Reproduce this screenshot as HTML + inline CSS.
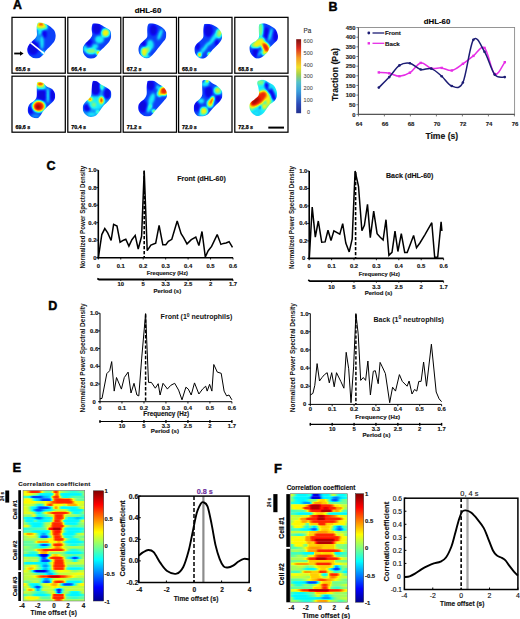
<!DOCTYPE html>
<html><head><meta charset="utf-8"><title>figure</title>
<style>
html,body{margin:0;padding:0;background:#fff;}
body{width:520px;height:619px;overflow:hidden;}
svg{display:block;}
text{font-family:'Liberation Sans',sans-serif;}
</style></head><body>
<svg width="520" height="619" viewBox="0 0 520 619">
<defs>
<filter id="cblur" x="-30%" y="-30%" width="160%" height="160%"><feGaussianBlur stdDeviation="8"/></filter><filter id="cblur2" x="-30%" y="-30%" width="160%" height="160%"><feGaussianBlur stdDeviation="7"/></filter><filter id="amap" x="-10%" y="-10%" width="120%" height="120%" color-interpolation-filters="sRGB"><feGaussianBlur stdDeviation="9"/><feComponentTransfer><feFuncR type="table" tableValues="0.05 0.05 0.05 0.1 0.5 0.98 0.98 0.92 0.55"/><feFuncG type="table" tableValues="0.02 0.05 0.45 0.95 0.98 0.95 0.55 0.1 0.02"/><feFuncB type="table" tableValues="0.56 0.98 0.98 0.98 0.5 0.05 0.02 0.02 0.02"/></feComponentTransfer></filter><clipPath id="cellclip0"><path d="M260.0,65.0 C275.0,62.5 308.3,74.2 330.0,85.0 C351.7,95.8 376.7,114.2 390.0,130.0 C403.3,145.8 408.3,163.3 410.0,180.0 C411.7,196.7 408.3,213.3 400.0,230.0 C391.7,246.7 373.3,265.0 360.0,280.0 C346.7,295.0 330.0,307.5 320.0,320.0 C310.0,332.5 308.3,345.0 300.0,355.0 C291.7,365.0 281.7,374.2 270.0,380.0 C258.3,385.8 243.3,390.8 230.0,390.0 C216.7,389.2 201.7,383.3 190.0,375.0 C178.3,366.7 165.8,352.5 160.0,340.0 C154.2,327.5 152.5,313.3 155.0,300.0 C157.5,286.7 165.0,273.3 175.0,260.0 C185.0,246.7 204.2,232.5 215.0,220.0 C225.8,207.5 235.8,198.3 240.0,185.0 C244.2,171.7 240.0,154.2 240.0,140.0 C240.0,125.8 236.7,112.5 240.0,100.0 C243.3,87.5 245.0,67.5 260.0,65.0Z"/></clipPath><clipPath id="cellclip1"><path d="M250.0,75.0 C260.8,73.3 283.3,74.2 300.0,80.0 C316.7,85.8 334.2,100.0 350.0,110.0 C365.8,120.0 385.8,126.7 395.0,140.0 C404.2,153.3 405.8,174.2 405.0,190.0 C404.2,205.8 399.2,220.0 390.0,235.0 C380.8,250.0 365.0,264.2 350.0,280.0 C335.0,295.8 312.5,315.0 300.0,330.0 C287.5,345.0 285.0,360.0 275.0,370.0 C265.0,380.0 253.3,387.5 240.0,390.0 C226.7,392.5 208.3,391.7 195.0,385.0 C181.7,378.3 167.5,364.2 160.0,350.0 C152.5,335.8 148.3,315.0 150.0,300.0 C151.7,285.0 160.0,273.3 170.0,260.0 C180.0,246.7 199.2,233.3 210.0,220.0 C220.8,206.7 231.7,195.0 235.0,180.0 C238.3,165.0 230.0,145.0 230.0,130.0 C230.0,115.0 231.7,99.2 235.0,90.0 C238.3,80.8 239.2,76.7 250.0,75.0Z"/></clipPath><clipPath id="cellclip2"><path d="M260.0,75.0 C273.3,73.3 300.0,77.5 320.0,85.0 C340.0,92.5 365.8,107.5 380.0,120.0 C394.2,132.5 401.7,145.0 405.0,160.0 C408.3,175.0 405.8,195.0 400.0,210.0 C394.2,225.0 381.7,235.0 370.0,250.0 C358.3,265.0 343.3,283.3 330.0,300.0 C316.7,316.7 303.3,335.8 290.0,350.0 C276.7,364.2 263.3,379.2 250.0,385.0 C236.7,390.8 223.3,390.0 210.0,385.0 C196.7,380.0 179.2,367.5 170.0,355.0 C160.8,342.5 155.0,325.0 155.0,310.0 C155.0,295.0 160.8,279.2 170.0,265.0 C179.2,250.8 199.2,236.7 210.0,225.0 C220.8,213.3 230.8,209.2 235.0,195.0 C239.2,180.8 234.2,156.7 235.0,140.0 C235.8,123.3 235.8,105.8 240.0,95.0 C244.2,84.2 246.7,76.7 260.0,75.0Z"/></clipPath><clipPath id="cellclip3"><path d="M260.0,80.0 C271.7,78.3 300.0,78.3 320.0,85.0 C340.0,91.7 365.0,106.7 380.0,120.0 C395.0,133.3 405.0,149.2 410.0,165.0 C415.0,180.8 415.0,199.2 410.0,215.0 C405.0,230.8 393.3,244.2 380.0,260.0 C366.7,275.8 345.0,293.3 330.0,310.0 C315.0,326.7 303.3,346.7 290.0,360.0 C276.7,373.3 263.3,385.8 250.0,390.0 C236.7,394.2 222.5,391.7 210.0,385.0 C197.5,378.3 182.5,364.2 175.0,350.0 C167.5,335.8 163.3,315.0 165.0,300.0 C166.7,285.0 175.0,272.5 185.0,260.0 C195.0,247.5 215.0,235.8 225.0,225.0 C235.0,214.2 241.7,209.2 245.0,195.0 C248.3,180.8 244.2,156.7 245.0,140.0 C245.8,123.3 247.5,105.0 250.0,95.0 C252.5,85.0 248.3,81.7 260.0,80.0Z"/></clipPath><clipPath id="cellclip4"><path d="M260.0,80.0 C268.3,75.8 283.3,71.7 300.0,75.0 C316.7,78.3 343.3,90.8 360.0,100.0 C376.7,109.2 390.0,116.7 400.0,130.0 C410.0,143.3 417.5,164.2 420.0,180.0 C422.5,195.8 421.7,211.7 415.0,225.0 C408.3,238.3 390.8,249.2 380.0,260.0 C369.2,270.8 358.3,278.3 350.0,290.0 C341.7,301.7 338.3,318.3 330.0,330.0 C321.7,341.7 313.3,350.0 300.0,360.0 C286.7,370.0 265.0,386.7 250.0,390.0 C235.0,393.3 222.5,388.3 210.0,380.0 C197.5,371.7 182.5,355.0 175.0,340.0 C167.5,325.0 163.3,304.2 165.0,290.0 C166.7,275.8 175.0,265.0 185.0,255.0 C195.0,245.0 214.2,239.2 225.0,230.0 C235.8,220.8 245.8,213.3 250.0,200.0 C254.2,186.7 250.0,166.7 250.0,150.0 C250.0,133.3 248.3,111.7 250.0,100.0 C251.7,88.3 251.7,84.2 260.0,80.0Z"/></clipPath><clipPath id="cellclip5"><path d="M250.0,80.0 C259.2,76.3 281.7,81.3 295.0,88.0 C308.3,94.7 315.8,110.5 330.0,120.0 C344.2,129.5 367.5,132.5 380.0,145.0 C392.5,157.5 402.5,178.3 405.0,195.0 C407.5,211.7 404.2,229.2 395.0,245.0 C385.8,260.8 365.8,274.2 350.0,290.0 C334.2,305.8 313.3,324.2 300.0,340.0 C286.7,355.8 279.2,374.2 270.0,385.0 C260.8,395.8 255.8,402.5 245.0,405.0 C234.2,407.5 217.5,405.8 205.0,400.0 C192.5,394.2 177.8,381.7 170.0,370.0 C162.2,358.3 157.2,345.0 158.0,330.0 C158.8,315.0 165.5,293.3 175.0,280.0 C184.5,266.7 204.5,260.8 215.0,250.0 C225.5,239.2 233.8,230.0 238.0,215.0 C242.2,200.0 239.7,177.5 240.0,160.0 C240.3,142.5 238.3,123.3 240.0,110.0 C241.7,96.7 240.8,83.7 250.0,80.0Z"/></clipPath><clipPath id="cellclip6"><path d="M245.0,70.0 C251.7,66.7 264.2,70.0 275.0,75.0 C285.8,80.0 296.7,91.7 310.0,100.0 C323.3,108.3 340.0,115.0 355.0,125.0 C370.0,135.0 391.7,145.8 400.0,160.0 C408.3,174.2 408.3,195.0 405.0,210.0 C401.7,225.0 390.8,236.7 380.0,250.0 C369.2,263.3 351.7,276.7 340.0,290.0 C328.3,303.3 319.2,317.5 310.0,330.0 C300.8,342.5 295.0,355.0 285.0,365.0 C275.0,375.0 264.2,385.8 250.0,390.0 C235.8,394.2 215.0,395.8 200.0,390.0 C185.0,384.2 168.3,369.2 160.0,355.0 C151.7,340.8 148.3,320.0 150.0,305.0 C151.7,290.0 161.7,276.7 170.0,265.0 C178.3,253.3 190.8,245.0 200.0,235.0 C209.2,225.0 220.0,219.2 225.0,205.0 C230.0,190.8 228.3,168.3 230.0,150.0 C231.7,131.7 232.5,108.3 235.0,95.0 C237.5,81.7 238.3,73.3 245.0,70.0Z"/></clipPath><clipPath id="cellclip7"><path d="M245.0,70.0 C254.2,67.5 274.2,65.0 290.0,70.0 C305.8,75.0 324.2,90.0 340.0,100.0 C355.8,110.0 373.3,118.3 385.0,130.0 C396.7,141.7 405.8,155.8 410.0,170.0 C414.2,184.2 415.0,200.8 410.0,215.0 C405.0,229.2 391.7,240.8 380.0,255.0 C368.3,269.2 352.5,285.8 340.0,300.0 C327.5,314.2 316.7,326.7 305.0,340.0 C293.3,353.3 282.5,371.7 270.0,380.0 C257.5,388.3 243.3,390.8 230.0,390.0 C216.7,389.2 201.7,383.3 190.0,375.0 C178.3,366.7 165.8,353.3 160.0,340.0 C154.2,326.7 152.5,308.3 155.0,295.0 C157.5,281.7 165.8,270.8 175.0,260.0 C184.2,249.2 200.8,241.7 210.0,230.0 C219.2,218.3 226.7,206.7 230.0,190.0 C233.3,173.3 229.2,147.5 230.0,130.0 C230.8,112.5 232.5,95.0 235.0,85.0 C237.5,75.0 235.8,72.5 245.0,70.0Z"/></clipPath><clipPath id="cellclip8"><path d="M245.0,65.0 C254.2,61.7 275.8,60.0 290.0,65.0 C304.2,70.0 315.8,85.8 330.0,95.0 C344.2,104.2 361.7,109.2 375.0,120.0 C388.3,130.8 403.3,145.0 410.0,160.0 C416.7,175.0 417.5,195.0 415.0,210.0 C412.5,225.0 405.8,235.8 395.0,250.0 C384.2,264.2 364.2,280.0 350.0,295.0 C335.8,310.0 321.7,326.7 310.0,340.0 C298.3,353.3 291.7,366.7 280.0,375.0 C268.3,383.3 254.2,388.3 240.0,390.0 C225.8,391.7 207.5,391.7 195.0,385.0 C182.5,378.3 170.8,364.2 165.0,350.0 C159.2,335.8 157.5,315.0 160.0,300.0 C162.5,285.0 170.8,271.7 180.0,260.0 C189.2,248.3 205.8,240.8 215.0,230.0 C224.2,219.2 231.7,210.0 235.0,195.0 C238.3,180.0 235.0,158.3 235.0,140.0 C235.0,121.7 233.3,97.5 235.0,85.0 C236.7,72.5 235.8,68.3 245.0,65.0Z"/></clipPath><clipPath id="cellclip9"><path d="M245.0,70.0 C254.2,64.2 274.2,57.5 290.0,60.0 C305.8,62.5 324.2,75.8 340.0,85.0 C355.8,94.2 373.3,101.7 385.0,115.0 C396.7,128.3 405.8,148.3 410.0,165.0 C414.2,181.7 413.3,200.8 410.0,215.0 C406.7,229.2 400.0,239.2 390.0,250.0 C380.0,260.8 361.7,268.3 350.0,280.0 C338.3,291.7 330.0,306.7 320.0,320.0 C310.0,333.3 302.5,349.2 290.0,360.0 C277.5,370.8 260.0,383.3 245.0,385.0 C230.0,386.7 212.5,379.2 200.0,370.0 C187.5,360.8 175.8,344.2 170.0,330.0 C164.2,315.8 162.5,297.5 165.0,285.0 C167.5,272.5 175.0,265.0 185.0,255.0 C195.0,245.0 214.2,235.8 225.0,225.0 C235.8,214.2 246.7,205.8 250.0,190.0 C253.3,174.2 247.5,145.8 245.0,130.0 C242.5,114.2 235.0,105.0 235.0,95.0 C235.0,85.0 235.8,75.8 245.0,70.0Z"/></clipPath><linearGradient id="acb" x1="0" y1="1" x2="0" y2="0"><stop offset="0.0" stop-color="#23328f"/><stop offset="0.12" stop-color="#2a48b8"/><stop offset="0.3" stop-color="#3aa0dc"/><stop offset="0.42" stop-color="#54c2c8"/><stop offset="0.52" stop-color="#a0d050"/><stop offset="0.62" stop-color="#f0e028"/><stop offset="0.75" stop-color="#f39a22"/><stop offset="0.88" stop-color="#dc2a1e"/><stop offset="1.0" stop-color="#7a1212"/></linearGradient><linearGradient id="jetv" x1="0" y1="1" x2="0" y2="0"><stop offset="0.0" stop-color="#00008f"/><stop offset="0.125" stop-color="#0000ff"/><stop offset="0.375" stop-color="#00ffff"/><stop offset="0.625" stop-color="#ffff00"/><stop offset="0.875" stop-color="#ff0000"/><stop offset="1.0" stop-color="#800000"/></linearGradient><filter id="hblur" x="-20%" y="-20%" width="140%" height="140%"><feGaussianBlur stdDeviation="1.1 0.6"/></filter><filter id="jetmap" x="-5%" y="-5%" width="110%" height="110%" color-interpolation-filters="sRGB"><feGaussianBlur stdDeviation="0.5 0.35"/><feComponentTransfer><feFuncR type="table" tableValues="0 0 0 0 0.5 1 1 1 0.5"/><feFuncG type="table" tableValues="0 0 0.5 1 1 1 0.5 0 0"/><feFuncB type="table" tableValues="0.56 1 1 1 0.5 0 0 0 0"/></feComponentTransfer></filter><clipPath id="clipE"><rect x="23.10" y="490.40" width="61.60" height="110.60"/></clipPath><linearGradient id="clipEr0" gradientUnits="userSpaceOnUse" x1="23.10" y1="0" x2="84.70" y2="0"><stop offset="0.000" stop-color="#a1a1a1"/><stop offset="0.024" stop-color="#a1a1a1"/><stop offset="0.048" stop-color="#a1a1a1"/><stop offset="0.071" stop-color="#afafaf"/><stop offset="0.095" stop-color="#b9b9b9"/><stop offset="0.119" stop-color="#cecece"/><stop offset="0.143" stop-color="#d6d6d6"/><stop offset="0.167" stop-color="#d6d6d6"/><stop offset="0.190" stop-color="#d6d6d6"/><stop offset="0.214" stop-color="#d6d6d6"/><stop offset="0.238" stop-color="#d5d5d5"/><stop offset="0.262" stop-color="#cdcdcd"/><stop offset="0.286" stop-color="#b7b7b7"/><stop offset="0.310" stop-color="#9d9d9d"/><stop offset="0.333" stop-color="#8c8c8c"/><stop offset="0.357" stop-color="#7f7f7f"/><stop offset="0.381" stop-color="#797979"/><stop offset="0.405" stop-color="#777777"/><stop offset="0.429" stop-color="#787878"/><stop offset="0.452" stop-color="#7d7d7d"/><stop offset="0.476" stop-color="#969696"/><stop offset="0.500" stop-color="#c1c1c1"/><stop offset="0.524" stop-color="#d3d3d3"/><stop offset="0.548" stop-color="#d1d1d1"/><stop offset="0.571" stop-color="#bababa"/><stop offset="0.595" stop-color="#999999"/><stop offset="0.619" stop-color="#8b8b8b"/><stop offset="0.643" stop-color="#868686"/><stop offset="0.667" stop-color="#808080"/><stop offset="0.690" stop-color="#7b7b7b"/><stop offset="0.714" stop-color="#777777"/><stop offset="0.738" stop-color="#737373"/><stop offset="0.762" stop-color="#6f6f6f"/><stop offset="0.786" stop-color="#6b6b6b"/><stop offset="0.810" stop-color="#6a6a6a"/><stop offset="0.833" stop-color="#6a6a6a"/><stop offset="0.857" stop-color="#6b6b6b"/><stop offset="0.881" stop-color="#6f6f6f"/><stop offset="0.905" stop-color="#737373"/><stop offset="0.929" stop-color="#777777"/><stop offset="0.952" stop-color="#7a7a7a"/><stop offset="0.976" stop-color="#7c7c7c"/><stop offset="1.000" stop-color="#7d7d7d"/></linearGradient><linearGradient id="clipEr1" gradientUnits="userSpaceOnUse" x1="23.10" y1="0" x2="84.70" y2="0"><stop offset="0.000" stop-color="#9a9a9a"/><stop offset="0.024" stop-color="#9d9d9d"/><stop offset="0.048" stop-color="#9f9f9f"/><stop offset="0.071" stop-color="#9f9f9f"/><stop offset="0.095" stop-color="#9e9e9e"/><stop offset="0.119" stop-color="#9a9a9a"/><stop offset="0.143" stop-color="#969696"/><stop offset="0.167" stop-color="#919191"/><stop offset="0.190" stop-color="#8d8d8d"/><stop offset="0.214" stop-color="#878787"/><stop offset="0.238" stop-color="#7c7c7c"/><stop offset="0.262" stop-color="#6d6d6d"/><stop offset="0.286" stop-color="#606060"/><stop offset="0.310" stop-color="#5e5e5e"/><stop offset="0.333" stop-color="#5e5e5e"/><stop offset="0.357" stop-color="#5e5e5e"/><stop offset="0.381" stop-color="#5e5e5e"/><stop offset="0.405" stop-color="#5e5e5e"/><stop offset="0.429" stop-color="#5e5e5e"/><stop offset="0.452" stop-color="#5e5e5e"/><stop offset="0.476" stop-color="#656565"/><stop offset="0.500" stop-color="#8b8b8b"/><stop offset="0.524" stop-color="#b3b3b3"/><stop offset="0.548" stop-color="#c5c5c5"/><stop offset="0.571" stop-color="#bababa"/><stop offset="0.595" stop-color="#858585"/><stop offset="0.619" stop-color="#636363"/><stop offset="0.643" stop-color="#5e5e5e"/><stop offset="0.667" stop-color="#5e5e5e"/><stop offset="0.690" stop-color="#5e5e5e"/><stop offset="0.714" stop-color="#5e5e5e"/><stop offset="0.738" stop-color="#5e5e5e"/><stop offset="0.762" stop-color="#5e5e5e"/><stop offset="0.786" stop-color="#5e5e5e"/><stop offset="0.810" stop-color="#5e5e5e"/><stop offset="0.833" stop-color="#5e5e5e"/><stop offset="0.857" stop-color="#5e5e5e"/><stop offset="0.881" stop-color="#5e5e5e"/><stop offset="0.905" stop-color="#5e5e5e"/><stop offset="0.929" stop-color="#606060"/><stop offset="0.952" stop-color="#6d6d6d"/><stop offset="0.976" stop-color="#7d7d7d"/><stop offset="1.000" stop-color="#898989"/></linearGradient><linearGradient id="clipEr2" gradientUnits="userSpaceOnUse" x1="23.10" y1="0" x2="84.70" y2="0"><stop offset="0.000" stop-color="#707070"/><stop offset="0.024" stop-color="#707070"/><stop offset="0.048" stop-color="#707070"/><stop offset="0.071" stop-color="#6e6e6e"/><stop offset="0.095" stop-color="#666666"/><stop offset="0.119" stop-color="#555555"/><stop offset="0.143" stop-color="#3e3e3e"/><stop offset="0.167" stop-color="#313131"/><stop offset="0.190" stop-color="#303030"/><stop offset="0.214" stop-color="#303030"/><stop offset="0.238" stop-color="#303030"/><stop offset="0.262" stop-color="#303030"/><stop offset="0.286" stop-color="#333333"/><stop offset="0.310" stop-color="#3e3e3e"/><stop offset="0.333" stop-color="#494949"/><stop offset="0.357" stop-color="#4f4f4f"/><stop offset="0.381" stop-color="#515151"/><stop offset="0.405" stop-color="#545454"/><stop offset="0.429" stop-color="#5a5a5a"/><stop offset="0.452" stop-color="#6d6d6d"/><stop offset="0.476" stop-color="#afafaf"/><stop offset="0.500" stop-color="#cbcbcb"/><stop offset="0.524" stop-color="#d3d3d3"/><stop offset="0.548" stop-color="#d4d4d4"/><stop offset="0.571" stop-color="#cecece"/><stop offset="0.595" stop-color="#a3a3a3"/><stop offset="0.619" stop-color="#808080"/><stop offset="0.643" stop-color="#6c6c6c"/><stop offset="0.667" stop-color="#646464"/><stop offset="0.690" stop-color="#626262"/><stop offset="0.714" stop-color="#646464"/><stop offset="0.738" stop-color="#686868"/><stop offset="0.762" stop-color="#6d6d6d"/><stop offset="0.786" stop-color="#717171"/><stop offset="0.810" stop-color="#747474"/><stop offset="0.833" stop-color="#757575"/><stop offset="0.857" stop-color="#767676"/><stop offset="0.881" stop-color="#767676"/><stop offset="0.905" stop-color="#767676"/><stop offset="0.929" stop-color="#757575"/><stop offset="0.952" stop-color="#747474"/><stop offset="0.976" stop-color="#737373"/><stop offset="1.000" stop-color="#727272"/></linearGradient><linearGradient id="clipEr3" gradientUnits="userSpaceOnUse" x1="23.10" y1="0" x2="84.70" y2="0"><stop offset="0.000" stop-color="#909090"/><stop offset="0.024" stop-color="#9a9a9a"/><stop offset="0.048" stop-color="#a0a0a0"/><stop offset="0.071" stop-color="#a1a1a1"/><stop offset="0.095" stop-color="#a0a0a0"/><stop offset="0.119" stop-color="#9c9c9c"/><stop offset="0.143" stop-color="#919191"/><stop offset="0.167" stop-color="#7a7a7a"/><stop offset="0.190" stop-color="#636363"/><stop offset="0.214" stop-color="#5a5a5a"/><stop offset="0.238" stop-color="#575757"/><stop offset="0.262" stop-color="#505050"/><stop offset="0.286" stop-color="#434343"/><stop offset="0.310" stop-color="#363636"/><stop offset="0.333" stop-color="#303030"/><stop offset="0.357" stop-color="#303030"/><stop offset="0.381" stop-color="#303030"/><stop offset="0.405" stop-color="#303030"/><stop offset="0.429" stop-color="#343434"/><stop offset="0.452" stop-color="#4b4b4b"/><stop offset="0.476" stop-color="#7f7f7f"/><stop offset="0.500" stop-color="#bfbfbf"/><stop offset="0.524" stop-color="#d0d0d0"/><stop offset="0.548" stop-color="#d5d5d5"/><stop offset="0.571" stop-color="#d6d6d6"/><stop offset="0.595" stop-color="#d6d6d6"/><stop offset="0.619" stop-color="#d6d6d6"/><stop offset="0.643" stop-color="#d6d6d6"/><stop offset="0.667" stop-color="#d6d6d6"/><stop offset="0.690" stop-color="#d6d6d6"/><stop offset="0.714" stop-color="#d6d6d6"/><stop offset="0.738" stop-color="#d6d6d6"/><stop offset="0.762" stop-color="#cfcfcf"/><stop offset="0.786" stop-color="#bebebe"/><stop offset="0.810" stop-color="#a7a7a7"/><stop offset="0.833" stop-color="#929292"/><stop offset="0.857" stop-color="#848484"/><stop offset="0.881" stop-color="#7d7d7d"/><stop offset="0.905" stop-color="#7a7a7a"/><stop offset="0.929" stop-color="#787878"/><stop offset="0.952" stop-color="#787878"/><stop offset="0.976" stop-color="#787878"/><stop offset="1.000" stop-color="#787878"/></linearGradient><linearGradient id="clipEr4" gradientUnits="userSpaceOnUse" x1="23.10" y1="0" x2="84.70" y2="0"><stop offset="0.000" stop-color="#9e9e9e"/><stop offset="0.024" stop-color="#a0a0a0"/><stop offset="0.048" stop-color="#a1a1a1"/><stop offset="0.071" stop-color="#a1a1a1"/><stop offset="0.095" stop-color="#a1a1a1"/><stop offset="0.119" stop-color="#a1a1a1"/><stop offset="0.143" stop-color="#a1a1a1"/><stop offset="0.167" stop-color="#a0a0a0"/><stop offset="0.190" stop-color="#9f9f9f"/><stop offset="0.214" stop-color="#9b9b9b"/><stop offset="0.238" stop-color="#979797"/><stop offset="0.262" stop-color="#959595"/><stop offset="0.286" stop-color="#949494"/><stop offset="0.310" stop-color="#969696"/><stop offset="0.333" stop-color="#999999"/><stop offset="0.357" stop-color="#9e9e9e"/><stop offset="0.381" stop-color="#a3a3a3"/><stop offset="0.405" stop-color="#a7a7a7"/><stop offset="0.429" stop-color="#ababab"/><stop offset="0.452" stop-color="#b6b6b6"/><stop offset="0.476" stop-color="#c4c4c4"/><stop offset="0.500" stop-color="#cecece"/><stop offset="0.524" stop-color="#cfcfcf"/><stop offset="0.548" stop-color="#d6d6d6"/><stop offset="0.571" stop-color="#d6d6d6"/><stop offset="0.595" stop-color="#d6d6d6"/><stop offset="0.619" stop-color="#d6d6d6"/><stop offset="0.643" stop-color="#d6d6d6"/><stop offset="0.667" stop-color="#d6d6d6"/><stop offset="0.690" stop-color="#d6d6d6"/><stop offset="0.714" stop-color="#d6d6d6"/><stop offset="0.738" stop-color="#d6d6d6"/><stop offset="0.762" stop-color="#d6d6d6"/><stop offset="0.786" stop-color="#cfcfcf"/><stop offset="0.810" stop-color="#bcbcbc"/><stop offset="0.833" stop-color="#a9a9a9"/><stop offset="0.857" stop-color="#9d9d9d"/><stop offset="0.881" stop-color="#989898"/><stop offset="0.905" stop-color="#989898"/><stop offset="0.929" stop-color="#989898"/><stop offset="0.952" stop-color="#989898"/><stop offset="0.976" stop-color="#989898"/><stop offset="1.000" stop-color="#999999"/></linearGradient><linearGradient id="clipEr5" gradientUnits="userSpaceOnUse" x1="23.10" y1="0" x2="84.70" y2="0"><stop offset="0.000" stop-color="#919191"/><stop offset="0.024" stop-color="#929292"/><stop offset="0.048" stop-color="#929292"/><stop offset="0.071" stop-color="#929292"/><stop offset="0.095" stop-color="#929292"/><stop offset="0.119" stop-color="#929292"/><stop offset="0.143" stop-color="#8f8f8f"/><stop offset="0.167" stop-color="#8a8a8a"/><stop offset="0.190" stop-color="#808080"/><stop offset="0.214" stop-color="#757575"/><stop offset="0.238" stop-color="#6b6b6b"/><stop offset="0.262" stop-color="#666666"/><stop offset="0.286" stop-color="#666666"/><stop offset="0.310" stop-color="#6c6c6c"/><stop offset="0.333" stop-color="#7d7d7d"/><stop offset="0.357" stop-color="#949494"/><stop offset="0.381" stop-color="#aeaeae"/><stop offset="0.405" stop-color="#c2c2c2"/><stop offset="0.429" stop-color="#cecece"/><stop offset="0.452" stop-color="#d1d1d1"/><stop offset="0.476" stop-color="#bdbdbd"/><stop offset="0.500" stop-color="#a1a1a1"/><stop offset="0.524" stop-color="#a1a1a1"/><stop offset="0.548" stop-color="#a1a1a1"/><stop offset="0.571" stop-color="#a1a1a1"/><stop offset="0.595" stop-color="#a0a0a0"/><stop offset="0.619" stop-color="#a0a0a0"/><stop offset="0.643" stop-color="#9a9a9a"/><stop offset="0.667" stop-color="#8e8e8e"/><stop offset="0.690" stop-color="#989898"/><stop offset="0.714" stop-color="#a7a7a7"/><stop offset="0.738" stop-color="#b1b1b1"/><stop offset="0.762" stop-color="#b2b2b2"/><stop offset="0.786" stop-color="#b3b3b3"/><stop offset="0.810" stop-color="#b4b4b4"/><stop offset="0.833" stop-color="#b5b5b5"/><stop offset="0.857" stop-color="#b2b2b2"/><stop offset="0.881" stop-color="#a8a8a8"/><stop offset="0.905" stop-color="#9c9c9c"/><stop offset="0.929" stop-color="#959595"/><stop offset="0.952" stop-color="#929292"/><stop offset="0.976" stop-color="#929292"/><stop offset="1.000" stop-color="#919191"/></linearGradient><linearGradient id="clipEr6" gradientUnits="userSpaceOnUse" x1="23.10" y1="0" x2="84.70" y2="0"><stop offset="0.000" stop-color="#999999"/><stop offset="0.024" stop-color="#989898"/><stop offset="0.048" stop-color="#979797"/><stop offset="0.071" stop-color="#919191"/><stop offset="0.095" stop-color="#868686"/><stop offset="0.119" stop-color="#747474"/><stop offset="0.143" stop-color="#646464"/><stop offset="0.167" stop-color="#5e5e5e"/><stop offset="0.190" stop-color="#5b5b5b"/><stop offset="0.214" stop-color="#535353"/><stop offset="0.238" stop-color="#454545"/><stop offset="0.262" stop-color="#363636"/><stop offset="0.286" stop-color="#303030"/><stop offset="0.310" stop-color="#303030"/><stop offset="0.333" stop-color="#303030"/><stop offset="0.357" stop-color="#303030"/><stop offset="0.381" stop-color="#303030"/><stop offset="0.405" stop-color="#373737"/><stop offset="0.429" stop-color="#474747"/><stop offset="0.452" stop-color="#575757"/><stop offset="0.476" stop-color="#767676"/><stop offset="0.500" stop-color="#a0a0a0"/><stop offset="0.524" stop-color="#b8b8b8"/><stop offset="0.548" stop-color="#b7b7b7"/><stop offset="0.571" stop-color="#a0a0a0"/><stop offset="0.595" stop-color="#7e7e7e"/><stop offset="0.619" stop-color="#636363"/><stop offset="0.643" stop-color="#5e5e5e"/><stop offset="0.667" stop-color="#5e5e5e"/><stop offset="0.690" stop-color="#5e5e5e"/><stop offset="0.714" stop-color="#5e5e5e"/><stop offset="0.738" stop-color="#5e5e5e"/><stop offset="0.762" stop-color="#5e5e5e"/><stop offset="0.786" stop-color="#5e5e5e"/><stop offset="0.810" stop-color="#5e5e5e"/><stop offset="0.833" stop-color="#5e5e5e"/><stop offset="0.857" stop-color="#5f5f5f"/><stop offset="0.881" stop-color="#6a6a6a"/><stop offset="0.905" stop-color="#7a7a7a"/><stop offset="0.929" stop-color="#8a8a8a"/><stop offset="0.952" stop-color="#949494"/><stop offset="0.976" stop-color="#989898"/><stop offset="1.000" stop-color="#9a9a9a"/></linearGradient><linearGradient id="clipEr7" gradientUnits="userSpaceOnUse" x1="23.10" y1="0" x2="84.70" y2="0"><stop offset="0.000" stop-color="#999999"/><stop offset="0.024" stop-color="#989898"/><stop offset="0.048" stop-color="#979797"/><stop offset="0.071" stop-color="#939393"/><stop offset="0.095" stop-color="#8a8a8a"/><stop offset="0.119" stop-color="#7b7b7b"/><stop offset="0.143" stop-color="#666666"/><stop offset="0.167" stop-color="#535353"/><stop offset="0.190" stop-color="#454545"/><stop offset="0.214" stop-color="#3a3a3a"/><stop offset="0.238" stop-color="#353535"/><stop offset="0.262" stop-color="#353535"/><stop offset="0.286" stop-color="#393939"/><stop offset="0.310" stop-color="#424242"/><stop offset="0.333" stop-color="#4d4d4d"/><stop offset="0.357" stop-color="#565656"/><stop offset="0.381" stop-color="#5b5b5b"/><stop offset="0.405" stop-color="#5d5d5d"/><stop offset="0.429" stop-color="#5e5e5e"/><stop offset="0.452" stop-color="#646464"/><stop offset="0.476" stop-color="#6f6f6f"/><stop offset="0.500" stop-color="#7c7c7c"/><stop offset="0.524" stop-color="#878787"/><stop offset="0.548" stop-color="#8e8e8e"/><stop offset="0.571" stop-color="#909090"/><stop offset="0.595" stop-color="#909090"/><stop offset="0.619" stop-color="#909090"/><stop offset="0.643" stop-color="#919191"/><stop offset="0.667" stop-color="#919191"/><stop offset="0.690" stop-color="#8d8d8d"/><stop offset="0.714" stop-color="#848484"/><stop offset="0.738" stop-color="#747474"/><stop offset="0.762" stop-color="#656565"/><stop offset="0.786" stop-color="#5e5e5e"/><stop offset="0.810" stop-color="#5e5e5e"/><stop offset="0.833" stop-color="#5e5e5e"/><stop offset="0.857" stop-color="#5e5e5e"/><stop offset="0.881" stop-color="#5e5e5e"/><stop offset="0.905" stop-color="#5e5e5e"/><stop offset="0.929" stop-color="#5e5e5e"/><stop offset="0.952" stop-color="#626262"/><stop offset="0.976" stop-color="#717171"/><stop offset="1.000" stop-color="#838383"/></linearGradient><linearGradient id="clipEr8" gradientUnits="userSpaceOnUse" x1="23.10" y1="0" x2="84.70" y2="0"><stop offset="0.000" stop-color="#999999"/><stop offset="0.024" stop-color="#999999"/><stop offset="0.048" stop-color="#999999"/><stop offset="0.071" stop-color="#999999"/><stop offset="0.095" stop-color="#999999"/><stop offset="0.119" stop-color="#989898"/><stop offset="0.143" stop-color="#949494"/><stop offset="0.167" stop-color="#8c8c8c"/><stop offset="0.190" stop-color="#7d7d7d"/><stop offset="0.214" stop-color="#6a6a6a"/><stop offset="0.238" stop-color="#5c5c5c"/><stop offset="0.262" stop-color="#5a5a5a"/><stop offset="0.286" stop-color="#626262"/><stop offset="0.310" stop-color="#737373"/><stop offset="0.333" stop-color="#858585"/><stop offset="0.357" stop-color="#959595"/><stop offset="0.381" stop-color="#a2a2a2"/><stop offset="0.405" stop-color="#adadad"/><stop offset="0.429" stop-color="#b5b5b5"/><stop offset="0.452" stop-color="#c0c0c0"/><stop offset="0.476" stop-color="#cfcfcf"/><stop offset="0.500" stop-color="#d6d6d6"/><stop offset="0.524" stop-color="#d6d6d6"/><stop offset="0.548" stop-color="#d6d6d6"/><stop offset="0.571" stop-color="#d6d6d6"/><stop offset="0.595" stop-color="#d6d6d6"/><stop offset="0.619" stop-color="#d6d6d6"/><stop offset="0.643" stop-color="#d6d6d6"/><stop offset="0.667" stop-color="#d5d5d5"/><stop offset="0.690" stop-color="#d3d3d3"/><stop offset="0.714" stop-color="#cbcbcb"/><stop offset="0.738" stop-color="#bababa"/><stop offset="0.762" stop-color="#a0a0a0"/><stop offset="0.786" stop-color="#828282"/><stop offset="0.810" stop-color="#6e6e6e"/><stop offset="0.833" stop-color="#646464"/><stop offset="0.857" stop-color="#626262"/><stop offset="0.881" stop-color="#626262"/><stop offset="0.905" stop-color="#666666"/><stop offset="0.929" stop-color="#6d6d6d"/><stop offset="0.952" stop-color="#767676"/><stop offset="0.976" stop-color="#7f7f7f"/><stop offset="1.000" stop-color="#848484"/></linearGradient><linearGradient id="clipEr9" gradientUnits="userSpaceOnUse" x1="23.10" y1="0" x2="84.70" y2="0"><stop offset="0.000" stop-color="#888888"/><stop offset="0.024" stop-color="#878787"/><stop offset="0.048" stop-color="#868686"/><stop offset="0.071" stop-color="#838383"/><stop offset="0.095" stop-color="#818181"/><stop offset="0.119" stop-color="#838383"/><stop offset="0.143" stop-color="#8d8d8d"/><stop offset="0.167" stop-color="#9a9a9a"/><stop offset="0.190" stop-color="#969696"/><stop offset="0.214" stop-color="#7e7e7e"/><stop offset="0.238" stop-color="#6b6b6b"/><stop offset="0.262" stop-color="#656565"/><stop offset="0.286" stop-color="#656565"/><stop offset="0.310" stop-color="#696969"/><stop offset="0.333" stop-color="#707070"/><stop offset="0.357" stop-color="#777777"/><stop offset="0.381" stop-color="#7d7d7d"/><stop offset="0.405" stop-color="#838383"/><stop offset="0.429" stop-color="#8a8a8a"/><stop offset="0.452" stop-color="#909090"/><stop offset="0.476" stop-color="#939393"/><stop offset="0.500" stop-color="#adadad"/><stop offset="0.524" stop-color="#cdcdcd"/><stop offset="0.548" stop-color="#d6d6d6"/><stop offset="0.571" stop-color="#d6d6d6"/><stop offset="0.595" stop-color="#d6d6d6"/><stop offset="0.619" stop-color="#d6d6d6"/><stop offset="0.643" stop-color="#c9c9c9"/><stop offset="0.667" stop-color="#a9a9a9"/><stop offset="0.690" stop-color="#909090"/><stop offset="0.714" stop-color="#898989"/><stop offset="0.738" stop-color="#888888"/><stop offset="0.762" stop-color="#888888"/><stop offset="0.786" stop-color="#878787"/><stop offset="0.810" stop-color="#878787"/><stop offset="0.833" stop-color="#868686"/><stop offset="0.857" stop-color="#848484"/><stop offset="0.881" stop-color="#818181"/><stop offset="0.905" stop-color="#7d7d7d"/><stop offset="0.929" stop-color="#777777"/><stop offset="0.952" stop-color="#727272"/><stop offset="0.976" stop-color="#6f6f6f"/><stop offset="1.000" stop-color="#6f6f6f"/></linearGradient><linearGradient id="clipEr10" gradientUnits="userSpaceOnUse" x1="23.10" y1="0" x2="84.70" y2="0"><stop offset="0.000" stop-color="#6e6e6e"/><stop offset="0.024" stop-color="#686868"/><stop offset="0.048" stop-color="#606060"/><stop offset="0.071" stop-color="#5e5e5e"/><stop offset="0.095" stop-color="#5e5e5e"/><stop offset="0.119" stop-color="#5e5e5e"/><stop offset="0.143" stop-color="#5c5c5c"/><stop offset="0.167" stop-color="#595959"/><stop offset="0.190" stop-color="#4f4f4f"/><stop offset="0.214" stop-color="#434343"/><stop offset="0.238" stop-color="#3c3c3c"/><stop offset="0.262" stop-color="#3c3c3c"/><stop offset="0.286" stop-color="#424242"/><stop offset="0.310" stop-color="#4c4c4c"/><stop offset="0.333" stop-color="#565656"/><stop offset="0.357" stop-color="#5c5c5c"/><stop offset="0.381" stop-color="#5e5e5e"/><stop offset="0.405" stop-color="#5e5e5e"/><stop offset="0.429" stop-color="#5e5e5e"/><stop offset="0.452" stop-color="#616161"/><stop offset="0.476" stop-color="#787878"/><stop offset="0.500" stop-color="#b2b2b2"/><stop offset="0.524" stop-color="#cccccc"/><stop offset="0.548" stop-color="#d4d4d4"/><stop offset="0.571" stop-color="#d6d6d6"/><stop offset="0.595" stop-color="#d6d6d6"/><stop offset="0.619" stop-color="#d3d3d3"/><stop offset="0.643" stop-color="#cbcbcb"/><stop offset="0.667" stop-color="#b0b0b0"/><stop offset="0.690" stop-color="#777777"/><stop offset="0.714" stop-color="#727272"/><stop offset="0.738" stop-color="#5d5d5d"/><stop offset="0.762" stop-color="#5d5d5d"/><stop offset="0.786" stop-color="#5d5d5d"/><stop offset="0.810" stop-color="#5c5c5c"/><stop offset="0.833" stop-color="#595959"/><stop offset="0.857" stop-color="#555555"/><stop offset="0.881" stop-color="#525252"/><stop offset="0.905" stop-color="#535353"/><stop offset="0.929" stop-color="#565656"/><stop offset="0.952" stop-color="#5b5b5b"/><stop offset="0.976" stop-color="#606060"/><stop offset="1.000" stop-color="#646464"/></linearGradient><linearGradient id="clipEr11" gradientUnits="userSpaceOnUse" x1="23.10" y1="0" x2="84.70" y2="0"><stop offset="0.000" stop-color="#909090"/><stop offset="0.024" stop-color="#787878"/><stop offset="0.048" stop-color="#606060"/><stop offset="0.071" stop-color="#5e5e5e"/><stop offset="0.095" stop-color="#5e5e5e"/><stop offset="0.119" stop-color="#5e5e5e"/><stop offset="0.143" stop-color="#5e5e5e"/><stop offset="0.167" stop-color="#666666"/><stop offset="0.190" stop-color="#757575"/><stop offset="0.214" stop-color="#727272"/><stop offset="0.238" stop-color="#666666"/><stop offset="0.262" stop-color="#606060"/><stop offset="0.286" stop-color="#5e5e5e"/><stop offset="0.310" stop-color="#5e5e5e"/><stop offset="0.333" stop-color="#5e5e5e"/><stop offset="0.357" stop-color="#5e5e5e"/><stop offset="0.381" stop-color="#5f5f5f"/><stop offset="0.405" stop-color="#636363"/><stop offset="0.429" stop-color="#6a6a6a"/><stop offset="0.452" stop-color="#747474"/><stop offset="0.476" stop-color="#8a8a8a"/><stop offset="0.500" stop-color="#b5b5b5"/><stop offset="0.524" stop-color="#d4d4d4"/><stop offset="0.548" stop-color="#d6d6d6"/><stop offset="0.571" stop-color="#d5d5d5"/><stop offset="0.595" stop-color="#cecece"/><stop offset="0.619" stop-color="#b6b6b6"/><stop offset="0.643" stop-color="#888888"/><stop offset="0.667" stop-color="#616161"/><stop offset="0.690" stop-color="#5e5e5e"/><stop offset="0.714" stop-color="#5e5e5e"/><stop offset="0.738" stop-color="#5e5e5e"/><stop offset="0.762" stop-color="#5e5e5e"/><stop offset="0.786" stop-color="#5e5e5e"/><stop offset="0.810" stop-color="#5e5e5e"/><stop offset="0.833" stop-color="#5e5e5e"/><stop offset="0.857" stop-color="#5e5e5e"/><stop offset="0.881" stop-color="#5e5e5e"/><stop offset="0.905" stop-color="#656565"/><stop offset="0.929" stop-color="#7c7c7c"/><stop offset="0.952" stop-color="#8f8f8f"/><stop offset="0.976" stop-color="#979797"/><stop offset="1.000" stop-color="#999999"/></linearGradient><linearGradient id="clipEr12" gradientUnits="userSpaceOnUse" x1="23.10" y1="0" x2="84.70" y2="0"><stop offset="0.000" stop-color="#878787"/><stop offset="0.024" stop-color="#858585"/><stop offset="0.048" stop-color="#808080"/><stop offset="0.071" stop-color="#777777"/><stop offset="0.095" stop-color="#6e6e6e"/><stop offset="0.119" stop-color="#666666"/><stop offset="0.143" stop-color="#606060"/><stop offset="0.167" stop-color="#5e5e5e"/><stop offset="0.190" stop-color="#5e5e5e"/><stop offset="0.214" stop-color="#5e5e5e"/><stop offset="0.238" stop-color="#5e5e5e"/><stop offset="0.262" stop-color="#5e5e5e"/><stop offset="0.286" stop-color="#5e5e5e"/><stop offset="0.310" stop-color="#646464"/><stop offset="0.333" stop-color="#737373"/><stop offset="0.357" stop-color="#828282"/><stop offset="0.381" stop-color="#8a8a8a"/><stop offset="0.405" stop-color="#8b8b8b"/><stop offset="0.429" stop-color="#8d8d8d"/><stop offset="0.452" stop-color="#a2a2a2"/><stop offset="0.476" stop-color="#cacaca"/><stop offset="0.500" stop-color="#d6d6d6"/><stop offset="0.524" stop-color="#d6d6d6"/><stop offset="0.548" stop-color="#d6d6d6"/><stop offset="0.571" stop-color="#d6d6d6"/><stop offset="0.595" stop-color="#d4d4d4"/><stop offset="0.619" stop-color="#cdcdcd"/><stop offset="0.643" stop-color="#b4b4b4"/><stop offset="0.667" stop-color="#808080"/><stop offset="0.690" stop-color="#656565"/><stop offset="0.714" stop-color="#5f5f5f"/><stop offset="0.738" stop-color="#5e5e5e"/><stop offset="0.762" stop-color="#5e5e5e"/><stop offset="0.786" stop-color="#5e5e5e"/><stop offset="0.810" stop-color="#5e5e5e"/><stop offset="0.833" stop-color="#5e5e5e"/><stop offset="0.857" stop-color="#606060"/><stop offset="0.881" stop-color="#686868"/><stop offset="0.905" stop-color="#767676"/><stop offset="0.929" stop-color="#808080"/><stop offset="0.952" stop-color="#858585"/><stop offset="0.976" stop-color="#878787"/><stop offset="1.000" stop-color="#878787"/></linearGradient><linearGradient id="clipEr13" gradientUnits="userSpaceOnUse" x1="23.10" y1="0" x2="84.70" y2="0"><stop offset="0.000" stop-color="#969696"/><stop offset="0.024" stop-color="#999999"/><stop offset="0.048" stop-color="#9a9a9a"/><stop offset="0.071" stop-color="#979797"/><stop offset="0.095" stop-color="#8b8b8b"/><stop offset="0.119" stop-color="#797979"/><stop offset="0.143" stop-color="#686868"/><stop offset="0.167" stop-color="#5f5f5f"/><stop offset="0.190" stop-color="#5e5e5e"/><stop offset="0.214" stop-color="#5e5e5e"/><stop offset="0.238" stop-color="#5e5e5e"/><stop offset="0.262" stop-color="#5e5e5e"/><stop offset="0.286" stop-color="#616161"/><stop offset="0.310" stop-color="#6a6a6a"/><stop offset="0.333" stop-color="#777777"/><stop offset="0.357" stop-color="#838383"/><stop offset="0.381" stop-color="#8c8c8c"/><stop offset="0.405" stop-color="#939393"/><stop offset="0.429" stop-color="#9e9e9e"/><stop offset="0.452" stop-color="#afafaf"/><stop offset="0.476" stop-color="#cecece"/><stop offset="0.500" stop-color="#d6d6d6"/><stop offset="0.524" stop-color="#d6d6d6"/><stop offset="0.548" stop-color="#d6d6d6"/><stop offset="0.571" stop-color="#d6d6d6"/><stop offset="0.595" stop-color="#d6d6d6"/><stop offset="0.619" stop-color="#d6d6d6"/><stop offset="0.643" stop-color="#d2d2d2"/><stop offset="0.667" stop-color="#b0b0b0"/><stop offset="0.690" stop-color="#949494"/><stop offset="0.714" stop-color="#898989"/><stop offset="0.738" stop-color="#838383"/><stop offset="0.762" stop-color="#7b7b7b"/><stop offset="0.786" stop-color="#767676"/><stop offset="0.810" stop-color="#727272"/><stop offset="0.833" stop-color="#727272"/><stop offset="0.857" stop-color="#757575"/><stop offset="0.881" stop-color="#787878"/><stop offset="0.905" stop-color="#7c7c7c"/><stop offset="0.929" stop-color="#7d7d7d"/><stop offset="0.952" stop-color="#7d7d7d"/><stop offset="0.976" stop-color="#7d7d7d"/><stop offset="1.000" stop-color="#7f7f7f"/></linearGradient><linearGradient id="clipEr14" gradientUnits="userSpaceOnUse" x1="23.10" y1="0" x2="84.70" y2="0"><stop offset="0.000" stop-color="#6a6a6a"/><stop offset="0.024" stop-color="#696969"/><stop offset="0.048" stop-color="#696969"/><stop offset="0.071" stop-color="#6a6a6a"/><stop offset="0.095" stop-color="#6b6b6b"/><stop offset="0.119" stop-color="#6d6d6d"/><stop offset="0.143" stop-color="#6f6f6f"/><stop offset="0.167" stop-color="#707070"/><stop offset="0.190" stop-color="#727272"/><stop offset="0.214" stop-color="#737373"/><stop offset="0.238" stop-color="#747474"/><stop offset="0.262" stop-color="#757575"/><stop offset="0.286" stop-color="#757575"/><stop offset="0.310" stop-color="#767676"/><stop offset="0.333" stop-color="#777777"/><stop offset="0.357" stop-color="#7a7a7a"/><stop offset="0.381" stop-color="#8a8a8a"/><stop offset="0.405" stop-color="#b1b1b1"/><stop offset="0.429" stop-color="#d7d7d7"/><stop offset="0.452" stop-color="#dbdbdb"/><stop offset="0.476" stop-color="#e1e1e1"/><stop offset="0.500" stop-color="#f2f2f2"/><stop offset="0.524" stop-color="#f2f2f2"/><stop offset="0.548" stop-color="#f2f2f2"/><stop offset="0.571" stop-color="#f2f2f2"/><stop offset="0.595" stop-color="#f1f1f1"/><stop offset="0.619" stop-color="#d2d2d2"/><stop offset="0.643" stop-color="#a3a3a3"/><stop offset="0.667" stop-color="#7a7a7a"/><stop offset="0.690" stop-color="#676767"/><stop offset="0.714" stop-color="#5f5f5f"/><stop offset="0.738" stop-color="#5e5e5e"/><stop offset="0.762" stop-color="#5e5e5e"/><stop offset="0.786" stop-color="#5e5e5e"/><stop offset="0.810" stop-color="#5e5e5e"/><stop offset="0.833" stop-color="#5e5e5e"/><stop offset="0.857" stop-color="#5e5e5e"/><stop offset="0.881" stop-color="#5e5e5e"/><stop offset="0.905" stop-color="#5e5e5e"/><stop offset="0.929" stop-color="#5f5f5f"/><stop offset="0.952" stop-color="#636363"/><stop offset="0.976" stop-color="#686868"/><stop offset="1.000" stop-color="#6c6c6c"/></linearGradient><linearGradient id="clipEr15" gradientUnits="userSpaceOnUse" x1="23.10" y1="0" x2="84.70" y2="0"><stop offset="0.000" stop-color="#707070"/><stop offset="0.024" stop-color="#707070"/><stop offset="0.048" stop-color="#707070"/><stop offset="0.071" stop-color="#717171"/><stop offset="0.095" stop-color="#707070"/><stop offset="0.119" stop-color="#6e6e6e"/><stop offset="0.143" stop-color="#696969"/><stop offset="0.167" stop-color="#636363"/><stop offset="0.190" stop-color="#5f5f5f"/><stop offset="0.214" stop-color="#5e5e5e"/><stop offset="0.238" stop-color="#5e5e5e"/><stop offset="0.262" stop-color="#5e5e5e"/><stop offset="0.286" stop-color="#5e5e5e"/><stop offset="0.310" stop-color="#5e5e5e"/><stop offset="0.333" stop-color="#5e5e5e"/><stop offset="0.357" stop-color="#5e5e5e"/><stop offset="0.381" stop-color="#5e5e5e"/><stop offset="0.405" stop-color="#5e5e5e"/><stop offset="0.429" stop-color="#6d6d6d"/><stop offset="0.452" stop-color="#969696"/><stop offset="0.476" stop-color="#bababa"/><stop offset="0.500" stop-color="#cfcfcf"/><stop offset="0.524" stop-color="#d8d8d8"/><stop offset="0.548" stop-color="#dbdbdb"/><stop offset="0.571" stop-color="#dbdbdb"/><stop offset="0.595" stop-color="#d9d9d9"/><stop offset="0.619" stop-color="#bdbdbd"/><stop offset="0.643" stop-color="#979797"/><stop offset="0.667" stop-color="#7f7f7f"/><stop offset="0.690" stop-color="#6e6e6e"/><stop offset="0.714" stop-color="#626262"/><stop offset="0.738" stop-color="#5e5e5e"/><stop offset="0.762" stop-color="#5e5e5e"/><stop offset="0.786" stop-color="#5e5e5e"/><stop offset="0.810" stop-color="#5e5e5e"/><stop offset="0.833" stop-color="#5e5e5e"/><stop offset="0.857" stop-color="#5e5e5e"/><stop offset="0.881" stop-color="#5e5e5e"/><stop offset="0.905" stop-color="#5e5e5e"/><stop offset="0.929" stop-color="#616161"/><stop offset="0.952" stop-color="#6a6a6a"/><stop offset="0.976" stop-color="#707070"/><stop offset="1.000" stop-color="#727272"/></linearGradient><linearGradient id="clipEr16" gradientUnits="userSpaceOnUse" x1="23.10" y1="0" x2="84.70" y2="0"><stop offset="0.000" stop-color="#949494"/><stop offset="0.024" stop-color="#9b9b9b"/><stop offset="0.048" stop-color="#a7a7a7"/><stop offset="0.071" stop-color="#b3b3b3"/><stop offset="0.095" stop-color="#b7b7b7"/><stop offset="0.119" stop-color="#b5b5b5"/><stop offset="0.143" stop-color="#b1b1b1"/><stop offset="0.167" stop-color="#a8a8a8"/><stop offset="0.190" stop-color="#9b9b9b"/><stop offset="0.214" stop-color="#898989"/><stop offset="0.238" stop-color="#767676"/><stop offset="0.262" stop-color="#676767"/><stop offset="0.286" stop-color="#5a5a5a"/><stop offset="0.310" stop-color="#505050"/><stop offset="0.333" stop-color="#4b4b4b"/><stop offset="0.357" stop-color="#4f4f4f"/><stop offset="0.381" stop-color="#5b5b5b"/><stop offset="0.405" stop-color="#6e6e6e"/><stop offset="0.429" stop-color="#828282"/><stop offset="0.452" stop-color="#959595"/><stop offset="0.476" stop-color="#b3b3b3"/><stop offset="0.500" stop-color="#d2d2d2"/><stop offset="0.524" stop-color="#d6d6d6"/><stop offset="0.548" stop-color="#d6d6d6"/><stop offset="0.571" stop-color="#d3d3d3"/><stop offset="0.595" stop-color="#c7c7c7"/><stop offset="0.619" stop-color="#a8a8a8"/><stop offset="0.643" stop-color="#787878"/><stop offset="0.667" stop-color="#5f5f5f"/><stop offset="0.690" stop-color="#5e5e5e"/><stop offset="0.714" stop-color="#5e5e5e"/><stop offset="0.738" stop-color="#5e5e5e"/><stop offset="0.762" stop-color="#5e5e5e"/><stop offset="0.786" stop-color="#5e5e5e"/><stop offset="0.810" stop-color="#5e5e5e"/><stop offset="0.833" stop-color="#656565"/><stop offset="0.857" stop-color="#747474"/><stop offset="0.881" stop-color="#838383"/><stop offset="0.905" stop-color="#8c8c8c"/><stop offset="0.929" stop-color="#8f8f8f"/><stop offset="0.952" stop-color="#919191"/><stop offset="0.976" stop-color="#919191"/><stop offset="1.000" stop-color="#919191"/></linearGradient><linearGradient id="clipEr17" gradientUnits="userSpaceOnUse" x1="23.10" y1="0" x2="84.70" y2="0"><stop offset="0.000" stop-color="#878787"/><stop offset="0.024" stop-color="#888888"/><stop offset="0.048" stop-color="#8a8a8a"/><stop offset="0.071" stop-color="#8d8d8d"/><stop offset="0.095" stop-color="#919191"/><stop offset="0.119" stop-color="#949494"/><stop offset="0.143" stop-color="#959595"/><stop offset="0.167" stop-color="#959595"/><stop offset="0.190" stop-color="#929292"/><stop offset="0.214" stop-color="#8c8c8c"/><stop offset="0.238" stop-color="#7f7f7f"/><stop offset="0.262" stop-color="#646464"/><stop offset="0.286" stop-color="#424242"/><stop offset="0.310" stop-color="#313131"/><stop offset="0.333" stop-color="#303030"/><stop offset="0.357" stop-color="#303030"/><stop offset="0.381" stop-color="#333333"/><stop offset="0.405" stop-color="#4a4a4a"/><stop offset="0.429" stop-color="#696969"/><stop offset="0.452" stop-color="#828282"/><stop offset="0.476" stop-color="#9a9a9a"/><stop offset="0.500" stop-color="#bcbcbc"/><stop offset="0.524" stop-color="#d3d3d3"/><stop offset="0.548" stop-color="#d6d6d6"/><stop offset="0.571" stop-color="#d5d5d5"/><stop offset="0.595" stop-color="#d2d2d2"/><stop offset="0.619" stop-color="#bfbfbf"/><stop offset="0.643" stop-color="#969696"/><stop offset="0.667" stop-color="#777777"/><stop offset="0.690" stop-color="#696969"/><stop offset="0.714" stop-color="#636363"/><stop offset="0.738" stop-color="#626262"/><stop offset="0.762" stop-color="#636363"/><stop offset="0.786" stop-color="#676767"/><stop offset="0.810" stop-color="#6f6f6f"/><stop offset="0.833" stop-color="#797979"/><stop offset="0.857" stop-color="#808080"/><stop offset="0.881" stop-color="#828282"/><stop offset="0.905" stop-color="#818181"/><stop offset="0.929" stop-color="#7f7f7f"/><stop offset="0.952" stop-color="#7d7d7d"/><stop offset="0.976" stop-color="#7c7c7c"/><stop offset="1.000" stop-color="#7c7c7c"/></linearGradient><linearGradient id="clipEr18" gradientUnits="userSpaceOnUse" x1="23.10" y1="0" x2="84.70" y2="0"><stop offset="0.000" stop-color="#878787"/><stop offset="0.024" stop-color="#878787"/><stop offset="0.048" stop-color="#878787"/><stop offset="0.071" stop-color="#878787"/><stop offset="0.095" stop-color="#878787"/><stop offset="0.119" stop-color="#878787"/><stop offset="0.143" stop-color="#878787"/><stop offset="0.167" stop-color="#878787"/><stop offset="0.190" stop-color="#878787"/><stop offset="0.214" stop-color="#878787"/><stop offset="0.238" stop-color="#878787"/><stop offset="0.262" stop-color="#878787"/><stop offset="0.286" stop-color="#878787"/><stop offset="0.310" stop-color="#868686"/><stop offset="0.333" stop-color="#848484"/><stop offset="0.357" stop-color="#888888"/><stop offset="0.381" stop-color="#909090"/><stop offset="0.405" stop-color="#9a9a9a"/><stop offset="0.429" stop-color="#9f9f9f"/><stop offset="0.452" stop-color="#a1a1a1"/><stop offset="0.476" stop-color="#a0a0a0"/><stop offset="0.500" stop-color="#b5b5b5"/><stop offset="0.524" stop-color="#d4d4d4"/><stop offset="0.548" stop-color="#d6d6d6"/><stop offset="0.571" stop-color="#d6d6d6"/><stop offset="0.595" stop-color="#d6d6d6"/><stop offset="0.619" stop-color="#d6d6d6"/><stop offset="0.643" stop-color="#d1d1d1"/><stop offset="0.667" stop-color="#b2b2b2"/><stop offset="0.690" stop-color="#919191"/><stop offset="0.714" stop-color="#7f7f7f"/><stop offset="0.738" stop-color="#737373"/><stop offset="0.762" stop-color="#6a6a6a"/><stop offset="0.786" stop-color="#636363"/><stop offset="0.810" stop-color="#616161"/><stop offset="0.833" stop-color="#616161"/><stop offset="0.857" stop-color="#636363"/><stop offset="0.881" stop-color="#6a6a6a"/><stop offset="0.905" stop-color="#737373"/><stop offset="0.929" stop-color="#7d7d7d"/><stop offset="0.952" stop-color="#848484"/><stop offset="0.976" stop-color="#868686"/><stop offset="1.000" stop-color="#878787"/></linearGradient><linearGradient id="clipEr19" gradientUnits="userSpaceOnUse" x1="23.10" y1="0" x2="84.70" y2="0"><stop offset="0.000" stop-color="#787878"/><stop offset="0.024" stop-color="#787878"/><stop offset="0.048" stop-color="#787878"/><stop offset="0.071" stop-color="#787878"/><stop offset="0.095" stop-color="#787878"/><stop offset="0.119" stop-color="#787878"/><stop offset="0.143" stop-color="#797979"/><stop offset="0.167" stop-color="#7e7e7e"/><stop offset="0.190" stop-color="#8a8a8a"/><stop offset="0.214" stop-color="#9e9e9e"/><stop offset="0.238" stop-color="#b1b1b1"/><stop offset="0.262" stop-color="#b8b8b8"/><stop offset="0.286" stop-color="#b8b8b8"/><stop offset="0.310" stop-color="#b8b8b8"/><stop offset="0.333" stop-color="#b8b8b8"/><stop offset="0.357" stop-color="#b8b8b8"/><stop offset="0.381" stop-color="#b8b8b8"/><stop offset="0.405" stop-color="#b2b2b2"/><stop offset="0.429" stop-color="#9f9f9f"/><stop offset="0.452" stop-color="#a0a0a0"/><stop offset="0.476" stop-color="#a0a0a0"/><stop offset="0.500" stop-color="#9c9c9c"/><stop offset="0.524" stop-color="#959595"/><stop offset="0.548" stop-color="#a7a7a7"/><stop offset="0.571" stop-color="#b1b1b1"/><stop offset="0.595" stop-color="#b0b0b0"/><stop offset="0.619" stop-color="#a4a4a4"/><stop offset="0.643" stop-color="#909090"/><stop offset="0.667" stop-color="#7c7c7c"/><stop offset="0.690" stop-color="#6d6d6d"/><stop offset="0.714" stop-color="#616161"/><stop offset="0.738" stop-color="#5e5e5e"/><stop offset="0.762" stop-color="#5e5e5e"/><stop offset="0.786" stop-color="#5e5e5e"/><stop offset="0.810" stop-color="#5e5e5e"/><stop offset="0.833" stop-color="#5e5e5e"/><stop offset="0.857" stop-color="#5e5e5e"/><stop offset="0.881" stop-color="#5e5e5e"/><stop offset="0.905" stop-color="#5e5e5e"/><stop offset="0.929" stop-color="#606060"/><stop offset="0.952" stop-color="#656565"/><stop offset="0.976" stop-color="#6b6b6b"/><stop offset="1.000" stop-color="#707070"/></linearGradient><linearGradient id="clipEr20" gradientUnits="userSpaceOnUse" x1="23.10" y1="0" x2="84.70" y2="0"><stop offset="0.000" stop-color="#787878"/><stop offset="0.024" stop-color="#787878"/><stop offset="0.048" stop-color="#787878"/><stop offset="0.071" stop-color="#787878"/><stop offset="0.095" stop-color="#787878"/><stop offset="0.119" stop-color="#787878"/><stop offset="0.143" stop-color="#787878"/><stop offset="0.167" stop-color="#787878"/><stop offset="0.190" stop-color="#777777"/><stop offset="0.214" stop-color="#747474"/><stop offset="0.238" stop-color="#6c6c6c"/><stop offset="0.262" stop-color="#5d5d5d"/><stop offset="0.286" stop-color="#494949"/><stop offset="0.310" stop-color="#3a3a3a"/><stop offset="0.333" stop-color="#343434"/><stop offset="0.357" stop-color="#353535"/><stop offset="0.381" stop-color="#3b3b3b"/><stop offset="0.405" stop-color="#484848"/><stop offset="0.429" stop-color="#5d5d5d"/><stop offset="0.452" stop-color="#7e7e7e"/><stop offset="0.476" stop-color="#a8a8a8"/><stop offset="0.500" stop-color="#cacaca"/><stop offset="0.524" stop-color="#d6d6d6"/><stop offset="0.548" stop-color="#d6d6d6"/><stop offset="0.571" stop-color="#d6d6d6"/><stop offset="0.595" stop-color="#d6d6d6"/><stop offset="0.619" stop-color="#cfcfcf"/><stop offset="0.643" stop-color="#b7b7b7"/><stop offset="0.667" stop-color="#989898"/><stop offset="0.690" stop-color="#828282"/><stop offset="0.714" stop-color="#777777"/><stop offset="0.738" stop-color="#707070"/><stop offset="0.762" stop-color="#6a6a6a"/><stop offset="0.786" stop-color="#666666"/><stop offset="0.810" stop-color="#646464"/><stop offset="0.833" stop-color="#646464"/><stop offset="0.857" stop-color="#666666"/><stop offset="0.881" stop-color="#6a6a6a"/><stop offset="0.905" stop-color="#6f6f6f"/><stop offset="0.929" stop-color="#747474"/><stop offset="0.952" stop-color="#777777"/><stop offset="0.976" stop-color="#787878"/><stop offset="1.000" stop-color="#787878"/></linearGradient><linearGradient id="clipEr21" gradientUnits="userSpaceOnUse" x1="23.10" y1="0" x2="84.70" y2="0"><stop offset="0.000" stop-color="#868686"/><stop offset="0.024" stop-color="#868686"/><stop offset="0.048" stop-color="#858585"/><stop offset="0.071" stop-color="#838383"/><stop offset="0.095" stop-color="#818181"/><stop offset="0.119" stop-color="#7e7e7e"/><stop offset="0.143" stop-color="#7b7b7b"/><stop offset="0.167" stop-color="#777777"/><stop offset="0.190" stop-color="#747474"/><stop offset="0.214" stop-color="#707070"/><stop offset="0.238" stop-color="#6d6d6d"/><stop offset="0.262" stop-color="#696969"/><stop offset="0.286" stop-color="#646464"/><stop offset="0.310" stop-color="#616161"/><stop offset="0.333" stop-color="#5f5f5f"/><stop offset="0.357" stop-color="#626262"/><stop offset="0.381" stop-color="#6a6a6a"/><stop offset="0.405" stop-color="#747474"/><stop offset="0.429" stop-color="#7e7e7e"/><stop offset="0.452" stop-color="#898989"/><stop offset="0.476" stop-color="#979797"/><stop offset="0.500" stop-color="#a7a7a7"/><stop offset="0.524" stop-color="#b5b5b5"/><stop offset="0.548" stop-color="#bebebe"/><stop offset="0.571" stop-color="#bebebe"/><stop offset="0.595" stop-color="#b8b8b8"/><stop offset="0.619" stop-color="#ababab"/><stop offset="0.643" stop-color="#9d9d9d"/><stop offset="0.667" stop-color="#929292"/><stop offset="0.690" stop-color="#8d8d8d"/><stop offset="0.714" stop-color="#8b8b8b"/><stop offset="0.738" stop-color="#8b8b8b"/><stop offset="0.762" stop-color="#8b8b8b"/><stop offset="0.786" stop-color="#8b8b8b"/><stop offset="0.810" stop-color="#8b8b8b"/><stop offset="0.833" stop-color="#8b8b8b"/><stop offset="0.857" stop-color="#8b8b8b"/><stop offset="0.881" stop-color="#8b8b8b"/><stop offset="0.905" stop-color="#8a8a8a"/><stop offset="0.929" stop-color="#8a8a8a"/><stop offset="0.952" stop-color="#898989"/><stop offset="0.976" stop-color="#898989"/><stop offset="1.000" stop-color="#888888"/></linearGradient><linearGradient id="clipEr22" gradientUnits="userSpaceOnUse" x1="23.10" y1="0" x2="84.70" y2="0"><stop offset="0.000" stop-color="#7d7d7d"/><stop offset="0.024" stop-color="#7d7d7d"/><stop offset="0.048" stop-color="#7d7d7d"/><stop offset="0.071" stop-color="#7d7d7d"/><stop offset="0.095" stop-color="#7d7d7d"/><stop offset="0.119" stop-color="#7d7d7d"/><stop offset="0.143" stop-color="#7f7f7f"/><stop offset="0.167" stop-color="#848484"/><stop offset="0.190" stop-color="#8f8f8f"/><stop offset="0.214" stop-color="#a0a0a0"/><stop offset="0.238" stop-color="#b0b0b0"/><stop offset="0.262" stop-color="#b7b7b7"/><stop offset="0.286" stop-color="#b8b8b8"/><stop offset="0.310" stop-color="#c2c2c2"/><stop offset="0.333" stop-color="#d0d0d0"/><stop offset="0.357" stop-color="#d6d6d6"/><stop offset="0.381" stop-color="#d6d6d6"/><stop offset="0.405" stop-color="#d6d6d6"/><stop offset="0.429" stop-color="#d6d6d6"/><stop offset="0.452" stop-color="#d6d6d6"/><stop offset="0.476" stop-color="#d6d6d6"/><stop offset="0.500" stop-color="#d6d6d6"/><stop offset="0.524" stop-color="#d6d6d6"/><stop offset="0.548" stop-color="#d6d6d6"/><stop offset="0.571" stop-color="#d6d6d6"/><stop offset="0.595" stop-color="#d6d6d6"/><stop offset="0.619" stop-color="#d4d4d4"/><stop offset="0.643" stop-color="#c8c8c8"/><stop offset="0.667" stop-color="#b3b3b3"/><stop offset="0.690" stop-color="#9d9d9d"/><stop offset="0.714" stop-color="#898989"/><stop offset="0.738" stop-color="#7b7b7b"/><stop offset="0.762" stop-color="#727272"/><stop offset="0.786" stop-color="#6c6c6c"/><stop offset="0.810" stop-color="#6a6a6a"/><stop offset="0.833" stop-color="#6a6a6a"/><stop offset="0.857" stop-color="#6c6c6c"/><stop offset="0.881" stop-color="#6f6f6f"/><stop offset="0.905" stop-color="#747474"/><stop offset="0.929" stop-color="#787878"/><stop offset="0.952" stop-color="#7b7b7b"/><stop offset="0.976" stop-color="#7c7c7c"/><stop offset="1.000" stop-color="#7d7d7d"/></linearGradient><linearGradient id="clipEr23" gradientUnits="userSpaceOnUse" x1="23.10" y1="0" x2="84.70" y2="0"><stop offset="0.000" stop-color="#818181"/><stop offset="0.024" stop-color="#828282"/><stop offset="0.048" stop-color="#808080"/><stop offset="0.071" stop-color="#7a7a7a"/><stop offset="0.095" stop-color="#737373"/><stop offset="0.119" stop-color="#6c6c6c"/><stop offset="0.143" stop-color="#686868"/><stop offset="0.167" stop-color="#676767"/><stop offset="0.190" stop-color="#696969"/><stop offset="0.214" stop-color="#707070"/><stop offset="0.238" stop-color="#808080"/><stop offset="0.262" stop-color="#9a9a9a"/><stop offset="0.286" stop-color="#acacac"/><stop offset="0.310" stop-color="#b3b3b3"/><stop offset="0.333" stop-color="#b5b5b5"/><stop offset="0.357" stop-color="#b6b6b6"/><stop offset="0.381" stop-color="#b0b0b0"/><stop offset="0.405" stop-color="#9b9b9b"/><stop offset="0.429" stop-color="#878787"/><stop offset="0.452" stop-color="#838383"/><stop offset="0.476" stop-color="#838383"/><stop offset="0.500" stop-color="#838383"/><stop offset="0.524" stop-color="#838383"/><stop offset="0.548" stop-color="#828282"/><stop offset="0.571" stop-color="#818181"/><stop offset="0.595" stop-color="#818181"/><stop offset="0.619" stop-color="#818181"/><stop offset="0.643" stop-color="#808080"/><stop offset="0.667" stop-color="#7a7a7a"/><stop offset="0.690" stop-color="#6e6e6e"/><stop offset="0.714" stop-color="#626262"/><stop offset="0.738" stop-color="#5e5e5e"/><stop offset="0.762" stop-color="#5e5e5e"/><stop offset="0.786" stop-color="#5e5e5e"/><stop offset="0.810" stop-color="#5e5e5e"/><stop offset="0.833" stop-color="#5e5e5e"/><stop offset="0.857" stop-color="#5e5e5e"/><stop offset="0.881" stop-color="#5e5e5e"/><stop offset="0.905" stop-color="#5e5e5e"/><stop offset="0.929" stop-color="#616161"/><stop offset="0.952" stop-color="#696969"/><stop offset="0.976" stop-color="#717171"/><stop offset="1.000" stop-color="#767676"/></linearGradient><linearGradient id="clipEr24" gradientUnits="userSpaceOnUse" x1="23.10" y1="0" x2="84.70" y2="0"><stop offset="0.000" stop-color="#6c6c6c"/><stop offset="0.024" stop-color="#666666"/><stop offset="0.048" stop-color="#616161"/><stop offset="0.071" stop-color="#5e5e5e"/><stop offset="0.095" stop-color="#5e5e5e"/><stop offset="0.119" stop-color="#5e5e5e"/><stop offset="0.143" stop-color="#5e5e5e"/><stop offset="0.167" stop-color="#5e5e5e"/><stop offset="0.190" stop-color="#5e5e5e"/><stop offset="0.214" stop-color="#5b5b5b"/><stop offset="0.238" stop-color="#525252"/><stop offset="0.262" stop-color="#3f3f3f"/><stop offset="0.286" stop-color="#292929"/><stop offset="0.310" stop-color="#181818"/><stop offset="0.333" stop-color="#141414"/><stop offset="0.357" stop-color="#141414"/><stop offset="0.381" stop-color="#1c1c1c"/><stop offset="0.405" stop-color="#393939"/><stop offset="0.429" stop-color="#636363"/><stop offset="0.452" stop-color="#878787"/><stop offset="0.476" stop-color="#9e9e9e"/><stop offset="0.500" stop-color="#a9a9a9"/><stop offset="0.524" stop-color="#acacac"/><stop offset="0.548" stop-color="#aaaaaa"/><stop offset="0.571" stop-color="#a3a3a3"/><stop offset="0.595" stop-color="#999999"/><stop offset="0.619" stop-color="#8f8f8f"/><stop offset="0.643" stop-color="#878787"/><stop offset="0.667" stop-color="#818181"/><stop offset="0.690" stop-color="#7e7e7e"/><stop offset="0.714" stop-color="#7d7d7d"/><stop offset="0.738" stop-color="#7b7b7b"/><stop offset="0.762" stop-color="#797979"/><stop offset="0.786" stop-color="#777777"/><stop offset="0.810" stop-color="#747474"/><stop offset="0.833" stop-color="#737373"/><stop offset="0.857" stop-color="#747474"/><stop offset="0.881" stop-color="#777777"/><stop offset="0.905" stop-color="#7a7a7a"/><stop offset="0.929" stop-color="#7c7c7c"/><stop offset="0.952" stop-color="#7d7d7d"/><stop offset="0.976" stop-color="#7d7d7d"/><stop offset="1.000" stop-color="#7d7d7d"/></linearGradient><linearGradient id="clipEr25" gradientUnits="userSpaceOnUse" x1="23.10" y1="0" x2="84.70" y2="0"><stop offset="0.000" stop-color="#8f8f8f"/><stop offset="0.024" stop-color="#8f8f8f"/><stop offset="0.048" stop-color="#8e8e8e"/><stop offset="0.071" stop-color="#8d8d8d"/><stop offset="0.095" stop-color="#8b8b8b"/><stop offset="0.119" stop-color="#8a8a8a"/><stop offset="0.143" stop-color="#898989"/><stop offset="0.167" stop-color="#888888"/><stop offset="0.190" stop-color="#898989"/><stop offset="0.214" stop-color="#888888"/><stop offset="0.238" stop-color="#838383"/><stop offset="0.262" stop-color="#737373"/><stop offset="0.286" stop-color="#595959"/><stop offset="0.310" stop-color="#404040"/><stop offset="0.333" stop-color="#343434"/><stop offset="0.357" stop-color="#383838"/><stop offset="0.381" stop-color="#525252"/><stop offset="0.405" stop-color="#848484"/><stop offset="0.429" stop-color="#b5b5b5"/><stop offset="0.452" stop-color="#cccccc"/><stop offset="0.476" stop-color="#d4d4d4"/><stop offset="0.500" stop-color="#d6d6d6"/><stop offset="0.524" stop-color="#d6d6d6"/><stop offset="0.548" stop-color="#d6d6d6"/><stop offset="0.571" stop-color="#d6d6d6"/><stop offset="0.595" stop-color="#d6d6d6"/><stop offset="0.619" stop-color="#d3d3d3"/><stop offset="0.643" stop-color="#bcbcbc"/><stop offset="0.667" stop-color="#9b9b9b"/><stop offset="0.690" stop-color="#808080"/><stop offset="0.714" stop-color="#6d6d6d"/><stop offset="0.738" stop-color="#616161"/><stop offset="0.762" stop-color="#5b5b5b"/><stop offset="0.786" stop-color="#4f4f4f"/><stop offset="0.810" stop-color="#3a3a3a"/><stop offset="0.833" stop-color="#303030"/><stop offset="0.857" stop-color="#313131"/><stop offset="0.881" stop-color="#414141"/><stop offset="0.905" stop-color="#575757"/><stop offset="0.929" stop-color="#6a6a6a"/><stop offset="0.952" stop-color="#7a7a7a"/><stop offset="0.976" stop-color="#868686"/><stop offset="1.000" stop-color="#8c8c8c"/></linearGradient><linearGradient id="clipEr26" gradientUnits="userSpaceOnUse" x1="23.10" y1="0" x2="84.70" y2="0"><stop offset="0.000" stop-color="#919191"/><stop offset="0.024" stop-color="#8f8f8f"/><stop offset="0.048" stop-color="#8c8c8c"/><stop offset="0.071" stop-color="#898989"/><stop offset="0.095" stop-color="#878787"/><stop offset="0.119" stop-color="#878787"/><stop offset="0.143" stop-color="#8a8a8a"/><stop offset="0.167" stop-color="#8d8d8d"/><stop offset="0.190" stop-color="#8e8e8e"/><stop offset="0.214" stop-color="#8d8d8d"/><stop offset="0.238" stop-color="#858585"/><stop offset="0.262" stop-color="#717171"/><stop offset="0.286" stop-color="#515151"/><stop offset="0.310" stop-color="#363636"/><stop offset="0.333" stop-color="#303030"/><stop offset="0.357" stop-color="#303030"/><stop offset="0.381" stop-color="#303030"/><stop offset="0.405" stop-color="#313131"/><stop offset="0.429" stop-color="#474747"/><stop offset="0.452" stop-color="#707070"/><stop offset="0.476" stop-color="#939393"/><stop offset="0.500" stop-color="#adadad"/><stop offset="0.524" stop-color="#d1d1d1"/><stop offset="0.548" stop-color="#d6d6d6"/><stop offset="0.571" stop-color="#d6d6d6"/><stop offset="0.595" stop-color="#d6d6d6"/><stop offset="0.619" stop-color="#d6d6d6"/><stop offset="0.643" stop-color="#cfcfcf"/><stop offset="0.667" stop-color="#acacac"/><stop offset="0.690" stop-color="#949494"/><stop offset="0.714" stop-color="#8d8d8d"/><stop offset="0.738" stop-color="#8a8a8a"/><stop offset="0.762" stop-color="#858585"/><stop offset="0.786" stop-color="#7d7d7d"/><stop offset="0.810" stop-color="#6f6f6f"/><stop offset="0.833" stop-color="#646464"/><stop offset="0.857" stop-color="#686868"/><stop offset="0.881" stop-color="#787878"/><stop offset="0.905" stop-color="#868686"/><stop offset="0.929" stop-color="#8d8d8d"/><stop offset="0.952" stop-color="#909090"/><stop offset="0.976" stop-color="#919191"/><stop offset="1.000" stop-color="#919191"/></linearGradient><linearGradient id="clipEr27" gradientUnits="userSpaceOnUse" x1="23.10" y1="0" x2="84.70" y2="0"><stop offset="0.000" stop-color="#7e7e7e"/><stop offset="0.024" stop-color="#6a6a6a"/><stop offset="0.048" stop-color="#5e5e5e"/><stop offset="0.071" stop-color="#5e5e5e"/><stop offset="0.095" stop-color="#5e5e5e"/><stop offset="0.119" stop-color="#5e5e5e"/><stop offset="0.143" stop-color="#5e5e5e"/><stop offset="0.167" stop-color="#5f5f5f"/><stop offset="0.190" stop-color="#5e5e5e"/><stop offset="0.214" stop-color="#5e5e5e"/><stop offset="0.238" stop-color="#5e5e5e"/><stop offset="0.262" stop-color="#5e5e5e"/><stop offset="0.286" stop-color="#5c5c5c"/><stop offset="0.310" stop-color="#5b5b5b"/><stop offset="0.333" stop-color="#595959"/><stop offset="0.357" stop-color="#575757"/><stop offset="0.381" stop-color="#595959"/><stop offset="0.405" stop-color="#686868"/><stop offset="0.429" stop-color="#7f7f7f"/><stop offset="0.452" stop-color="#929292"/><stop offset="0.476" stop-color="#a0a0a0"/><stop offset="0.500" stop-color="#bcbcbc"/><stop offset="0.524" stop-color="#d5d5d5"/><stop offset="0.548" stop-color="#d6d6d6"/><stop offset="0.571" stop-color="#d6d6d6"/><stop offset="0.595" stop-color="#d6d6d6"/><stop offset="0.619" stop-color="#d6d6d6"/><stop offset="0.643" stop-color="#d4d4d4"/><stop offset="0.667" stop-color="#b4b4b4"/><stop offset="0.690" stop-color="#999999"/><stop offset="0.714" stop-color="#929292"/><stop offset="0.738" stop-color="#919191"/><stop offset="0.762" stop-color="#919191"/><stop offset="0.786" stop-color="#919191"/><stop offset="0.810" stop-color="#919191"/><stop offset="0.833" stop-color="#919191"/><stop offset="0.857" stop-color="#919191"/><stop offset="0.881" stop-color="#919191"/><stop offset="0.905" stop-color="#919191"/><stop offset="0.929" stop-color="#919191"/><stop offset="0.952" stop-color="#919191"/><stop offset="0.976" stop-color="#919191"/><stop offset="1.000" stop-color="#919191"/></linearGradient><linearGradient id="clipEr28" gradientUnits="userSpaceOnUse" x1="23.10" y1="0" x2="84.70" y2="0"><stop offset="0.000" stop-color="#828282"/><stop offset="0.024" stop-color="#898989"/><stop offset="0.048" stop-color="#8f8f8f"/><stop offset="0.071" stop-color="#919191"/><stop offset="0.095" stop-color="#919191"/><stop offset="0.119" stop-color="#949494"/><stop offset="0.143" stop-color="#9b9b9b"/><stop offset="0.167" stop-color="#9f9f9f"/><stop offset="0.190" stop-color="#9b9b9b"/><stop offset="0.214" stop-color="#8f8f8f"/><stop offset="0.238" stop-color="#838383"/><stop offset="0.262" stop-color="#767676"/><stop offset="0.286" stop-color="#686868"/><stop offset="0.310" stop-color="#585858"/><stop offset="0.333" stop-color="#4b4b4b"/><stop offset="0.357" stop-color="#454545"/><stop offset="0.381" stop-color="#484848"/><stop offset="0.405" stop-color="#535353"/><stop offset="0.429" stop-color="#656565"/><stop offset="0.452" stop-color="#7e7e7e"/><stop offset="0.476" stop-color="#a5a5a5"/><stop offset="0.500" stop-color="#cbcbcb"/><stop offset="0.524" stop-color="#d6d6d6"/><stop offset="0.548" stop-color="#d6d6d6"/><stop offset="0.571" stop-color="#d6d6d6"/><stop offset="0.595" stop-color="#d6d6d6"/><stop offset="0.619" stop-color="#d6d6d6"/><stop offset="0.643" stop-color="#d6d6d6"/><stop offset="0.667" stop-color="#c9c9c9"/><stop offset="0.690" stop-color="#a5a5a5"/><stop offset="0.714" stop-color="#898989"/><stop offset="0.738" stop-color="#7e7e7e"/><stop offset="0.762" stop-color="#7c7c7c"/><stop offset="0.786" stop-color="#7c7c7c"/><stop offset="0.810" stop-color="#7b7b7b"/><stop offset="0.833" stop-color="#7b7b7b"/><stop offset="0.857" stop-color="#7b7b7b"/><stop offset="0.881" stop-color="#7c7c7c"/><stop offset="0.905" stop-color="#7c7c7c"/><stop offset="0.929" stop-color="#7d7d7d"/><stop offset="0.952" stop-color="#7d7d7d"/><stop offset="0.976" stop-color="#7d7d7d"/><stop offset="1.000" stop-color="#7d7d7d"/></linearGradient><linearGradient id="clipEr29" gradientUnits="userSpaceOnUse" x1="23.10" y1="0" x2="84.70" y2="0"><stop offset="0.000" stop-color="#7e7e7e"/><stop offset="0.024" stop-color="#878787"/><stop offset="0.048" stop-color="#959595"/><stop offset="0.071" stop-color="#a4a4a4"/><stop offset="0.095" stop-color="#adadad"/><stop offset="0.119" stop-color="#b1b1b1"/><stop offset="0.143" stop-color="#afafaf"/><stop offset="0.167" stop-color="#a8a8a8"/><stop offset="0.190" stop-color="#9d9d9d"/><stop offset="0.214" stop-color="#919191"/><stop offset="0.238" stop-color="#878787"/><stop offset="0.262" stop-color="#7e7e7e"/><stop offset="0.286" stop-color="#737373"/><stop offset="0.310" stop-color="#646464"/><stop offset="0.333" stop-color="#575757"/><stop offset="0.357" stop-color="#515151"/><stop offset="0.381" stop-color="#535353"/><stop offset="0.405" stop-color="#5c5c5c"/><stop offset="0.429" stop-color="#696969"/><stop offset="0.452" stop-color="#7d7d7d"/><stop offset="0.476" stop-color="#a0a0a0"/><stop offset="0.500" stop-color="#c7c7c7"/><stop offset="0.524" stop-color="#d6d6d6"/><stop offset="0.548" stop-color="#d6d6d6"/><stop offset="0.571" stop-color="#d6d6d6"/><stop offset="0.595" stop-color="#d6d6d6"/><stop offset="0.619" stop-color="#d6d6d6"/><stop offset="0.643" stop-color="#d5d5d5"/><stop offset="0.667" stop-color="#bcbcbc"/><stop offset="0.690" stop-color="#8d8d8d"/><stop offset="0.714" stop-color="#6e6e6e"/><stop offset="0.738" stop-color="#636363"/><stop offset="0.762" stop-color="#5f5f5f"/><stop offset="0.786" stop-color="#5e5e5e"/><stop offset="0.810" stop-color="#5e5e5e"/><stop offset="0.833" stop-color="#5e5e5e"/><stop offset="0.857" stop-color="#5e5e5e"/><stop offset="0.881" stop-color="#5e5e5e"/><stop offset="0.905" stop-color="#5e5e5e"/><stop offset="0.929" stop-color="#606060"/><stop offset="0.952" stop-color="#676767"/><stop offset="0.976" stop-color="#707070"/><stop offset="1.000" stop-color="#757575"/></linearGradient><linearGradient id="clipEr30" gradientUnits="userSpaceOnUse" x1="23.10" y1="0" x2="84.70" y2="0"><stop offset="0.000" stop-color="#999999"/><stop offset="0.024" stop-color="#999999"/><stop offset="0.048" stop-color="#989898"/><stop offset="0.071" stop-color="#949494"/><stop offset="0.095" stop-color="#8d8d8d"/><stop offset="0.119" stop-color="#7e7e7e"/><stop offset="0.143" stop-color="#686868"/><stop offset="0.167" stop-color="#4c4c4c"/><stop offset="0.190" stop-color="#323232"/><stop offset="0.214" stop-color="#1f1f1f"/><stop offset="0.238" stop-color="#161616"/><stop offset="0.262" stop-color="#141414"/><stop offset="0.286" stop-color="#141414"/><stop offset="0.310" stop-color="#151515"/><stop offset="0.333" stop-color="#181818"/><stop offset="0.357" stop-color="#222222"/><stop offset="0.381" stop-color="#333333"/><stop offset="0.405" stop-color="#444444"/><stop offset="0.429" stop-color="#545454"/><stop offset="0.452" stop-color="#626262"/><stop offset="0.476" stop-color="#6f6f6f"/><stop offset="0.500" stop-color="#7c7c7c"/><stop offset="0.524" stop-color="#8a8a8a"/><stop offset="0.548" stop-color="#969696"/><stop offset="0.571" stop-color="#9d9d9d"/><stop offset="0.595" stop-color="#a0a0a0"/><stop offset="0.619" stop-color="#a0a0a0"/><stop offset="0.643" stop-color="#9d9d9d"/><stop offset="0.667" stop-color="#9c9c9c"/><stop offset="0.690" stop-color="#9b9b9b"/><stop offset="0.714" stop-color="#9a9a9a"/><stop offset="0.738" stop-color="#979797"/><stop offset="0.762" stop-color="#939393"/><stop offset="0.786" stop-color="#8c8c8c"/><stop offset="0.810" stop-color="#878787"/><stop offset="0.833" stop-color="#848484"/><stop offset="0.857" stop-color="#858585"/><stop offset="0.881" stop-color="#888888"/><stop offset="0.905" stop-color="#8c8c8c"/><stop offset="0.929" stop-color="#8f8f8f"/><stop offset="0.952" stop-color="#8f8f8f"/><stop offset="0.976" stop-color="#8f8f8f"/><stop offset="1.000" stop-color="#919191"/></linearGradient><linearGradient id="clipEr31" gradientUnits="userSpaceOnUse" x1="23.10" y1="0" x2="84.70" y2="0"><stop offset="0.000" stop-color="#8f8f8f"/><stop offset="0.024" stop-color="#8f8f8f"/><stop offset="0.048" stop-color="#8f8f8f"/><stop offset="0.071" stop-color="#8f8f8f"/><stop offset="0.095" stop-color="#8e8e8e"/><stop offset="0.119" stop-color="#8d8d8d"/><stop offset="0.143" stop-color="#8b8b8b"/><stop offset="0.167" stop-color="#878787"/><stop offset="0.190" stop-color="#828282"/><stop offset="0.214" stop-color="#7d7d7d"/><stop offset="0.238" stop-color="#787878"/><stop offset="0.262" stop-color="#747474"/><stop offset="0.286" stop-color="#727272"/><stop offset="0.310" stop-color="#707070"/><stop offset="0.333" stop-color="#6c6c6c"/><stop offset="0.357" stop-color="#666666"/><stop offset="0.381" stop-color="#5c5c5c"/><stop offset="0.405" stop-color="#545454"/><stop offset="0.429" stop-color="#4f4f4f"/><stop offset="0.452" stop-color="#4f4f4f"/><stop offset="0.476" stop-color="#565656"/><stop offset="0.500" stop-color="#626262"/><stop offset="0.524" stop-color="#717171"/><stop offset="0.548" stop-color="#7e7e7e"/><stop offset="0.571" stop-color="#878787"/><stop offset="0.595" stop-color="#8c8c8c"/><stop offset="0.619" stop-color="#8e8e8e"/><stop offset="0.643" stop-color="#8f8f8f"/><stop offset="0.667" stop-color="#8f8f8f"/><stop offset="0.690" stop-color="#909090"/><stop offset="0.714" stop-color="#919191"/><stop offset="0.738" stop-color="#929292"/><stop offset="0.762" stop-color="#949494"/><stop offset="0.786" stop-color="#969696"/><stop offset="0.810" stop-color="#989898"/><stop offset="0.833" stop-color="#9a9a9a"/><stop offset="0.857" stop-color="#9c9c9c"/><stop offset="0.881" stop-color="#9e9e9e"/><stop offset="0.905" stop-color="#9e9e9e"/><stop offset="0.929" stop-color="#9e9e9e"/><stop offset="0.952" stop-color="#9c9c9c"/><stop offset="0.976" stop-color="#9a9a9a"/><stop offset="1.000" stop-color="#989898"/></linearGradient><linearGradient id="clipEr32" gradientUnits="userSpaceOnUse" x1="23.10" y1="0" x2="84.70" y2="0"><stop offset="0.000" stop-color="#8f8f8f"/><stop offset="0.024" stop-color="#8f8f8f"/><stop offset="0.048" stop-color="#8f8f8f"/><stop offset="0.071" stop-color="#909090"/><stop offset="0.095" stop-color="#919191"/><stop offset="0.119" stop-color="#939393"/><stop offset="0.143" stop-color="#969696"/><stop offset="0.167" stop-color="#9a9a9a"/><stop offset="0.190" stop-color="#a1a1a1"/><stop offset="0.214" stop-color="#ababab"/><stop offset="0.238" stop-color="#b6b6b6"/><stop offset="0.262" stop-color="#c2c2c2"/><stop offset="0.286" stop-color="#cdcdcd"/><stop offset="0.310" stop-color="#d3d3d3"/><stop offset="0.333" stop-color="#d6d6d6"/><stop offset="0.357" stop-color="#d6d6d6"/><stop offset="0.381" stop-color="#d6d6d6"/><stop offset="0.405" stop-color="#e2e2e2"/><stop offset="0.429" stop-color="#ececec"/><stop offset="0.452" stop-color="#f1f1f1"/><stop offset="0.476" stop-color="#f2f2f2"/><stop offset="0.500" stop-color="#f2f2f2"/><stop offset="0.524" stop-color="#f2f2f2"/><stop offset="0.548" stop-color="#f1f1f1"/><stop offset="0.571" stop-color="#ededed"/><stop offset="0.595" stop-color="#e4e4e4"/><stop offset="0.619" stop-color="#d6d6d6"/><stop offset="0.643" stop-color="#d5d5d5"/><stop offset="0.667" stop-color="#d0d0d0"/><stop offset="0.690" stop-color="#c8c8c8"/><stop offset="0.714" stop-color="#bdbdbd"/><stop offset="0.738" stop-color="#b5b5b5"/><stop offset="0.762" stop-color="#b0b0b0"/><stop offset="0.786" stop-color="#a9a9a9"/><stop offset="0.810" stop-color="#a2a2a2"/><stop offset="0.833" stop-color="#9c9c9c"/><stop offset="0.857" stop-color="#979797"/><stop offset="0.881" stop-color="#939393"/><stop offset="0.905" stop-color="#919191"/><stop offset="0.929" stop-color="#909090"/><stop offset="0.952" stop-color="#8f8f8f"/><stop offset="0.976" stop-color="#8f8f8f"/><stop offset="1.000" stop-color="#8f8f8f"/></linearGradient><linearGradient id="clipEr33" gradientUnits="userSpaceOnUse" x1="23.10" y1="0" x2="84.70" y2="0"><stop offset="0.000" stop-color="#8e8e8e"/><stop offset="0.024" stop-color="#8e8e8e"/><stop offset="0.048" stop-color="#8e8e8e"/><stop offset="0.071" stop-color="#8d8d8d"/><stop offset="0.095" stop-color="#8d8d8d"/><stop offset="0.119" stop-color="#8c8c8c"/><stop offset="0.143" stop-color="#8b8b8b"/><stop offset="0.167" stop-color="#8a8a8a"/><stop offset="0.190" stop-color="#8a8a8a"/><stop offset="0.214" stop-color="#898989"/><stop offset="0.238" stop-color="#878787"/><stop offset="0.262" stop-color="#838383"/><stop offset="0.286" stop-color="#797979"/><stop offset="0.310" stop-color="#6a6a6a"/><stop offset="0.333" stop-color="#595959"/><stop offset="0.357" stop-color="#4d4d4d"/><stop offset="0.381" stop-color="#494949"/><stop offset="0.405" stop-color="#4d4d4d"/><stop offset="0.429" stop-color="#5b5b5b"/><stop offset="0.452" stop-color="#6f6f6f"/><stop offset="0.476" stop-color="#828282"/><stop offset="0.500" stop-color="#8f8f8f"/><stop offset="0.524" stop-color="#959595"/><stop offset="0.548" stop-color="#979797"/><stop offset="0.571" stop-color="#9a9a9a"/><stop offset="0.595" stop-color="#999999"/><stop offset="0.619" stop-color="#989898"/><stop offset="0.643" stop-color="#959595"/><stop offset="0.667" stop-color="#929292"/><stop offset="0.690" stop-color="#909090"/><stop offset="0.714" stop-color="#8d8d8d"/><stop offset="0.738" stop-color="#898989"/><stop offset="0.762" stop-color="#848484"/><stop offset="0.786" stop-color="#7f7f7f"/><stop offset="0.810" stop-color="#7c7c7c"/><stop offset="0.833" stop-color="#7b7b7b"/><stop offset="0.857" stop-color="#7b7b7b"/><stop offset="0.881" stop-color="#7c7c7c"/><stop offset="0.905" stop-color="#7e7e7e"/><stop offset="0.929" stop-color="#7f7f7f"/><stop offset="0.952" stop-color="#818181"/><stop offset="0.976" stop-color="#828282"/><stop offset="1.000" stop-color="#848484"/></linearGradient><linearGradient id="clipEr34" gradientUnits="userSpaceOnUse" x1="23.10" y1="0" x2="84.70" y2="0"><stop offset="0.000" stop-color="#838383"/><stop offset="0.024" stop-color="#7d7d7d"/><stop offset="0.048" stop-color="#7a7a7a"/><stop offset="0.071" stop-color="#797979"/><stop offset="0.095" stop-color="#7c7c7c"/><stop offset="0.119" stop-color="#828282"/><stop offset="0.143" stop-color="#878787"/><stop offset="0.167" stop-color="#8c8c8c"/><stop offset="0.190" stop-color="#8e8e8e"/><stop offset="0.214" stop-color="#8f8f8f"/><stop offset="0.238" stop-color="#8d8d8d"/><stop offset="0.262" stop-color="#848484"/><stop offset="0.286" stop-color="#717171"/><stop offset="0.310" stop-color="#575757"/><stop offset="0.333" stop-color="#414141"/><stop offset="0.357" stop-color="#363636"/><stop offset="0.381" stop-color="#333333"/><stop offset="0.405" stop-color="#353535"/><stop offset="0.429" stop-color="#424242"/><stop offset="0.452" stop-color="#616161"/><stop offset="0.476" stop-color="#929292"/><stop offset="0.500" stop-color="#bdbdbd"/><stop offset="0.524" stop-color="#cecece"/><stop offset="0.548" stop-color="#d4d4d4"/><stop offset="0.571" stop-color="#d6d6d6"/><stop offset="0.595" stop-color="#d6d6d6"/><stop offset="0.619" stop-color="#d4d4d4"/><stop offset="0.643" stop-color="#cccccc"/><stop offset="0.667" stop-color="#b5b5b5"/><stop offset="0.690" stop-color="#888888"/><stop offset="0.714" stop-color="#656565"/><stop offset="0.738" stop-color="#5e5e5e"/><stop offset="0.762" stop-color="#5e5e5e"/><stop offset="0.786" stop-color="#5e5e5e"/><stop offset="0.810" stop-color="#5e5e5e"/><stop offset="0.833" stop-color="#5e5e5e"/><stop offset="0.857" stop-color="#5e5e5e"/><stop offset="0.881" stop-color="#5e5e5e"/><stop offset="0.905" stop-color="#5e5e5e"/><stop offset="0.929" stop-color="#626262"/><stop offset="0.952" stop-color="#707070"/><stop offset="0.976" stop-color="#808080"/><stop offset="1.000" stop-color="#8b8b8b"/></linearGradient><linearGradient id="clipEr35" gradientUnits="userSpaceOnUse" x1="23.10" y1="0" x2="84.70" y2="0"><stop offset="0.000" stop-color="#a6a6a6"/><stop offset="0.024" stop-color="#a3a3a3"/><stop offset="0.048" stop-color="#9a9a9a"/><stop offset="0.071" stop-color="#898989"/><stop offset="0.095" stop-color="#747474"/><stop offset="0.119" stop-color="#646464"/><stop offset="0.143" stop-color="#5e5e5e"/><stop offset="0.167" stop-color="#5e5e5e"/><stop offset="0.190" stop-color="#5e5e5e"/><stop offset="0.214" stop-color="#5d5d5d"/><stop offset="0.238" stop-color="#5f5f5f"/><stop offset="0.262" stop-color="#6b6b6b"/><stop offset="0.286" stop-color="#7c7c7c"/><stop offset="0.310" stop-color="#8c8c8c"/><stop offset="0.333" stop-color="#959595"/><stop offset="0.357" stop-color="#989898"/><stop offset="0.381" stop-color="#9a9a9a"/><stop offset="0.405" stop-color="#9c9c9c"/><stop offset="0.429" stop-color="#a1a1a1"/><stop offset="0.452" stop-color="#a8a8a8"/><stop offset="0.476" stop-color="#b0b0b0"/><stop offset="0.500" stop-color="#b4b4b4"/><stop offset="0.524" stop-color="#b3b3b3"/><stop offset="0.548" stop-color="#adadad"/><stop offset="0.571" stop-color="#9e9e9e"/><stop offset="0.595" stop-color="#858585"/><stop offset="0.619" stop-color="#686868"/><stop offset="0.643" stop-color="#494949"/><stop offset="0.667" stop-color="#353535"/><stop offset="0.690" stop-color="#303030"/><stop offset="0.714" stop-color="#303030"/><stop offset="0.738" stop-color="#303030"/><stop offset="0.762" stop-color="#313131"/><stop offset="0.786" stop-color="#393939"/><stop offset="0.810" stop-color="#4a4a4a"/><stop offset="0.833" stop-color="#5f5f5f"/><stop offset="0.857" stop-color="#747474"/><stop offset="0.881" stop-color="#868686"/><stop offset="0.905" stop-color="#939393"/><stop offset="0.929" stop-color="#9c9c9c"/><stop offset="0.952" stop-color="#a1a1a1"/><stop offset="0.976" stop-color="#a2a2a2"/><stop offset="1.000" stop-color="#a1a1a1"/></linearGradient><linearGradient id="clipEr36" gradientUnits="userSpaceOnUse" x1="23.10" y1="0" x2="84.70" y2="0"><stop offset="0.000" stop-color="#8f8f8f"/><stop offset="0.024" stop-color="#8e8e8e"/><stop offset="0.048" stop-color="#919191"/><stop offset="0.071" stop-color="#969696"/><stop offset="0.095" stop-color="#8b8b8b"/><stop offset="0.119" stop-color="#767676"/><stop offset="0.143" stop-color="#666666"/><stop offset="0.167" stop-color="#5b5b5b"/><stop offset="0.190" stop-color="#4c4c4c"/><stop offset="0.214" stop-color="#383838"/><stop offset="0.238" stop-color="#313131"/><stop offset="0.262" stop-color="#353535"/><stop offset="0.286" stop-color="#525252"/><stop offset="0.310" stop-color="#787878"/><stop offset="0.333" stop-color="#8a8a8a"/><stop offset="0.357" stop-color="#8e8e8e"/><stop offset="0.381" stop-color="#8f8f8f"/><stop offset="0.405" stop-color="#909090"/><stop offset="0.429" stop-color="#939393"/><stop offset="0.452" stop-color="#979797"/><stop offset="0.476" stop-color="#9d9d9d"/><stop offset="0.500" stop-color="#a3a3a3"/><stop offset="0.524" stop-color="#a5a5a5"/><stop offset="0.548" stop-color="#a2a2a2"/><stop offset="0.571" stop-color="#9c9c9c"/><stop offset="0.595" stop-color="#969696"/><stop offset="0.619" stop-color="#919191"/><stop offset="0.643" stop-color="#8e8e8e"/><stop offset="0.667" stop-color="#8d8d8d"/><stop offset="0.690" stop-color="#8c8c8c"/><stop offset="0.714" stop-color="#8c8c8c"/><stop offset="0.738" stop-color="#8c8c8c"/><stop offset="0.762" stop-color="#8d8d8d"/><stop offset="0.786" stop-color="#8d8d8d"/><stop offset="0.810" stop-color="#8e8e8e"/><stop offset="0.833" stop-color="#8f8f8f"/><stop offset="0.857" stop-color="#8f8f8f"/><stop offset="0.881" stop-color="#8f8f8f"/><stop offset="0.905" stop-color="#8f8f8f"/><stop offset="0.929" stop-color="#8f8f8f"/><stop offset="0.952" stop-color="#8f8f8f"/><stop offset="0.976" stop-color="#8f8f8f"/><stop offset="1.000" stop-color="#8f8f8f"/></linearGradient><linearGradient id="clipEr37" gradientUnits="userSpaceOnUse" x1="23.10" y1="0" x2="84.70" y2="0"><stop offset="0.000" stop-color="#7a7a7a"/><stop offset="0.024" stop-color="#7f7f7f"/><stop offset="0.048" stop-color="#8d8d8d"/><stop offset="0.071" stop-color="#a3a3a3"/><stop offset="0.095" stop-color="#b2b2b2"/><stop offset="0.119" stop-color="#b4b4b4"/><stop offset="0.143" stop-color="#aeaeae"/><stop offset="0.167" stop-color="#9e9e9e"/><stop offset="0.190" stop-color="#818181"/><stop offset="0.214" stop-color="#606060"/><stop offset="0.238" stop-color="#4e4e4e"/><stop offset="0.262" stop-color="#565656"/><stop offset="0.286" stop-color="#717171"/><stop offset="0.310" stop-color="#888888"/><stop offset="0.333" stop-color="#909090"/><stop offset="0.357" stop-color="#919191"/><stop offset="0.381" stop-color="#919191"/><stop offset="0.405" stop-color="#919191"/><stop offset="0.429" stop-color="#919191"/><stop offset="0.452" stop-color="#919191"/><stop offset="0.476" stop-color="#8e8e8e"/><stop offset="0.500" stop-color="#808080"/><stop offset="0.524" stop-color="#636363"/><stop offset="0.548" stop-color="#3e3e3e"/><stop offset="0.571" stop-color="#2a2a2a"/><stop offset="0.595" stop-color="#2b2b2b"/><stop offset="0.619" stop-color="#434343"/><stop offset="0.643" stop-color="#686868"/><stop offset="0.667" stop-color="#838383"/><stop offset="0.690" stop-color="#8e8e8e"/><stop offset="0.714" stop-color="#919191"/><stop offset="0.738" stop-color="#919191"/><stop offset="0.762" stop-color="#919191"/><stop offset="0.786" stop-color="#909090"/><stop offset="0.810" stop-color="#8f8f8f"/><stop offset="0.833" stop-color="#8e8e8e"/><stop offset="0.857" stop-color="#8e8e8e"/><stop offset="0.881" stop-color="#8f8f8f"/><stop offset="0.905" stop-color="#909090"/><stop offset="0.929" stop-color="#919191"/><stop offset="0.952" stop-color="#919191"/><stop offset="0.976" stop-color="#919191"/><stop offset="1.000" stop-color="#919191"/></linearGradient><linearGradient id="clipEr38" gradientUnits="userSpaceOnUse" x1="23.10" y1="0" x2="84.70" y2="0"><stop offset="0.000" stop-color="#919191"/><stop offset="0.024" stop-color="#919191"/><stop offset="0.048" stop-color="#909090"/><stop offset="0.071" stop-color="#8f8f8f"/><stop offset="0.095" stop-color="#8c8c8c"/><stop offset="0.119" stop-color="#888888"/><stop offset="0.143" stop-color="#838383"/><stop offset="0.167" stop-color="#7e7e7e"/><stop offset="0.190" stop-color="#797979"/><stop offset="0.214" stop-color="#737373"/><stop offset="0.238" stop-color="#6e6e6e"/><stop offset="0.262" stop-color="#6b6b6b"/><stop offset="0.286" stop-color="#6a6a6a"/><stop offset="0.310" stop-color="#6c6c6c"/><stop offset="0.333" stop-color="#717171"/><stop offset="0.357" stop-color="#797979"/><stop offset="0.381" stop-color="#818181"/><stop offset="0.405" stop-color="#898989"/><stop offset="0.429" stop-color="#8e8e8e"/><stop offset="0.452" stop-color="#919191"/><stop offset="0.476" stop-color="#959595"/><stop offset="0.500" stop-color="#949494"/><stop offset="0.524" stop-color="#797979"/><stop offset="0.548" stop-color="#484848"/><stop offset="0.571" stop-color="#2a2a2a"/><stop offset="0.595" stop-color="#2c2c2c"/><stop offset="0.619" stop-color="#4b4b4b"/><stop offset="0.643" stop-color="#727272"/><stop offset="0.667" stop-color="#858585"/><stop offset="0.690" stop-color="#8a8a8a"/><stop offset="0.714" stop-color="#878787"/><stop offset="0.738" stop-color="#7e7e7e"/><stop offset="0.762" stop-color="#6d6d6d"/><stop offset="0.786" stop-color="#606060"/><stop offset="0.810" stop-color="#5e5e5e"/><stop offset="0.833" stop-color="#5e5e5e"/><stop offset="0.857" stop-color="#5e5e5e"/><stop offset="0.881" stop-color="#5e5e5e"/><stop offset="0.905" stop-color="#646464"/><stop offset="0.929" stop-color="#757575"/><stop offset="0.952" stop-color="#868686"/><stop offset="0.976" stop-color="#8f8f8f"/><stop offset="1.000" stop-color="#919191"/></linearGradient><linearGradient id="clipEr39" gradientUnits="userSpaceOnUse" x1="23.10" y1="0" x2="84.70" y2="0"><stop offset="0.000" stop-color="#717171"/><stop offset="0.024" stop-color="#727272"/><stop offset="0.048" stop-color="#757575"/><stop offset="0.071" stop-color="#7a7a7a"/><stop offset="0.095" stop-color="#7f7f7f"/><stop offset="0.119" stop-color="#7f7f7f"/><stop offset="0.143" stop-color="#777777"/><stop offset="0.167" stop-color="#6b6b6b"/><stop offset="0.190" stop-color="#616161"/><stop offset="0.214" stop-color="#5e5e5e"/><stop offset="0.238" stop-color="#5e5e5e"/><stop offset="0.262" stop-color="#5e5e5e"/><stop offset="0.286" stop-color="#5e5e5e"/><stop offset="0.310" stop-color="#5e5e5e"/><stop offset="0.333" stop-color="#5e5e5e"/><stop offset="0.357" stop-color="#5e5e5e"/><stop offset="0.381" stop-color="#616161"/><stop offset="0.405" stop-color="#656565"/><stop offset="0.429" stop-color="#6b6b6b"/><stop offset="0.452" stop-color="#7c7c7c"/><stop offset="0.476" stop-color="#afafaf"/><stop offset="0.500" stop-color="#d5d5d5"/><stop offset="0.524" stop-color="#d6d6d6"/><stop offset="0.548" stop-color="#d6d6d6"/><stop offset="0.571" stop-color="#d6d6d6"/><stop offset="0.595" stop-color="#d6d6d6"/><stop offset="0.619" stop-color="#d6d6d6"/><stop offset="0.643" stop-color="#d6d6d6"/><stop offset="0.667" stop-color="#b1b1b1"/><stop offset="0.690" stop-color="#7d7d7d"/><stop offset="0.714" stop-color="#6c6c6c"/><stop offset="0.738" stop-color="#666666"/><stop offset="0.762" stop-color="#606060"/><stop offset="0.786" stop-color="#5e5e5e"/><stop offset="0.810" stop-color="#5e5e5e"/><stop offset="0.833" stop-color="#5e5e5e"/><stop offset="0.857" stop-color="#5e5e5e"/><stop offset="0.881" stop-color="#5e5e5e"/><stop offset="0.905" stop-color="#5e5e5e"/><stop offset="0.929" stop-color="#626262"/><stop offset="0.952" stop-color="#696969"/><stop offset="0.976" stop-color="#6e6e6e"/><stop offset="1.000" stop-color="#707070"/></linearGradient><linearGradient id="clipEr40" gradientUnits="userSpaceOnUse" x1="23.10" y1="0" x2="84.70" y2="0"><stop offset="0.000" stop-color="#828282"/><stop offset="0.024" stop-color="#909090"/><stop offset="0.048" stop-color="#9d9d9d"/><stop offset="0.071" stop-color="#a1a1a1"/><stop offset="0.095" stop-color="#a1a1a1"/><stop offset="0.119" stop-color="#a1a1a1"/><stop offset="0.143" stop-color="#a1a1a1"/><stop offset="0.167" stop-color="#a1a1a1"/><stop offset="0.190" stop-color="#a1a1a1"/><stop offset="0.214" stop-color="#a1a1a1"/><stop offset="0.238" stop-color="#9c9c9c"/><stop offset="0.262" stop-color="#8d8d8d"/><stop offset="0.286" stop-color="#808080"/><stop offset="0.310" stop-color="#7a7a7a"/><stop offset="0.333" stop-color="#787878"/><stop offset="0.357" stop-color="#787878"/><stop offset="0.381" stop-color="#787878"/><stop offset="0.405" stop-color="#787878"/><stop offset="0.429" stop-color="#7a7a7a"/><stop offset="0.452" stop-color="#8a8a8a"/><stop offset="0.476" stop-color="#b8b8b8"/><stop offset="0.500" stop-color="#d6d6d6"/><stop offset="0.524" stop-color="#d6d6d6"/><stop offset="0.548" stop-color="#d6d6d6"/><stop offset="0.571" stop-color="#d6d6d6"/><stop offset="0.595" stop-color="#d6d6d6"/><stop offset="0.619" stop-color="#d6d6d6"/><stop offset="0.643" stop-color="#d6d6d6"/><stop offset="0.667" stop-color="#b8b8b8"/><stop offset="0.690" stop-color="#898989"/><stop offset="0.714" stop-color="#787878"/><stop offset="0.738" stop-color="#767676"/><stop offset="0.762" stop-color="#747474"/><stop offset="0.786" stop-color="#717171"/><stop offset="0.810" stop-color="#6f6f6f"/><stop offset="0.833" stop-color="#6d6d6d"/><stop offset="0.857" stop-color="#6e6e6e"/><stop offset="0.881" stop-color="#707070"/><stop offset="0.905" stop-color="#737373"/><stop offset="0.929" stop-color="#767676"/><stop offset="0.952" stop-color="#777777"/><stop offset="0.976" stop-color="#787878"/><stop offset="1.000" stop-color="#787878"/></linearGradient><linearGradient id="clipEr41" gradientUnits="userSpaceOnUse" x1="23.10" y1="0" x2="84.70" y2="0"><stop offset="0.000" stop-color="#888888"/><stop offset="0.024" stop-color="#898989"/><stop offset="0.048" stop-color="#8d8d8d"/><stop offset="0.071" stop-color="#929292"/><stop offset="0.095" stop-color="#969696"/><stop offset="0.119" stop-color="#9a9a9a"/><stop offset="0.143" stop-color="#9b9b9b"/><stop offset="0.167" stop-color="#999999"/><stop offset="0.190" stop-color="#969696"/><stop offset="0.214" stop-color="#919191"/><stop offset="0.238" stop-color="#8d8d8d"/><stop offset="0.262" stop-color="#898989"/><stop offset="0.286" stop-color="#888888"/><stop offset="0.310" stop-color="#878787"/><stop offset="0.333" stop-color="#868686"/><stop offset="0.357" stop-color="#858585"/><stop offset="0.381" stop-color="#848484"/><stop offset="0.405" stop-color="#838383"/><stop offset="0.429" stop-color="#838383"/><stop offset="0.452" stop-color="#858585"/><stop offset="0.476" stop-color="#8f8f8f"/><stop offset="0.500" stop-color="#a7a7a7"/><stop offset="0.524" stop-color="#c2c2c2"/><stop offset="0.548" stop-color="#d0d0d0"/><stop offset="0.571" stop-color="#d4d4d4"/><stop offset="0.595" stop-color="#d0d0d0"/><stop offset="0.619" stop-color="#c2c2c2"/><stop offset="0.643" stop-color="#a9a9a9"/><stop offset="0.667" stop-color="#929292"/><stop offset="0.690" stop-color="#898989"/><stop offset="0.714" stop-color="#878787"/><stop offset="0.738" stop-color="#878787"/><stop offset="0.762" stop-color="#878787"/><stop offset="0.786" stop-color="#878787"/><stop offset="0.810" stop-color="#878787"/><stop offset="0.833" stop-color="#878787"/><stop offset="0.857" stop-color="#878787"/><stop offset="0.881" stop-color="#878787"/><stop offset="0.905" stop-color="#878787"/><stop offset="0.929" stop-color="#878787"/><stop offset="0.952" stop-color="#878787"/><stop offset="0.976" stop-color="#878787"/><stop offset="1.000" stop-color="#878787"/></linearGradient><clipPath id="clipF"><rect x="290.40" y="493.70" width="57.10" height="108.50"/></clipPath><linearGradient id="clipFr0" gradientUnits="userSpaceOnUse" x1="290.40" y1="0" x2="347.50" y2="0"><stop offset="0.000" stop-color="#989898"/><stop offset="0.024" stop-color="#949494"/><stop offset="0.048" stop-color="#8b8b8b"/><stop offset="0.071" stop-color="#7d7d7d"/><stop offset="0.095" stop-color="#6d6d6d"/><stop offset="0.119" stop-color="#616161"/><stop offset="0.143" stop-color="#5e5e5e"/><stop offset="0.167" stop-color="#5e5e5e"/><stop offset="0.190" stop-color="#5e5e5e"/><stop offset="0.214" stop-color="#5e5e5e"/><stop offset="0.238" stop-color="#5e5e5e"/><stop offset="0.262" stop-color="#5e5e5e"/><stop offset="0.286" stop-color="#606060"/><stop offset="0.310" stop-color="#686868"/><stop offset="0.333" stop-color="#6f6f6f"/><stop offset="0.357" stop-color="#656565"/><stop offset="0.381" stop-color="#434343"/><stop offset="0.405" stop-color="#222222"/><stop offset="0.429" stop-color="#161616"/><stop offset="0.452" stop-color="#151515"/><stop offset="0.476" stop-color="#1a1a1a"/><stop offset="0.500" stop-color="#2d2d2d"/><stop offset="0.524" stop-color="#434343"/><stop offset="0.548" stop-color="#535353"/><stop offset="0.571" stop-color="#5c5c5c"/><stop offset="0.595" stop-color="#5e5e5e"/><stop offset="0.619" stop-color="#5e5e5e"/><stop offset="0.643" stop-color="#5e5e5e"/><stop offset="0.667" stop-color="#606060"/><stop offset="0.690" stop-color="#6c6c6c"/><stop offset="0.714" stop-color="#7f7f7f"/><stop offset="0.738" stop-color="#8c8c8c"/><stop offset="0.762" stop-color="#8e8e8e"/><stop offset="0.786" stop-color="#858585"/><stop offset="0.810" stop-color="#767676"/><stop offset="0.833" stop-color="#686868"/><stop offset="0.857" stop-color="#616161"/><stop offset="0.881" stop-color="#5f5f5f"/><stop offset="0.905" stop-color="#5f5f5f"/><stop offset="0.929" stop-color="#606060"/><stop offset="0.952" stop-color="#646464"/><stop offset="0.976" stop-color="#6c6c6c"/><stop offset="1.000" stop-color="#777777"/></linearGradient><linearGradient id="clipFr1" gradientUnits="userSpaceOnUse" x1="290.40" y1="0" x2="347.50" y2="0"><stop offset="0.000" stop-color="#848484"/><stop offset="0.024" stop-color="#7e7e7e"/><stop offset="0.048" stop-color="#737373"/><stop offset="0.071" stop-color="#666666"/><stop offset="0.095" stop-color="#5f5f5f"/><stop offset="0.119" stop-color="#5e5e5e"/><stop offset="0.143" stop-color="#5e5e5e"/><stop offset="0.167" stop-color="#5e5e5e"/><stop offset="0.190" stop-color="#5e5e5e"/><stop offset="0.214" stop-color="#5e5e5e"/><stop offset="0.238" stop-color="#5e5e5e"/><stop offset="0.262" stop-color="#5e5e5e"/><stop offset="0.286" stop-color="#5e5e5e"/><stop offset="0.310" stop-color="#5c5c5c"/><stop offset="0.333" stop-color="#545454"/><stop offset="0.357" stop-color="#3f3f3f"/><stop offset="0.381" stop-color="#1f1f1f"/><stop offset="0.405" stop-color="#141414"/><stop offset="0.429" stop-color="#141414"/><stop offset="0.452" stop-color="#141414"/><stop offset="0.476" stop-color="#141414"/><stop offset="0.500" stop-color="#171717"/><stop offset="0.524" stop-color="#323232"/><stop offset="0.548" stop-color="#4c4c4c"/><stop offset="0.571" stop-color="#595959"/><stop offset="0.595" stop-color="#5d5d5d"/><stop offset="0.619" stop-color="#5e5e5e"/><stop offset="0.643" stop-color="#5d5d5d"/><stop offset="0.667" stop-color="#5e5e5e"/><stop offset="0.690" stop-color="#5e5e5e"/><stop offset="0.714" stop-color="#585858"/><stop offset="0.738" stop-color="#4c4c4c"/><stop offset="0.762" stop-color="#434343"/><stop offset="0.786" stop-color="#3f3f3f"/><stop offset="0.810" stop-color="#3f3f3f"/><stop offset="0.833" stop-color="#454545"/><stop offset="0.857" stop-color="#4e4e4e"/><stop offset="0.881" stop-color="#565656"/><stop offset="0.905" stop-color="#5b5b5b"/><stop offset="0.929" stop-color="#5d5d5d"/><stop offset="0.952" stop-color="#5e5e5e"/><stop offset="0.976" stop-color="#626262"/><stop offset="1.000" stop-color="#6f6f6f"/></linearGradient><linearGradient id="clipFr2" gradientUnits="userSpaceOnUse" x1="290.40" y1="0" x2="347.50" y2="0"><stop offset="0.000" stop-color="#848484"/><stop offset="0.024" stop-color="#808080"/><stop offset="0.048" stop-color="#797979"/><stop offset="0.071" stop-color="#6f6f6f"/><stop offset="0.095" stop-color="#666666"/><stop offset="0.119" stop-color="#606060"/><stop offset="0.143" stop-color="#5e5e5e"/><stop offset="0.167" stop-color="#5e5e5e"/><stop offset="0.190" stop-color="#5e5e5e"/><stop offset="0.214" stop-color="#5d5d5d"/><stop offset="0.238" stop-color="#5d5d5d"/><stop offset="0.262" stop-color="#5f5f5f"/><stop offset="0.286" stop-color="#646464"/><stop offset="0.310" stop-color="#6d6d6d"/><stop offset="0.333" stop-color="#777777"/><stop offset="0.357" stop-color="#7d7d7d"/><stop offset="0.381" stop-color="#7f7f7f"/><stop offset="0.405" stop-color="#7b7b7b"/><stop offset="0.429" stop-color="#7a7a7a"/><stop offset="0.452" stop-color="#828282"/><stop offset="0.476" stop-color="#929292"/><stop offset="0.500" stop-color="#a0a0a0"/><stop offset="0.524" stop-color="#a6a6a6"/><stop offset="0.548" stop-color="#a9a9a9"/><stop offset="0.571" stop-color="#aaaaaa"/><stop offset="0.595" stop-color="#a8a8a8"/><stop offset="0.619" stop-color="#9e9e9e"/><stop offset="0.643" stop-color="#8c8c8c"/><stop offset="0.667" stop-color="#797979"/><stop offset="0.690" stop-color="#656565"/><stop offset="0.714" stop-color="#4f4f4f"/><stop offset="0.738" stop-color="#3e3e3e"/><stop offset="0.762" stop-color="#363636"/><stop offset="0.786" stop-color="#343434"/><stop offset="0.810" stop-color="#393939"/><stop offset="0.833" stop-color="#454545"/><stop offset="0.857" stop-color="#585858"/><stop offset="0.881" stop-color="#696969"/><stop offset="0.905" stop-color="#747474"/><stop offset="0.929" stop-color="#797979"/><stop offset="0.952" stop-color="#7b7b7b"/><stop offset="0.976" stop-color="#7d7d7d"/><stop offset="1.000" stop-color="#7e7e7e"/></linearGradient><linearGradient id="clipFr3" gradientUnits="userSpaceOnUse" x1="290.40" y1="0" x2="347.50" y2="0"><stop offset="0.000" stop-color="#6d6d6d"/><stop offset="0.024" stop-color="#6a6a6a"/><stop offset="0.048" stop-color="#676767"/><stop offset="0.071" stop-color="#656565"/><stop offset="0.095" stop-color="#626262"/><stop offset="0.119" stop-color="#616161"/><stop offset="0.143" stop-color="#5f5f5f"/><stop offset="0.167" stop-color="#5e5e5e"/><stop offset="0.190" stop-color="#595959"/><stop offset="0.214" stop-color="#515151"/><stop offset="0.238" stop-color="#484848"/><stop offset="0.262" stop-color="#454545"/><stop offset="0.286" stop-color="#454545"/><stop offset="0.310" stop-color="#454545"/><stop offset="0.333" stop-color="#484848"/><stop offset="0.357" stop-color="#5f5f5f"/><stop offset="0.381" stop-color="#868686"/><stop offset="0.405" stop-color="#a8a8a8"/><stop offset="0.429" stop-color="#b6b6b6"/><stop offset="0.452" stop-color="#b7b7b7"/><stop offset="0.476" stop-color="#b8b8b8"/><stop offset="0.500" stop-color="#b8b8b8"/><stop offset="0.524" stop-color="#b8b8b8"/><stop offset="0.548" stop-color="#b1b1b1"/><stop offset="0.571" stop-color="#ababab"/><stop offset="0.595" stop-color="#ababab"/><stop offset="0.619" stop-color="#ababab"/><stop offset="0.643" stop-color="#a3a3a3"/><stop offset="0.667" stop-color="#8c8c8c"/><stop offset="0.690" stop-color="#7f7f7f"/><stop offset="0.714" stop-color="#7d7d7d"/><stop offset="0.738" stop-color="#7d7d7d"/><stop offset="0.762" stop-color="#7d7d7d"/><stop offset="0.786" stop-color="#7d7d7d"/><stop offset="0.810" stop-color="#7d7d7d"/><stop offset="0.833" stop-color="#7d7d7d"/><stop offset="0.857" stop-color="#7d7d7d"/><stop offset="0.881" stop-color="#7d7d7d"/><stop offset="0.905" stop-color="#7d7d7d"/><stop offset="0.929" stop-color="#7d7d7d"/><stop offset="0.952" stop-color="#7d7d7d"/><stop offset="0.976" stop-color="#7d7d7d"/><stop offset="1.000" stop-color="#7d7d7d"/></linearGradient><linearGradient id="clipFr4" gradientUnits="userSpaceOnUse" x1="290.40" y1="0" x2="347.50" y2="0"><stop offset="0.000" stop-color="#949494"/><stop offset="0.024" stop-color="#999999"/><stop offset="0.048" stop-color="#9e9e9e"/><stop offset="0.071" stop-color="#a1a1a1"/><stop offset="0.095" stop-color="#a1a1a1"/><stop offset="0.119" stop-color="#a1a1a1"/><stop offset="0.143" stop-color="#a1a1a1"/><stop offset="0.167" stop-color="#a1a1a1"/><stop offset="0.190" stop-color="#a0a0a0"/><stop offset="0.214" stop-color="#a0a0a0"/><stop offset="0.238" stop-color="#a1a1a1"/><stop offset="0.262" stop-color="#aaaaaa"/><stop offset="0.286" stop-color="#b7b7b7"/><stop offset="0.310" stop-color="#c5c5c5"/><stop offset="0.333" stop-color="#d8d8d8"/><stop offset="0.357" stop-color="#ebebeb"/><stop offset="0.381" stop-color="#f2f2f2"/><stop offset="0.405" stop-color="#f2f2f2"/><stop offset="0.429" stop-color="#f2f2f2"/><stop offset="0.452" stop-color="#f2f2f2"/><stop offset="0.476" stop-color="#f2f2f2"/><stop offset="0.500" stop-color="#f1f1f1"/><stop offset="0.524" stop-color="#e6e6e6"/><stop offset="0.548" stop-color="#d6d6d6"/><stop offset="0.571" stop-color="#d6d6d6"/><stop offset="0.595" stop-color="#d6d6d6"/><stop offset="0.619" stop-color="#d6d6d6"/><stop offset="0.643" stop-color="#d6d6d6"/><stop offset="0.667" stop-color="#d6d6d6"/><stop offset="0.690" stop-color="#d6d6d6"/><stop offset="0.714" stop-color="#d0d0d0"/><stop offset="0.738" stop-color="#c4c4c4"/><stop offset="0.762" stop-color="#b4b4b4"/><stop offset="0.786" stop-color="#a5a5a5"/><stop offset="0.810" stop-color="#a6a6a6"/><stop offset="0.833" stop-color="#a5a5a5"/><stop offset="0.857" stop-color="#a0a0a0"/><stop offset="0.881" stop-color="#9a9a9a"/><stop offset="0.905" stop-color="#959595"/><stop offset="0.929" stop-color="#929292"/><stop offset="0.952" stop-color="#929292"/><stop offset="0.976" stop-color="#919191"/><stop offset="1.000" stop-color="#919191"/></linearGradient><linearGradient id="clipFr5" gradientUnits="userSpaceOnUse" x1="290.40" y1="0" x2="347.50" y2="0"><stop offset="0.000" stop-color="#8e8e8e"/><stop offset="0.024" stop-color="#949494"/><stop offset="0.048" stop-color="#9c9c9c"/><stop offset="0.071" stop-color="#a0a0a0"/><stop offset="0.095" stop-color="#a1a1a1"/><stop offset="0.119" stop-color="#a1a1a1"/><stop offset="0.143" stop-color="#a1a1a1"/><stop offset="0.167" stop-color="#a1a1a1"/><stop offset="0.190" stop-color="#a1a1a1"/><stop offset="0.214" stop-color="#b1b1b1"/><stop offset="0.238" stop-color="#c8c8c8"/><stop offset="0.262" stop-color="#d5d5d5"/><stop offset="0.286" stop-color="#d6d6d6"/><stop offset="0.310" stop-color="#d6d6d6"/><stop offset="0.333" stop-color="#d6d6d6"/><stop offset="0.357" stop-color="#e9e9e9"/><stop offset="0.381" stop-color="#f2f2f2"/><stop offset="0.405" stop-color="#f2f2f2"/><stop offset="0.429" stop-color="#f2f2f2"/><stop offset="0.452" stop-color="#f2f2f2"/><stop offset="0.476" stop-color="#f2f2f2"/><stop offset="0.500" stop-color="#efefef"/><stop offset="0.524" stop-color="#e0e0e0"/><stop offset="0.548" stop-color="#d6d6d6"/><stop offset="0.571" stop-color="#dbdbdb"/><stop offset="0.595" stop-color="#e4e4e4"/><stop offset="0.619" stop-color="#e7e7e7"/><stop offset="0.643" stop-color="#e5e5e5"/><stop offset="0.667" stop-color="#dedede"/><stop offset="0.690" stop-color="#d6d6d6"/><stop offset="0.714" stop-color="#d6d6d6"/><stop offset="0.738" stop-color="#d6d6d6"/><stop offset="0.762" stop-color="#d6d6d6"/><stop offset="0.786" stop-color="#d1d1d1"/><stop offset="0.810" stop-color="#bdbdbd"/><stop offset="0.833" stop-color="#b8b8b8"/><stop offset="0.857" stop-color="#b8b8b8"/><stop offset="0.881" stop-color="#b8b8b8"/><stop offset="0.905" stop-color="#acacac"/><stop offset="0.929" stop-color="#989898"/><stop offset="0.952" stop-color="#8c8c8c"/><stop offset="0.976" stop-color="#888888"/><stop offset="1.000" stop-color="#878787"/></linearGradient><linearGradient id="clipFr6" gradientUnits="userSpaceOnUse" x1="290.40" y1="0" x2="347.50" y2="0"><stop offset="0.000" stop-color="#707070"/><stop offset="0.024" stop-color="#707070"/><stop offset="0.048" stop-color="#717171"/><stop offset="0.071" stop-color="#727272"/><stop offset="0.095" stop-color="#747474"/><stop offset="0.119" stop-color="#767676"/><stop offset="0.143" stop-color="#777777"/><stop offset="0.167" stop-color="#777777"/><stop offset="0.190" stop-color="#767676"/><stop offset="0.214" stop-color="#737373"/><stop offset="0.238" stop-color="#787878"/><stop offset="0.262" stop-color="#828282"/><stop offset="0.286" stop-color="#929292"/><stop offset="0.310" stop-color="#a7a7a7"/><stop offset="0.333" stop-color="#bebebe"/><stop offset="0.357" stop-color="#cecece"/><stop offset="0.381" stop-color="#d6d6d6"/><stop offset="0.405" stop-color="#d6d6d6"/><stop offset="0.429" stop-color="#d6d6d6"/><stop offset="0.452" stop-color="#d6d6d6"/><stop offset="0.476" stop-color="#d6d6d6"/><stop offset="0.500" stop-color="#d6d6d6"/><stop offset="0.524" stop-color="#d8d8d8"/><stop offset="0.548" stop-color="#ededed"/><stop offset="0.571" stop-color="#f2f2f2"/><stop offset="0.595" stop-color="#f2f2f2"/><stop offset="0.619" stop-color="#f2f2f2"/><stop offset="0.643" stop-color="#f2f2f2"/><stop offset="0.667" stop-color="#f2f2f2"/><stop offset="0.690" stop-color="#f0f0f0"/><stop offset="0.714" stop-color="#dedede"/><stop offset="0.738" stop-color="#bebebe"/><stop offset="0.762" stop-color="#a8a8a8"/><stop offset="0.786" stop-color="#b3b3b3"/><stop offset="0.810" stop-color="#b5b5b5"/><stop offset="0.833" stop-color="#b3b3b3"/><stop offset="0.857" stop-color="#aaaaaa"/><stop offset="0.881" stop-color="#999999"/><stop offset="0.905" stop-color="#858585"/><stop offset="0.929" stop-color="#777777"/><stop offset="0.952" stop-color="#727272"/><stop offset="0.976" stop-color="#707070"/><stop offset="1.000" stop-color="#707070"/></linearGradient><linearGradient id="clipFr7" gradientUnits="userSpaceOnUse" x1="290.40" y1="0" x2="347.50" y2="0"><stop offset="0.000" stop-color="#707070"/><stop offset="0.024" stop-color="#6f6f6f"/><stop offset="0.048" stop-color="#6e6e6e"/><stop offset="0.071" stop-color="#6c6c6c"/><stop offset="0.095" stop-color="#686868"/><stop offset="0.119" stop-color="#636363"/><stop offset="0.143" stop-color="#5f5f5f"/><stop offset="0.167" stop-color="#5e5e5e"/><stop offset="0.190" stop-color="#5e5e5e"/><stop offset="0.214" stop-color="#5e5e5e"/><stop offset="0.238" stop-color="#5e5e5e"/><stop offset="0.262" stop-color="#5e5e5e"/><stop offset="0.286" stop-color="#5e5e5e"/><stop offset="0.310" stop-color="#5e5e5e"/><stop offset="0.333" stop-color="#5e5e5e"/><stop offset="0.357" stop-color="#616161"/><stop offset="0.381" stop-color="#767676"/><stop offset="0.405" stop-color="#8b8b8b"/><stop offset="0.429" stop-color="#9b9b9b"/><stop offset="0.452" stop-color="#a4a4a4"/><stop offset="0.476" stop-color="#a9a9a9"/><stop offset="0.500" stop-color="#aaaaaa"/><stop offset="0.524" stop-color="#aaaaaa"/><stop offset="0.548" stop-color="#aaaaaa"/><stop offset="0.571" stop-color="#a7a7a7"/><stop offset="0.595" stop-color="#a0a0a0"/><stop offset="0.619" stop-color="#949494"/><stop offset="0.643" stop-color="#828282"/><stop offset="0.667" stop-color="#6e6e6e"/><stop offset="0.690" stop-color="#616161"/><stop offset="0.714" stop-color="#5e5e5e"/><stop offset="0.738" stop-color="#5e5e5e"/><stop offset="0.762" stop-color="#5e5e5e"/><stop offset="0.786" stop-color="#5e5e5e"/><stop offset="0.810" stop-color="#5e5e5e"/><stop offset="0.833" stop-color="#5e5e5e"/><stop offset="0.857" stop-color="#5e5e5e"/><stop offset="0.881" stop-color="#5f5f5f"/><stop offset="0.905" stop-color="#5e5e5e"/><stop offset="0.929" stop-color="#5d5d5d"/><stop offset="0.952" stop-color="#5d5d5d"/><stop offset="0.976" stop-color="#5d5d5d"/><stop offset="1.000" stop-color="#606060"/></linearGradient><linearGradient id="clipFr8" gradientUnits="userSpaceOnUse" x1="290.40" y1="0" x2="347.50" y2="0"><stop offset="0.000" stop-color="#919191"/><stop offset="0.024" stop-color="#919191"/><stop offset="0.048" stop-color="#919191"/><stop offset="0.071" stop-color="#909090"/><stop offset="0.095" stop-color="#8f8f8f"/><stop offset="0.119" stop-color="#8e8e8e"/><stop offset="0.143" stop-color="#8d8d8d"/><stop offset="0.167" stop-color="#8d8d8d"/><stop offset="0.190" stop-color="#909090"/><stop offset="0.214" stop-color="#959595"/><stop offset="0.238" stop-color="#979797"/><stop offset="0.262" stop-color="#969696"/><stop offset="0.286" stop-color="#929292"/><stop offset="0.310" stop-color="#9b9b9b"/><stop offset="0.333" stop-color="#acacac"/><stop offset="0.357" stop-color="#bebebe"/><stop offset="0.381" stop-color="#cdcdcd"/><stop offset="0.405" stop-color="#d4d4d4"/><stop offset="0.429" stop-color="#d6d6d6"/><stop offset="0.452" stop-color="#d6d6d6"/><stop offset="0.476" stop-color="#dedede"/><stop offset="0.500" stop-color="#ececec"/><stop offset="0.524" stop-color="#f1f1f1"/><stop offset="0.548" stop-color="#f1f1f1"/><stop offset="0.571" stop-color="#eeeeee"/><stop offset="0.595" stop-color="#e3e3e3"/><stop offset="0.619" stop-color="#d5d5d5"/><stop offset="0.643" stop-color="#d4d4d4"/><stop offset="0.667" stop-color="#d1d1d1"/><stop offset="0.690" stop-color="#cecece"/><stop offset="0.714" stop-color="#c9c9c9"/><stop offset="0.738" stop-color="#c5c5c5"/><stop offset="0.762" stop-color="#c1c1c1"/><stop offset="0.786" stop-color="#bababa"/><stop offset="0.810" stop-color="#b1b1b1"/><stop offset="0.833" stop-color="#a7a7a7"/><stop offset="0.857" stop-color="#9e9e9e"/><stop offset="0.881" stop-color="#989898"/><stop offset="0.905" stop-color="#9a9a9a"/><stop offset="0.929" stop-color="#999999"/><stop offset="0.952" stop-color="#949494"/><stop offset="0.976" stop-color="#919191"/><stop offset="1.000" stop-color="#909090"/></linearGradient><linearGradient id="clipFr9" gradientUnits="userSpaceOnUse" x1="290.40" y1="0" x2="347.50" y2="0"><stop offset="0.000" stop-color="#919191"/><stop offset="0.024" stop-color="#919191"/><stop offset="0.048" stop-color="#919191"/><stop offset="0.071" stop-color="#929292"/><stop offset="0.095" stop-color="#929292"/><stop offset="0.119" stop-color="#939393"/><stop offset="0.143" stop-color="#999999"/><stop offset="0.167" stop-color="#a9a9a9"/><stop offset="0.190" stop-color="#b7b7b7"/><stop offset="0.214" stop-color="#b8b8b8"/><stop offset="0.238" stop-color="#b8b8b8"/><stop offset="0.262" stop-color="#bdbdbd"/><stop offset="0.286" stop-color="#cecece"/><stop offset="0.310" stop-color="#d6d6d6"/><stop offset="0.333" stop-color="#d6d6d6"/><stop offset="0.357" stop-color="#d6d6d6"/><stop offset="0.381" stop-color="#d6d6d6"/><stop offset="0.405" stop-color="#d6d6d6"/><stop offset="0.429" stop-color="#d6d6d6"/><stop offset="0.452" stop-color="#d6d6d6"/><stop offset="0.476" stop-color="#e6e6e6"/><stop offset="0.500" stop-color="#f1f1f1"/><stop offset="0.524" stop-color="#f2f2f2"/><stop offset="0.548" stop-color="#f2f2f2"/><stop offset="0.571" stop-color="#f2f2f2"/><stop offset="0.595" stop-color="#eaeaea"/><stop offset="0.619" stop-color="#d6d6d6"/><stop offset="0.643" stop-color="#d6d6d6"/><stop offset="0.667" stop-color="#d6d6d6"/><stop offset="0.690" stop-color="#d6d6d6"/><stop offset="0.714" stop-color="#d6d6d6"/><stop offset="0.738" stop-color="#d6d6d6"/><stop offset="0.762" stop-color="#d6d6d6"/><stop offset="0.786" stop-color="#d6d6d6"/><stop offset="0.810" stop-color="#d6d6d6"/><stop offset="0.833" stop-color="#d6d6d6"/><stop offset="0.857" stop-color="#d6d6d6"/><stop offset="0.881" stop-color="#cccccc"/><stop offset="0.905" stop-color="#bbbbbb"/><stop offset="0.929" stop-color="#a9a9a9"/><stop offset="0.952" stop-color="#a0a0a0"/><stop offset="0.976" stop-color="#9a9a9a"/><stop offset="1.000" stop-color="#949494"/></linearGradient><linearGradient id="clipFr10" gradientUnits="userSpaceOnUse" x1="290.40" y1="0" x2="347.50" y2="0"><stop offset="0.000" stop-color="#888888"/><stop offset="0.024" stop-color="#8b8b8b"/><stop offset="0.048" stop-color="#939393"/><stop offset="0.071" stop-color="#9c9c9c"/><stop offset="0.095" stop-color="#a0a0a0"/><stop offset="0.119" stop-color="#a1a1a1"/><stop offset="0.143" stop-color="#a1a1a1"/><stop offset="0.167" stop-color="#a1a1a1"/><stop offset="0.190" stop-color="#a9a9a9"/><stop offset="0.214" stop-color="#b5b5b5"/><stop offset="0.238" stop-color="#b7b7b7"/><stop offset="0.262" stop-color="#b7b7b7"/><stop offset="0.286" stop-color="#b3b3b3"/><stop offset="0.310" stop-color="#a7a7a7"/><stop offset="0.333" stop-color="#b2b2b2"/><stop offset="0.357" stop-color="#c1c1c1"/><stop offset="0.381" stop-color="#cdcdcd"/><stop offset="0.405" stop-color="#d4d4d4"/><stop offset="0.429" stop-color="#d6d6d6"/><stop offset="0.452" stop-color="#d6d6d6"/><stop offset="0.476" stop-color="#d6d6d6"/><stop offset="0.500" stop-color="#d6d6d6"/><stop offset="0.524" stop-color="#d6d6d6"/><stop offset="0.548" stop-color="#d6d6d6"/><stop offset="0.571" stop-color="#d6d6d6"/><stop offset="0.595" stop-color="#d6d6d6"/><stop offset="0.619" stop-color="#d6d6d6"/><stop offset="0.643" stop-color="#d6d6d6"/><stop offset="0.667" stop-color="#d6d6d6"/><stop offset="0.690" stop-color="#d6d6d6"/><stop offset="0.714" stop-color="#d6d6d6"/><stop offset="0.738" stop-color="#d6d6d6"/><stop offset="0.762" stop-color="#d3d3d3"/><stop offset="0.786" stop-color="#cbcbcb"/><stop offset="0.810" stop-color="#bebebe"/><stop offset="0.833" stop-color="#b0b0b0"/><stop offset="0.857" stop-color="#a3a3a3"/><stop offset="0.881" stop-color="#a1a1a1"/><stop offset="0.905" stop-color="#a1a1a1"/><stop offset="0.929" stop-color="#a0a0a0"/><stop offset="0.952" stop-color="#9c9c9c"/><stop offset="0.976" stop-color="#969696"/><stop offset="1.000" stop-color="#929292"/></linearGradient><linearGradient id="clipFr11" gradientUnits="userSpaceOnUse" x1="290.40" y1="0" x2="347.50" y2="0"><stop offset="0.000" stop-color="#8b8b8b"/><stop offset="0.024" stop-color="#949494"/><stop offset="0.048" stop-color="#9f9f9f"/><stop offset="0.071" stop-color="#a1a1a1"/><stop offset="0.095" stop-color="#a1a1a1"/><stop offset="0.119" stop-color="#a1a1a1"/><stop offset="0.143" stop-color="#a1a1a1"/><stop offset="0.167" stop-color="#a1a1a1"/><stop offset="0.190" stop-color="#a1a1a1"/><stop offset="0.214" stop-color="#a1a1a1"/><stop offset="0.238" stop-color="#9e9e9e"/><stop offset="0.262" stop-color="#8c8c8c"/><stop offset="0.286" stop-color="#7b7b7b"/><stop offset="0.310" stop-color="#737373"/><stop offset="0.333" stop-color="#949494"/><stop offset="0.357" stop-color="#ababab"/><stop offset="0.381" stop-color="#ababab"/><stop offset="0.405" stop-color="#ababab"/><stop offset="0.429" stop-color="#ababab"/><stop offset="0.452" stop-color="#ababab"/><stop offset="0.476" stop-color="#afafaf"/><stop offset="0.500" stop-color="#d1d1d1"/><stop offset="0.524" stop-color="#d6d6d6"/><stop offset="0.548" stop-color="#d6d6d6"/><stop offset="0.571" stop-color="#d6d6d6"/><stop offset="0.595" stop-color="#d4d4d4"/><stop offset="0.619" stop-color="#bbbbbb"/><stop offset="0.643" stop-color="#ababab"/><stop offset="0.667" stop-color="#ababab"/><stop offset="0.690" stop-color="#ababab"/><stop offset="0.714" stop-color="#ababab"/><stop offset="0.738" stop-color="#ababab"/><stop offset="0.762" stop-color="#a0a0a0"/><stop offset="0.786" stop-color="#a1a1a1"/><stop offset="0.810" stop-color="#a1a1a1"/><stop offset="0.833" stop-color="#a1a1a1"/><stop offset="0.857" stop-color="#a0a0a0"/><stop offset="0.881" stop-color="#a1a1a1"/><stop offset="0.905" stop-color="#a1a1a1"/><stop offset="0.929" stop-color="#a1a1a1"/><stop offset="0.952" stop-color="#9b9b9b"/><stop offset="0.976" stop-color="#8d8d8d"/><stop offset="1.000" stop-color="#808080"/></linearGradient><linearGradient id="clipFr12" gradientUnits="userSpaceOnUse" x1="290.40" y1="0" x2="347.50" y2="0"><stop offset="0.000" stop-color="#727272"/><stop offset="0.024" stop-color="#787878"/><stop offset="0.048" stop-color="#878787"/><stop offset="0.071" stop-color="#989898"/><stop offset="0.095" stop-color="#a0a0a0"/><stop offset="0.119" stop-color="#a0a0a0"/><stop offset="0.143" stop-color="#a0a0a0"/><stop offset="0.167" stop-color="#9e9e9e"/><stop offset="0.190" stop-color="#9a9a9a"/><stop offset="0.214" stop-color="#8e8e8e"/><stop offset="0.238" stop-color="#7c7c7c"/><stop offset="0.262" stop-color="#6f6f6f"/><stop offset="0.286" stop-color="#686868"/><stop offset="0.310" stop-color="#676767"/><stop offset="0.333" stop-color="#797979"/><stop offset="0.357" stop-color="#747474"/><stop offset="0.381" stop-color="#656565"/><stop offset="0.405" stop-color="#585858"/><stop offset="0.429" stop-color="#555555"/><stop offset="0.452" stop-color="#616161"/><stop offset="0.476" stop-color="#797979"/><stop offset="0.500" stop-color="#929292"/><stop offset="0.524" stop-color="#a2a2a2"/><stop offset="0.548" stop-color="#a9a9a9"/><stop offset="0.571" stop-color="#aaaaaa"/><stop offset="0.595" stop-color="#ababab"/><stop offset="0.619" stop-color="#ababab"/><stop offset="0.643" stop-color="#aaaaaa"/><stop offset="0.667" stop-color="#a9a9a9"/><stop offset="0.690" stop-color="#a4a4a4"/><stop offset="0.714" stop-color="#9a9a9a"/><stop offset="0.738" stop-color="#8a8a8a"/><stop offset="0.762" stop-color="#707070"/><stop offset="0.786" stop-color="#626262"/><stop offset="0.810" stop-color="#555555"/><stop offset="0.833" stop-color="#494949"/><stop offset="0.857" stop-color="#424242"/><stop offset="0.881" stop-color="#484848"/><stop offset="0.905" stop-color="#5a5a5a"/><stop offset="0.929" stop-color="#6f6f6f"/><stop offset="0.952" stop-color="#787878"/><stop offset="0.976" stop-color="#767676"/><stop offset="1.000" stop-color="#727272"/></linearGradient><linearGradient id="clipFr13" gradientUnits="userSpaceOnUse" x1="290.40" y1="0" x2="347.50" y2="0"><stop offset="0.000" stop-color="#707070"/><stop offset="0.024" stop-color="#707070"/><stop offset="0.048" stop-color="#707070"/><stop offset="0.071" stop-color="#717171"/><stop offset="0.095" stop-color="#727272"/><stop offset="0.119" stop-color="#727272"/><stop offset="0.143" stop-color="#707070"/><stop offset="0.167" stop-color="#6b6b6b"/><stop offset="0.190" stop-color="#646464"/><stop offset="0.214" stop-color="#606060"/><stop offset="0.238" stop-color="#5e5e5e"/><stop offset="0.262" stop-color="#5e5e5e"/><stop offset="0.286" stop-color="#5e5e5e"/><stop offset="0.310" stop-color="#5c5c5c"/><stop offset="0.333" stop-color="#565656"/><stop offset="0.357" stop-color="#4b4b4b"/><stop offset="0.381" stop-color="#3e3e3e"/><stop offset="0.405" stop-color="#373737"/><stop offset="0.429" stop-color="#363636"/><stop offset="0.452" stop-color="#414141"/><stop offset="0.476" stop-color="#5d5d5d"/><stop offset="0.500" stop-color="#818181"/><stop offset="0.524" stop-color="#9c9c9c"/><stop offset="0.548" stop-color="#a7a7a7"/><stop offset="0.571" stop-color="#aaaaaa"/><stop offset="0.595" stop-color="#ababab"/><stop offset="0.619" stop-color="#ababab"/><stop offset="0.643" stop-color="#aaaaaa"/><stop offset="0.667" stop-color="#a7a7a7"/><stop offset="0.690" stop-color="#a0a0a0"/><stop offset="0.714" stop-color="#919191"/><stop offset="0.738" stop-color="#7b7b7b"/><stop offset="0.762" stop-color="#666666"/><stop offset="0.786" stop-color="#585858"/><stop offset="0.810" stop-color="#4c4c4c"/><stop offset="0.833" stop-color="#3e3e3e"/><stop offset="0.857" stop-color="#363636"/><stop offset="0.881" stop-color="#393939"/><stop offset="0.905" stop-color="#464646"/><stop offset="0.929" stop-color="#595959"/><stop offset="0.952" stop-color="#676767"/><stop offset="0.976" stop-color="#6e6e6e"/><stop offset="1.000" stop-color="#707070"/></linearGradient><linearGradient id="clipFr14" gradientUnits="userSpaceOnUse" x1="290.40" y1="0" x2="347.50" y2="0"><stop offset="0.000" stop-color="#919191"/><stop offset="0.024" stop-color="#919191"/><stop offset="0.048" stop-color="#919191"/><stop offset="0.071" stop-color="#919191"/><stop offset="0.095" stop-color="#919191"/><stop offset="0.119" stop-color="#919191"/><stop offset="0.143" stop-color="#919191"/><stop offset="0.167" stop-color="#919191"/><stop offset="0.190" stop-color="#919191"/><stop offset="0.214" stop-color="#919191"/><stop offset="0.238" stop-color="#919191"/><stop offset="0.262" stop-color="#919191"/><stop offset="0.286" stop-color="#929292"/><stop offset="0.310" stop-color="#989898"/><stop offset="0.333" stop-color="#a9a9a9"/><stop offset="0.357" stop-color="#a9a9a9"/><stop offset="0.381" stop-color="#aaaaaa"/><stop offset="0.405" stop-color="#aaaaaa"/><stop offset="0.429" stop-color="#aaaaaa"/><stop offset="0.452" stop-color="#aeaeae"/><stop offset="0.476" stop-color="#b5b5b5"/><stop offset="0.500" stop-color="#b8b8b8"/><stop offset="0.524" stop-color="#b8b8b8"/><stop offset="0.548" stop-color="#b8b8b8"/><stop offset="0.571" stop-color="#b8b8b8"/><stop offset="0.595" stop-color="#b8b8b8"/><stop offset="0.619" stop-color="#b8b8b8"/><stop offset="0.643" stop-color="#b5b5b5"/><stop offset="0.667" stop-color="#adadad"/><stop offset="0.690" stop-color="#ababab"/><stop offset="0.714" stop-color="#ababab"/><stop offset="0.738" stop-color="#ababab"/><stop offset="0.762" stop-color="#aaaaaa"/><stop offset="0.786" stop-color="#939393"/><stop offset="0.810" stop-color="#8f8f8f"/><stop offset="0.833" stop-color="#8d8d8d"/><stop offset="0.857" stop-color="#8c8c8c"/><stop offset="0.881" stop-color="#8c8c8c"/><stop offset="0.905" stop-color="#8b8b8b"/><stop offset="0.929" stop-color="#898989"/><stop offset="0.952" stop-color="#878787"/><stop offset="0.976" stop-color="#868686"/><stop offset="1.000" stop-color="#868686"/></linearGradient><linearGradient id="clipFr15" gradientUnits="userSpaceOnUse" x1="290.40" y1="0" x2="347.50" y2="0"><stop offset="0.000" stop-color="#7c7c7c"/><stop offset="0.024" stop-color="#7b7b7b"/><stop offset="0.048" stop-color="#787878"/><stop offset="0.071" stop-color="#757575"/><stop offset="0.095" stop-color="#707070"/><stop offset="0.119" stop-color="#6d6d6d"/><stop offset="0.143" stop-color="#6a6a6a"/><stop offset="0.167" stop-color="#6b6b6b"/><stop offset="0.190" stop-color="#6d6d6d"/><stop offset="0.214" stop-color="#717171"/><stop offset="0.238" stop-color="#777777"/><stop offset="0.262" stop-color="#808080"/><stop offset="0.286" stop-color="#909090"/><stop offset="0.310" stop-color="#9e9e9e"/><stop offset="0.333" stop-color="#ababab"/><stop offset="0.357" stop-color="#ababab"/><stop offset="0.381" stop-color="#ababab"/><stop offset="0.405" stop-color="#aeaeae"/><stop offset="0.429" stop-color="#c3c3c3"/><stop offset="0.452" stop-color="#d2d2d2"/><stop offset="0.476" stop-color="#d6d6d6"/><stop offset="0.500" stop-color="#d6d6d6"/><stop offset="0.524" stop-color="#d6d6d6"/><stop offset="0.548" stop-color="#d6d6d6"/><stop offset="0.571" stop-color="#d6d6d6"/><stop offset="0.595" stop-color="#d6d6d6"/><stop offset="0.619" stop-color="#d6d6d6"/><stop offset="0.643" stop-color="#d6d6d6"/><stop offset="0.667" stop-color="#d6d6d6"/><stop offset="0.690" stop-color="#d6d6d6"/><stop offset="0.714" stop-color="#d6d6d6"/><stop offset="0.738" stop-color="#d6d6d6"/><stop offset="0.762" stop-color="#cdcdcd"/><stop offset="0.786" stop-color="#bababa"/><stop offset="0.810" stop-color="#a3a3a3"/><stop offset="0.833" stop-color="#909090"/><stop offset="0.857" stop-color="#939393"/><stop offset="0.881" stop-color="#9c9c9c"/><stop offset="0.905" stop-color="#9c9c9c"/><stop offset="0.929" stop-color="#959595"/><stop offset="0.952" stop-color="#878787"/><stop offset="0.976" stop-color="#7f7f7f"/><stop offset="1.000" stop-color="#7d7d7d"/></linearGradient><linearGradient id="clipFr16" gradientUnits="userSpaceOnUse" x1="290.40" y1="0" x2="347.50" y2="0"><stop offset="0.000" stop-color="#999999"/><stop offset="0.024" stop-color="#999999"/><stop offset="0.048" stop-color="#9a9a9a"/><stop offset="0.071" stop-color="#9b9b9b"/><stop offset="0.095" stop-color="#9c9c9c"/><stop offset="0.119" stop-color="#9e9e9e"/><stop offset="0.143" stop-color="#9e9e9e"/><stop offset="0.167" stop-color="#9d9d9d"/><stop offset="0.190" stop-color="#9c9c9c"/><stop offset="0.214" stop-color="#999999"/><stop offset="0.238" stop-color="#9c9c9c"/><stop offset="0.262" stop-color="#acacac"/><stop offset="0.286" stop-color="#b8b8b8"/><stop offset="0.310" stop-color="#b8b8b8"/><stop offset="0.333" stop-color="#b8b8b8"/><stop offset="0.357" stop-color="#cdcdcd"/><stop offset="0.381" stop-color="#d6d6d6"/><stop offset="0.405" stop-color="#d6d6d6"/><stop offset="0.429" stop-color="#d6d6d6"/><stop offset="0.452" stop-color="#d6d6d6"/><stop offset="0.476" stop-color="#d6d6d6"/><stop offset="0.500" stop-color="#d6d6d6"/><stop offset="0.524" stop-color="#d6d6d6"/><stop offset="0.548" stop-color="#d6d6d6"/><stop offset="0.571" stop-color="#d6d6d6"/><stop offset="0.595" stop-color="#d6d6d6"/><stop offset="0.619" stop-color="#d6d6d6"/><stop offset="0.643" stop-color="#d6d6d6"/><stop offset="0.667" stop-color="#d6d6d6"/><stop offset="0.690" stop-color="#d6d6d6"/><stop offset="0.714" stop-color="#d6d6d6"/><stop offset="0.738" stop-color="#d6d6d6"/><stop offset="0.762" stop-color="#d6d6d6"/><stop offset="0.786" stop-color="#d6d6d6"/><stop offset="0.810" stop-color="#d6d6d6"/><stop offset="0.833" stop-color="#d4d4d4"/><stop offset="0.857" stop-color="#c5c5c5"/><stop offset="0.881" stop-color="#b0b0b0"/><stop offset="0.905" stop-color="#a1a1a1"/><stop offset="0.929" stop-color="#a1a1a1"/><stop offset="0.952" stop-color="#a0a0a0"/><stop offset="0.976" stop-color="#9b9b9b"/><stop offset="1.000" stop-color="#999999"/></linearGradient><linearGradient id="clipFr17" gradientUnits="userSpaceOnUse" x1="290.40" y1="0" x2="347.50" y2="0"><stop offset="0.000" stop-color="#9a9a9a"/><stop offset="0.024" stop-color="#9c9c9c"/><stop offset="0.048" stop-color="#9f9f9f"/><stop offset="0.071" stop-color="#a1a1a1"/><stop offset="0.095" stop-color="#a1a1a1"/><stop offset="0.119" stop-color="#a1a1a1"/><stop offset="0.143" stop-color="#a1a1a1"/><stop offset="0.167" stop-color="#a1a1a1"/><stop offset="0.190" stop-color="#a1a1a1"/><stop offset="0.214" stop-color="#a1a1a1"/><stop offset="0.238" stop-color="#9d9d9d"/><stop offset="0.262" stop-color="#afafaf"/><stop offset="0.286" stop-color="#b8b8b8"/><stop offset="0.310" stop-color="#b8b8b8"/><stop offset="0.333" stop-color="#b8b8b8"/><stop offset="0.357" stop-color="#c6c6c6"/><stop offset="0.381" stop-color="#d5d5d5"/><stop offset="0.405" stop-color="#d6d6d6"/><stop offset="0.429" stop-color="#e1e1e1"/><stop offset="0.452" stop-color="#f0f0f0"/><stop offset="0.476" stop-color="#f2f2f2"/><stop offset="0.500" stop-color="#f2f2f2"/><stop offset="0.524" stop-color="#f2f2f2"/><stop offset="0.548" stop-color="#f2f2f2"/><stop offset="0.571" stop-color="#f2f2f2"/><stop offset="0.595" stop-color="#f2f2f2"/><stop offset="0.619" stop-color="#f2f2f2"/><stop offset="0.643" stop-color="#f2f2f2"/><stop offset="0.667" stop-color="#f2f2f2"/><stop offset="0.690" stop-color="#f2f2f2"/><stop offset="0.714" stop-color="#f2f2f2"/><stop offset="0.738" stop-color="#f2f2f2"/><stop offset="0.762" stop-color="#eaeaea"/><stop offset="0.786" stop-color="#d6d6d6"/><stop offset="0.810" stop-color="#d6d6d6"/><stop offset="0.833" stop-color="#d0d0d0"/><stop offset="0.857" stop-color="#bbbbbb"/><stop offset="0.881" stop-color="#a6a6a6"/><stop offset="0.905" stop-color="#a1a1a1"/><stop offset="0.929" stop-color="#a1a1a1"/><stop offset="0.952" stop-color="#a0a0a0"/><stop offset="0.976" stop-color="#979797"/><stop offset="1.000" stop-color="#929292"/></linearGradient><linearGradient id="clipFr18" gradientUnits="userSpaceOnUse" x1="290.40" y1="0" x2="347.50" y2="0"><stop offset="0.000" stop-color="#939393"/><stop offset="0.024" stop-color="#989898"/><stop offset="0.048" stop-color="#9f9f9f"/><stop offset="0.071" stop-color="#a1a1a1"/><stop offset="0.095" stop-color="#a1a1a1"/><stop offset="0.119" stop-color="#a1a1a1"/><stop offset="0.143" stop-color="#a1a1a1"/><stop offset="0.167" stop-color="#a1a1a1"/><stop offset="0.190" stop-color="#a1a1a1"/><stop offset="0.214" stop-color="#a1a1a1"/><stop offset="0.238" stop-color="#9f9f9f"/><stop offset="0.262" stop-color="#989898"/><stop offset="0.286" stop-color="#a6a6a6"/><stop offset="0.310" stop-color="#b0b0b0"/><stop offset="0.333" stop-color="#b3b3b3"/><stop offset="0.357" stop-color="#aeaeae"/><stop offset="0.381" stop-color="#ababab"/><stop offset="0.405" stop-color="#ababab"/><stop offset="0.429" stop-color="#bfbfbf"/><stop offset="0.452" stop-color="#d6d6d6"/><stop offset="0.476" stop-color="#e8e8e8"/><stop offset="0.500" stop-color="#f1f1f1"/><stop offset="0.524" stop-color="#f2f2f2"/><stop offset="0.548" stop-color="#f2f2f2"/><stop offset="0.571" stop-color="#f2f2f2"/><stop offset="0.595" stop-color="#f2f2f2"/><stop offset="0.619" stop-color="#f2f2f2"/><stop offset="0.643" stop-color="#f2f2f2"/><stop offset="0.667" stop-color="#f2f2f2"/><stop offset="0.690" stop-color="#f2f2f2"/><stop offset="0.714" stop-color="#eeeeee"/><stop offset="0.738" stop-color="#e1e1e1"/><stop offset="0.762" stop-color="#cdcdcd"/><stop offset="0.786" stop-color="#b7b7b7"/><stop offset="0.810" stop-color="#a5a5a5"/><stop offset="0.833" stop-color="#9a9a9a"/><stop offset="0.857" stop-color="#9e9e9e"/><stop offset="0.881" stop-color="#a1a1a1"/><stop offset="0.905" stop-color="#a1a1a1"/><stop offset="0.929" stop-color="#9f9f9f"/><stop offset="0.952" stop-color="#989898"/><stop offset="0.976" stop-color="#939393"/><stop offset="1.000" stop-color="#919191"/></linearGradient><linearGradient id="clipFr19" gradientUnits="userSpaceOnUse" x1="290.40" y1="0" x2="347.50" y2="0"><stop offset="0.000" stop-color="#717171"/><stop offset="0.024" stop-color="#717171"/><stop offset="0.048" stop-color="#7c7c7c"/><stop offset="0.071" stop-color="#919191"/><stop offset="0.095" stop-color="#9f9f9f"/><stop offset="0.119" stop-color="#a1a1a1"/><stop offset="0.143" stop-color="#a1a1a1"/><stop offset="0.167" stop-color="#a1a1a1"/><stop offset="0.190" stop-color="#9f9f9f"/><stop offset="0.214" stop-color="#969696"/><stop offset="0.238" stop-color="#868686"/><stop offset="0.262" stop-color="#7f7f7f"/><stop offset="0.286" stop-color="#7f7f7f"/><stop offset="0.310" stop-color="#9e9e9e"/><stop offset="0.333" stop-color="#ababab"/><stop offset="0.357" stop-color="#ababab"/><stop offset="0.381" stop-color="#ababab"/><stop offset="0.405" stop-color="#ababab"/><stop offset="0.429" stop-color="#ababab"/><stop offset="0.452" stop-color="#acacac"/><stop offset="0.476" stop-color="#aeaeae"/><stop offset="0.500" stop-color="#afafaf"/><stop offset="0.524" stop-color="#b0b0b0"/><stop offset="0.548" stop-color="#afafaf"/><stop offset="0.571" stop-color="#aeaeae"/><stop offset="0.595" stop-color="#acacac"/><stop offset="0.619" stop-color="#ababab"/><stop offset="0.643" stop-color="#ababab"/><stop offset="0.667" stop-color="#ababab"/><stop offset="0.690" stop-color="#ababab"/><stop offset="0.714" stop-color="#ababab"/><stop offset="0.738" stop-color="#ababab"/><stop offset="0.762" stop-color="#ababab"/><stop offset="0.786" stop-color="#959595"/><stop offset="0.810" stop-color="#838383"/><stop offset="0.833" stop-color="#808080"/><stop offset="0.857" stop-color="#808080"/><stop offset="0.881" stop-color="#838383"/><stop offset="0.905" stop-color="#838383"/><stop offset="0.929" stop-color="#818181"/><stop offset="0.952" stop-color="#7e7e7e"/><stop offset="0.976" stop-color="#7d7d7d"/><stop offset="1.000" stop-color="#7d7d7d"/></linearGradient><linearGradient id="clipFr20" gradientUnits="userSpaceOnUse" x1="290.40" y1="0" x2="347.50" y2="0"><stop offset="0.000" stop-color="#777777"/><stop offset="0.024" stop-color="#747474"/><stop offset="0.048" stop-color="#737373"/><stop offset="0.071" stop-color="#737373"/><stop offset="0.095" stop-color="#757575"/><stop offset="0.119" stop-color="#797979"/><stop offset="0.143" stop-color="#7c7c7c"/><stop offset="0.167" stop-color="#7d7d7d"/><stop offset="0.190" stop-color="#828282"/><stop offset="0.214" stop-color="#898989"/><stop offset="0.238" stop-color="#919191"/><stop offset="0.262" stop-color="#9b9b9b"/><stop offset="0.286" stop-color="#a5a5a5"/><stop offset="0.310" stop-color="#adadad"/><stop offset="0.333" stop-color="#b3b3b3"/><stop offset="0.357" stop-color="#b6b6b6"/><stop offset="0.381" stop-color="#b8b8b8"/><stop offset="0.405" stop-color="#b8b8b8"/><stop offset="0.429" stop-color="#b8b8b8"/><stop offset="0.452" stop-color="#b8b8b8"/><stop offset="0.476" stop-color="#b8b8b8"/><stop offset="0.500" stop-color="#b7b7b7"/><stop offset="0.524" stop-color="#b5b5b5"/><stop offset="0.548" stop-color="#b1b1b1"/><stop offset="0.571" stop-color="#ababab"/><stop offset="0.595" stop-color="#ababab"/><stop offset="0.619" stop-color="#ababab"/><stop offset="0.643" stop-color="#ababab"/><stop offset="0.667" stop-color="#acacac"/><stop offset="0.690" stop-color="#ababab"/><stop offset="0.714" stop-color="#ababab"/><stop offset="0.738" stop-color="#ababab"/><stop offset="0.762" stop-color="#ababab"/><stop offset="0.786" stop-color="#969696"/><stop offset="0.810" stop-color="#8e8e8e"/><stop offset="0.833" stop-color="#888888"/><stop offset="0.857" stop-color="#838383"/><stop offset="0.881" stop-color="#808080"/><stop offset="0.905" stop-color="#7f7f7f"/><stop offset="0.929" stop-color="#7e7e7e"/><stop offset="0.952" stop-color="#7d7d7d"/><stop offset="0.976" stop-color="#7d7d7d"/><stop offset="1.000" stop-color="#7d7d7d"/></linearGradient><linearGradient id="clipFr21" gradientUnits="userSpaceOnUse" x1="290.40" y1="0" x2="347.50" y2="0"><stop offset="0.000" stop-color="#838383"/><stop offset="0.024" stop-color="#858585"/><stop offset="0.048" stop-color="#888888"/><stop offset="0.071" stop-color="#898989"/><stop offset="0.095" stop-color="#8a8a8a"/><stop offset="0.119" stop-color="#898989"/><stop offset="0.143" stop-color="#878787"/><stop offset="0.167" stop-color="#848484"/><stop offset="0.190" stop-color="#818181"/><stop offset="0.214" stop-color="#7f7f7f"/><stop offset="0.238" stop-color="#838383"/><stop offset="0.262" stop-color="#8f8f8f"/><stop offset="0.286" stop-color="#a1a1a1"/><stop offset="0.310" stop-color="#b2b2b2"/><stop offset="0.333" stop-color="#b7b7b7"/><stop offset="0.357" stop-color="#b7b7b7"/><stop offset="0.381" stop-color="#b7b7b7"/><stop offset="0.405" stop-color="#b7b7b7"/><stop offset="0.429" stop-color="#b7b7b7"/><stop offset="0.452" stop-color="#bababa"/><stop offset="0.476" stop-color="#cdcdcd"/><stop offset="0.500" stop-color="#d6d6d6"/><stop offset="0.524" stop-color="#d6d6d6"/><stop offset="0.548" stop-color="#d6d6d6"/><stop offset="0.571" stop-color="#d6d6d6"/><stop offset="0.595" stop-color="#d6d6d6"/><stop offset="0.619" stop-color="#d6d6d6"/><stop offset="0.643" stop-color="#d6d6d6"/><stop offset="0.667" stop-color="#d6d6d6"/><stop offset="0.690" stop-color="#d6d6d6"/><stop offset="0.714" stop-color="#d6d6d6"/><stop offset="0.738" stop-color="#d6d6d6"/><stop offset="0.762" stop-color="#d5d5d5"/><stop offset="0.786" stop-color="#d3d3d3"/><stop offset="0.810" stop-color="#d0d0d0"/><stop offset="0.833" stop-color="#cecece"/><stop offset="0.857" stop-color="#c5c5c5"/><stop offset="0.881" stop-color="#b3b3b3"/><stop offset="0.905" stop-color="#9f9f9f"/><stop offset="0.929" stop-color="#8d8d8d"/><stop offset="0.952" stop-color="#828282"/><stop offset="0.976" stop-color="#7c7c7c"/><stop offset="1.000" stop-color="#797979"/></linearGradient><linearGradient id="clipFr22" gradientUnits="userSpaceOnUse" x1="290.40" y1="0" x2="347.50" y2="0"><stop offset="0.000" stop-color="#707070"/><stop offset="0.024" stop-color="#707070"/><stop offset="0.048" stop-color="#707070"/><stop offset="0.071" stop-color="#707070"/><stop offset="0.095" stop-color="#707070"/><stop offset="0.119" stop-color="#707070"/><stop offset="0.143" stop-color="#707070"/><stop offset="0.167" stop-color="#6e6e6e"/><stop offset="0.190" stop-color="#6c6c6c"/><stop offset="0.214" stop-color="#676767"/><stop offset="0.238" stop-color="#626262"/><stop offset="0.262" stop-color="#5f5f5f"/><stop offset="0.286" stop-color="#5e5e5e"/><stop offset="0.310" stop-color="#5e5e5e"/><stop offset="0.333" stop-color="#5e5e5e"/><stop offset="0.357" stop-color="#5e5e5e"/><stop offset="0.381" stop-color="#5e5e5e"/><stop offset="0.405" stop-color="#5e5e5e"/><stop offset="0.429" stop-color="#ababab"/><stop offset="0.452" stop-color="#ababab"/><stop offset="0.476" stop-color="#ababab"/><stop offset="0.500" stop-color="#ababab"/><stop offset="0.524" stop-color="#ababab"/><stop offset="0.548" stop-color="#a6a6a6"/><stop offset="0.571" stop-color="#a9a9a9"/><stop offset="0.595" stop-color="#aaaaaa"/><stop offset="0.619" stop-color="#ababab"/><stop offset="0.643" stop-color="#ababab"/><stop offset="0.667" stop-color="#ababab"/><stop offset="0.690" stop-color="#ababab"/><stop offset="0.714" stop-color="#a9a9a9"/><stop offset="0.738" stop-color="#a2a2a2"/><stop offset="0.762" stop-color="#8c8c8c"/><stop offset="0.786" stop-color="#666666"/><stop offset="0.810" stop-color="#5e5e5e"/><stop offset="0.833" stop-color="#5e5e5e"/><stop offset="0.857" stop-color="#5e5e5e"/><stop offset="0.881" stop-color="#626262"/><stop offset="0.905" stop-color="#696969"/><stop offset="0.929" stop-color="#6d6d6d"/><stop offset="0.952" stop-color="#6f6f6f"/><stop offset="0.976" stop-color="#707070"/><stop offset="1.000" stop-color="#707070"/></linearGradient><linearGradient id="clipFr23" gradientUnits="userSpaceOnUse" x1="290.40" y1="0" x2="347.50" y2="0"><stop offset="0.000" stop-color="#787878"/><stop offset="0.024" stop-color="#787878"/><stop offset="0.048" stop-color="#797979"/><stop offset="0.071" stop-color="#7c7c7c"/><stop offset="0.095" stop-color="#808080"/><stop offset="0.119" stop-color="#858585"/><stop offset="0.143" stop-color="#898989"/><stop offset="0.167" stop-color="#898989"/><stop offset="0.190" stop-color="#878787"/><stop offset="0.214" stop-color="#828282"/><stop offset="0.238" stop-color="#7d7d7d"/><stop offset="0.262" stop-color="#7a7a7a"/><stop offset="0.286" stop-color="#797979"/><stop offset="0.310" stop-color="#8e8e8e"/><stop offset="0.333" stop-color="#979797"/><stop offset="0.357" stop-color="#979797"/><stop offset="0.381" stop-color="#989898"/><stop offset="0.405" stop-color="#a5a5a5"/><stop offset="0.429" stop-color="#b5b5b5"/><stop offset="0.452" stop-color="#c3c3c3"/><stop offset="0.476" stop-color="#cdcdcd"/><stop offset="0.500" stop-color="#d3d3d3"/><stop offset="0.524" stop-color="#d5d5d5"/><stop offset="0.548" stop-color="#d6d6d6"/><stop offset="0.571" stop-color="#d6d6d6"/><stop offset="0.595" stop-color="#d6d6d6"/><stop offset="0.619" stop-color="#d6d6d6"/><stop offset="0.643" stop-color="#d6d6d6"/><stop offset="0.667" stop-color="#d5d5d5"/><stop offset="0.690" stop-color="#d2d2d2"/><stop offset="0.714" stop-color="#cbcbcb"/><stop offset="0.738" stop-color="#bfbfbf"/><stop offset="0.762" stop-color="#acacac"/><stop offset="0.786" stop-color="#949494"/><stop offset="0.810" stop-color="#818181"/><stop offset="0.833" stop-color="#777777"/><stop offset="0.857" stop-color="#757575"/><stop offset="0.881" stop-color="#777777"/><stop offset="0.905" stop-color="#787878"/><stop offset="0.929" stop-color="#787878"/><stop offset="0.952" stop-color="#787878"/><stop offset="0.976" stop-color="#787878"/><stop offset="1.000" stop-color="#787878"/></linearGradient><linearGradient id="clipFr24" gradientUnits="userSpaceOnUse" x1="290.40" y1="0" x2="347.50" y2="0"><stop offset="0.000" stop-color="#8c8c8c"/><stop offset="0.024" stop-color="#8b8b8b"/><stop offset="0.048" stop-color="#8b8b8b"/><stop offset="0.071" stop-color="#8b8b8b"/><stop offset="0.095" stop-color="#8b8b8b"/><stop offset="0.119" stop-color="#8b8b8b"/><stop offset="0.143" stop-color="#8b8b8b"/><stop offset="0.167" stop-color="#8c8c8c"/><stop offset="0.190" stop-color="#8d8d8d"/><stop offset="0.214" stop-color="#909090"/><stop offset="0.238" stop-color="#969696"/><stop offset="0.262" stop-color="#9f9f9f"/><stop offset="0.286" stop-color="#adadad"/><stop offset="0.310" stop-color="#bebebe"/><stop offset="0.333" stop-color="#cdcdcd"/><stop offset="0.357" stop-color="#d5d5d5"/><stop offset="0.381" stop-color="#d6d6d6"/><stop offset="0.405" stop-color="#d6d6d6"/><stop offset="0.429" stop-color="#d6d6d6"/><stop offset="0.452" stop-color="#e6e6e6"/><stop offset="0.476" stop-color="#f0f0f0"/><stop offset="0.500" stop-color="#f2f2f2"/><stop offset="0.524" stop-color="#f2f2f2"/><stop offset="0.548" stop-color="#f2f2f2"/><stop offset="0.571" stop-color="#f2f2f2"/><stop offset="0.595" stop-color="#f1f1f1"/><stop offset="0.619" stop-color="#eaeaea"/><stop offset="0.643" stop-color="#dbdbdb"/><stop offset="0.667" stop-color="#d6d6d6"/><stop offset="0.690" stop-color="#d6d6d6"/><stop offset="0.714" stop-color="#d6d6d6"/><stop offset="0.738" stop-color="#d6d6d6"/><stop offset="0.762" stop-color="#d6d6d6"/><stop offset="0.786" stop-color="#d6d6d6"/><stop offset="0.810" stop-color="#d4d4d4"/><stop offset="0.833" stop-color="#cacaca"/><stop offset="0.857" stop-color="#bbbbbb"/><stop offset="0.881" stop-color="#ababab"/><stop offset="0.905" stop-color="#9e9e9e"/><stop offset="0.929" stop-color="#969696"/><stop offset="0.952" stop-color="#929292"/><stop offset="0.976" stop-color="#909090"/><stop offset="1.000" stop-color="#8f8f8f"/></linearGradient><linearGradient id="clipFr25" gradientUnits="userSpaceOnUse" x1="290.40" y1="0" x2="347.50" y2="0"><stop offset="0.000" stop-color="#7d7d7d"/><stop offset="0.024" stop-color="#7d7d7d"/><stop offset="0.048" stop-color="#7d7d7d"/><stop offset="0.071" stop-color="#7d7d7d"/><stop offset="0.095" stop-color="#7d7d7d"/><stop offset="0.119" stop-color="#7d7d7d"/><stop offset="0.143" stop-color="#7d7d7d"/><stop offset="0.167" stop-color="#7d7d7d"/><stop offset="0.190" stop-color="#7d7d7d"/><stop offset="0.214" stop-color="#7d7d7d"/><stop offset="0.238" stop-color="#7c7c7c"/><stop offset="0.262" stop-color="#7c7c7c"/><stop offset="0.286" stop-color="#7c7c7c"/><stop offset="0.310" stop-color="#909090"/><stop offset="0.333" stop-color="#ababab"/><stop offset="0.357" stop-color="#ababab"/><stop offset="0.381" stop-color="#ababab"/><stop offset="0.405" stop-color="#ababab"/><stop offset="0.429" stop-color="#ababab"/><stop offset="0.452" stop-color="#ababab"/><stop offset="0.476" stop-color="#ababab"/><stop offset="0.500" stop-color="#ababab"/><stop offset="0.524" stop-color="#ababab"/><stop offset="0.548" stop-color="#ababab"/><stop offset="0.571" stop-color="#ababab"/><stop offset="0.595" stop-color="#ababab"/><stop offset="0.619" stop-color="#ababab"/><stop offset="0.643" stop-color="#ababab"/><stop offset="0.667" stop-color="#ababab"/><stop offset="0.690" stop-color="#ababab"/><stop offset="0.714" stop-color="#ababab"/><stop offset="0.738" stop-color="#ababab"/><stop offset="0.762" stop-color="#ababab"/><stop offset="0.786" stop-color="#878787"/><stop offset="0.810" stop-color="#808080"/><stop offset="0.833" stop-color="#7f7f7f"/><stop offset="0.857" stop-color="#7e7e7e"/><stop offset="0.881" stop-color="#7e7e7e"/><stop offset="0.905" stop-color="#7d7d7d"/><stop offset="0.929" stop-color="#7d7d7d"/><stop offset="0.952" stop-color="#7d7d7d"/><stop offset="0.976" stop-color="#7d7d7d"/><stop offset="1.000" stop-color="#7d7d7d"/></linearGradient><linearGradient id="clipFr26" gradientUnits="userSpaceOnUse" x1="290.40" y1="0" x2="347.50" y2="0"><stop offset="0.000" stop-color="#949494"/><stop offset="0.024" stop-color="#989898"/><stop offset="0.048" stop-color="#9f9f9f"/><stop offset="0.071" stop-color="#a8a8a8"/><stop offset="0.095" stop-color="#b1b1b1"/><stop offset="0.119" stop-color="#b7b7b7"/><stop offset="0.143" stop-color="#b8b8b8"/><stop offset="0.167" stop-color="#b8b8b8"/><stop offset="0.190" stop-color="#b8b8b8"/><stop offset="0.214" stop-color="#b8b8b8"/><stop offset="0.238" stop-color="#b8b8b8"/><stop offset="0.262" stop-color="#b8b8b8"/><stop offset="0.286" stop-color="#b7b7b7"/><stop offset="0.310" stop-color="#b3b3b3"/><stop offset="0.333" stop-color="#ababab"/><stop offset="0.357" stop-color="#ababab"/><stop offset="0.381" stop-color="#ababab"/><stop offset="0.405" stop-color="#ababab"/><stop offset="0.429" stop-color="#b1b1b1"/><stop offset="0.452" stop-color="#c6c6c6"/><stop offset="0.476" stop-color="#d5d5d5"/><stop offset="0.500" stop-color="#d6d6d6"/><stop offset="0.524" stop-color="#d6d6d6"/><stop offset="0.548" stop-color="#d6d6d6"/><stop offset="0.571" stop-color="#d6d6d6"/><stop offset="0.595" stop-color="#d6d6d6"/><stop offset="0.619" stop-color="#d6d6d6"/><stop offset="0.643" stop-color="#d6d6d6"/><stop offset="0.667" stop-color="#d6d6d6"/><stop offset="0.690" stop-color="#d2d2d2"/><stop offset="0.714" stop-color="#bfbfbf"/><stop offset="0.738" stop-color="#ababab"/><stop offset="0.762" stop-color="#aaaaaa"/><stop offset="0.786" stop-color="#a0a0a0"/><stop offset="0.810" stop-color="#a0a0a0"/><stop offset="0.833" stop-color="#a0a0a0"/><stop offset="0.857" stop-color="#a0a0a0"/><stop offset="0.881" stop-color="#9c9c9c"/><stop offset="0.905" stop-color="#979797"/><stop offset="0.929" stop-color="#949494"/><stop offset="0.952" stop-color="#949494"/><stop offset="0.976" stop-color="#969696"/><stop offset="1.000" stop-color="#989898"/></linearGradient><linearGradient id="clipFr27" gradientUnits="userSpaceOnUse" x1="290.40" y1="0" x2="347.50" y2="0"><stop offset="0.000" stop-color="#878787"/><stop offset="0.024" stop-color="#878787"/><stop offset="0.048" stop-color="#888888"/><stop offset="0.071" stop-color="#898989"/><stop offset="0.095" stop-color="#8a8a8a"/><stop offset="0.119" stop-color="#8c8c8c"/><stop offset="0.143" stop-color="#8e8e8e"/><stop offset="0.167" stop-color="#8f8f8f"/><stop offset="0.190" stop-color="#909090"/><stop offset="0.214" stop-color="#8e8e8e"/><stop offset="0.238" stop-color="#8a8a8a"/><stop offset="0.262" stop-color="#848484"/><stop offset="0.286" stop-color="#7e7e7e"/><stop offset="0.310" stop-color="#7a7a7a"/><stop offset="0.333" stop-color="#848484"/><stop offset="0.357" stop-color="#838383"/><stop offset="0.381" stop-color="#868686"/><stop offset="0.405" stop-color="#8c8c8c"/><stop offset="0.429" stop-color="#959595"/><stop offset="0.452" stop-color="#9e9e9e"/><stop offset="0.476" stop-color="#a4a4a4"/><stop offset="0.500" stop-color="#a8a8a8"/><stop offset="0.524" stop-color="#aaaaaa"/><stop offset="0.548" stop-color="#ababab"/><stop offset="0.571" stop-color="#ababab"/><stop offset="0.595" stop-color="#ababab"/><stop offset="0.619" stop-color="#ababab"/><stop offset="0.643" stop-color="#ababab"/><stop offset="0.667" stop-color="#ababab"/><stop offset="0.690" stop-color="#aaaaaa"/><stop offset="0.714" stop-color="#a6a6a6"/><stop offset="0.738" stop-color="#989898"/><stop offset="0.762" stop-color="#7a7a7a"/><stop offset="0.786" stop-color="#4e4e4e"/><stop offset="0.810" stop-color="#474747"/><stop offset="0.833" stop-color="#4d4d4d"/><stop offset="0.857" stop-color="#5e5e5e"/><stop offset="0.881" stop-color="#707070"/><stop offset="0.905" stop-color="#7c7c7c"/><stop offset="0.929" stop-color="#818181"/><stop offset="0.952" stop-color="#848484"/><stop offset="0.976" stop-color="#858585"/><stop offset="1.000" stop-color="#868686"/></linearGradient><linearGradient id="clipFr28" gradientUnits="userSpaceOnUse" x1="290.40" y1="0" x2="347.50" y2="0"><stop offset="0.000" stop-color="#878787"/><stop offset="0.024" stop-color="#878787"/><stop offset="0.048" stop-color="#878787"/><stop offset="0.071" stop-color="#878787"/><stop offset="0.095" stop-color="#878787"/><stop offset="0.119" stop-color="#878787"/><stop offset="0.143" stop-color="#878787"/><stop offset="0.167" stop-color="#868686"/><stop offset="0.190" stop-color="#838383"/><stop offset="0.214" stop-color="#7d7d7d"/><stop offset="0.238" stop-color="#737373"/><stop offset="0.262" stop-color="#686868"/><stop offset="0.286" stop-color="#606060"/><stop offset="0.310" stop-color="#5e5e5e"/><stop offset="0.333" stop-color="#5e5e5e"/><stop offset="0.357" stop-color="#5e5e5e"/><stop offset="0.381" stop-color="#5e5e5e"/><stop offset="0.405" stop-color="#5f5f5f"/><stop offset="0.429" stop-color="#666666"/><stop offset="0.452" stop-color="#777777"/><stop offset="0.476" stop-color="#8b8b8b"/><stop offset="0.500" stop-color="#9b9b9b"/><stop offset="0.524" stop-color="#a5a5a5"/><stop offset="0.548" stop-color="#a9a9a9"/><stop offset="0.571" stop-color="#aaaaaa"/><stop offset="0.595" stop-color="#aaaaaa"/><stop offset="0.619" stop-color="#a6a6a6"/><stop offset="0.643" stop-color="#9c9c9c"/><stop offset="0.667" stop-color="#878787"/><stop offset="0.690" stop-color="#6e6e6e"/><stop offset="0.714" stop-color="#5b5b5b"/><stop offset="0.738" stop-color="#4f4f4f"/><stop offset="0.762" stop-color="#3c3c3c"/><stop offset="0.786" stop-color="#313131"/><stop offset="0.810" stop-color="#303030"/><stop offset="0.833" stop-color="#313131"/><stop offset="0.857" stop-color="#3f3f3f"/><stop offset="0.881" stop-color="#606060"/><stop offset="0.905" stop-color="#7b7b7b"/><stop offset="0.929" stop-color="#7f7f7f"/><stop offset="0.952" stop-color="#767676"/><stop offset="0.976" stop-color="#6d6d6d"/><stop offset="1.000" stop-color="#696969"/></linearGradient><linearGradient id="clipFr29" gradientUnits="userSpaceOnUse" x1="290.40" y1="0" x2="347.50" y2="0"><stop offset="0.000" stop-color="#777777"/><stop offset="0.024" stop-color="#747474"/><stop offset="0.048" stop-color="#727272"/><stop offset="0.071" stop-color="#707070"/><stop offset="0.095" stop-color="#707070"/><stop offset="0.119" stop-color="#707070"/><stop offset="0.143" stop-color="#727272"/><stop offset="0.167" stop-color="#777777"/><stop offset="0.190" stop-color="#848484"/><stop offset="0.214" stop-color="#9a9a9a"/><stop offset="0.238" stop-color="#b1b1b1"/><stop offset="0.262" stop-color="#b8b8b8"/><stop offset="0.286" stop-color="#b8b8b8"/><stop offset="0.310" stop-color="#b7b7b7"/><stop offset="0.333" stop-color="#b7b7b7"/><stop offset="0.357" stop-color="#b3b3b3"/><stop offset="0.381" stop-color="#ababab"/><stop offset="0.405" stop-color="#ababab"/><stop offset="0.429" stop-color="#ababab"/><stop offset="0.452" stop-color="#ababab"/><stop offset="0.476" stop-color="#ababab"/><stop offset="0.500" stop-color="#bbbbbb"/><stop offset="0.524" stop-color="#d5d5d5"/><stop offset="0.548" stop-color="#d4d4d4"/><stop offset="0.571" stop-color="#d3d3d3"/><stop offset="0.595" stop-color="#d1d1d1"/><stop offset="0.619" stop-color="#cfcfcf"/><stop offset="0.643" stop-color="#b3b3b3"/><stop offset="0.667" stop-color="#a4a4a4"/><stop offset="0.690" stop-color="#9d9d9d"/><stop offset="0.714" stop-color="#949494"/><stop offset="0.738" stop-color="#8c8c8c"/><stop offset="0.762" stop-color="#777777"/><stop offset="0.786" stop-color="#6e6e6e"/><stop offset="0.810" stop-color="#707070"/><stop offset="0.833" stop-color="#747474"/><stop offset="0.857" stop-color="#787878"/><stop offset="0.881" stop-color="#797979"/><stop offset="0.905" stop-color="#737373"/><stop offset="0.929" stop-color="#666666"/><stop offset="0.952" stop-color="#5e5e5e"/><stop offset="0.976" stop-color="#5e5e5e"/><stop offset="1.000" stop-color="#5e5e5e"/></linearGradient><linearGradient id="clipFr30" gradientUnits="userSpaceOnUse" x1="290.40" y1="0" x2="347.50" y2="0"><stop offset="0.000" stop-color="#9a9a9a"/><stop offset="0.024" stop-color="#9c9c9c"/><stop offset="0.048" stop-color="#9e9e9e"/><stop offset="0.071" stop-color="#9e9e9e"/><stop offset="0.095" stop-color="#9f9f9f"/><stop offset="0.119" stop-color="#9e9e9e"/><stop offset="0.143" stop-color="#9c9c9c"/><stop offset="0.167" stop-color="#9a9a9a"/><stop offset="0.190" stop-color="#989898"/><stop offset="0.214" stop-color="#969696"/><stop offset="0.238" stop-color="#959595"/><stop offset="0.262" stop-color="#959595"/><stop offset="0.286" stop-color="#959595"/><stop offset="0.310" stop-color="#959595"/><stop offset="0.333" stop-color="#9b9b9b"/><stop offset="0.357" stop-color="#ababab"/><stop offset="0.381" stop-color="#ababab"/><stop offset="0.405" stop-color="#ababab"/><stop offset="0.429" stop-color="#ababab"/><stop offset="0.452" stop-color="#ababab"/><stop offset="0.476" stop-color="#aaaaaa"/><stop offset="0.500" stop-color="#a6a6a6"/><stop offset="0.524" stop-color="#979797"/><stop offset="0.548" stop-color="#7a7a7a"/><stop offset="0.571" stop-color="#626262"/><stop offset="0.595" stop-color="#5e5e5e"/><stop offset="0.619" stop-color="#5e5e5e"/><stop offset="0.643" stop-color="#6c6c6c"/><stop offset="0.667" stop-color="#999999"/><stop offset="0.690" stop-color="#c4c4c4"/><stop offset="0.714" stop-color="#d3d3d3"/><stop offset="0.738" stop-color="#d6d6d6"/><stop offset="0.762" stop-color="#d6d6d6"/><stop offset="0.786" stop-color="#d6d6d6"/><stop offset="0.810" stop-color="#d5d5d5"/><stop offset="0.833" stop-color="#c6c6c6"/><stop offset="0.857" stop-color="#afafaf"/><stop offset="0.881" stop-color="#9c9c9c"/><stop offset="0.905" stop-color="#919191"/><stop offset="0.929" stop-color="#8a8a8a"/><stop offset="0.952" stop-color="#828282"/><stop offset="0.976" stop-color="#7b7b7b"/><stop offset="1.000" stop-color="#787878"/></linearGradient><linearGradient id="clipFr31" gradientUnits="userSpaceOnUse" x1="290.40" y1="0" x2="347.50" y2="0"><stop offset="0.000" stop-color="#919191"/><stop offset="0.024" stop-color="#919191"/><stop offset="0.048" stop-color="#919191"/><stop offset="0.071" stop-color="#919191"/><stop offset="0.095" stop-color="#919191"/><stop offset="0.119" stop-color="#919191"/><stop offset="0.143" stop-color="#919191"/><stop offset="0.167" stop-color="#919191"/><stop offset="0.190" stop-color="#909090"/><stop offset="0.214" stop-color="#909090"/><stop offset="0.238" stop-color="#8e8e8e"/><stop offset="0.262" stop-color="#8d8d8d"/><stop offset="0.286" stop-color="#8a8a8a"/><stop offset="0.310" stop-color="#888888"/><stop offset="0.333" stop-color="#878787"/><stop offset="0.357" stop-color="#a7a7a7"/><stop offset="0.381" stop-color="#ababab"/><stop offset="0.405" stop-color="#ababab"/><stop offset="0.429" stop-color="#ababab"/><stop offset="0.452" stop-color="#ababab"/><stop offset="0.476" stop-color="#ababab"/><stop offset="0.500" stop-color="#aaaaaa"/><stop offset="0.524" stop-color="#a5a5a5"/><stop offset="0.548" stop-color="#9a9a9a"/><stop offset="0.571" stop-color="#8c8c8c"/><stop offset="0.595" stop-color="#838383"/><stop offset="0.619" stop-color="#868686"/><stop offset="0.643" stop-color="#929292"/><stop offset="0.667" stop-color="#a0a0a0"/><stop offset="0.690" stop-color="#b1b1b1"/><stop offset="0.714" stop-color="#bbbbbb"/><stop offset="0.738" stop-color="#bfbfbf"/><stop offset="0.762" stop-color="#bebebe"/><stop offset="0.786" stop-color="#b7b7b7"/><stop offset="0.810" stop-color="#adadad"/><stop offset="0.833" stop-color="#a2a2a2"/><stop offset="0.857" stop-color="#999999"/><stop offset="0.881" stop-color="#949494"/><stop offset="0.905" stop-color="#929292"/><stop offset="0.929" stop-color="#929292"/><stop offset="0.952" stop-color="#929292"/><stop offset="0.976" stop-color="#919191"/><stop offset="1.000" stop-color="#919191"/></linearGradient><linearGradient id="clipFr32" gradientUnits="userSpaceOnUse" x1="290.40" y1="0" x2="347.50" y2="0"><stop offset="0.000" stop-color="#787878"/><stop offset="0.024" stop-color="#787878"/><stop offset="0.048" stop-color="#787878"/><stop offset="0.071" stop-color="#787878"/><stop offset="0.095" stop-color="#787878"/><stop offset="0.119" stop-color="#787878"/><stop offset="0.143" stop-color="#797979"/><stop offset="0.167" stop-color="#7a7a7a"/><stop offset="0.190" stop-color="#7c7c7c"/><stop offset="0.214" stop-color="#808080"/><stop offset="0.238" stop-color="#848484"/><stop offset="0.262" stop-color="#8a8a8a"/><stop offset="0.286" stop-color="#919191"/><stop offset="0.310" stop-color="#989898"/><stop offset="0.333" stop-color="#9f9f9f"/><stop offset="0.357" stop-color="#a5a5a5"/><stop offset="0.381" stop-color="#ababab"/><stop offset="0.405" stop-color="#aeaeae"/><stop offset="0.429" stop-color="#b1b1b1"/><stop offset="0.452" stop-color="#b5b5b5"/><stop offset="0.476" stop-color="#bebebe"/><stop offset="0.500" stop-color="#c6c6c6"/><stop offset="0.524" stop-color="#cbcbcb"/><stop offset="0.548" stop-color="#cdcdcd"/><stop offset="0.571" stop-color="#cdcdcd"/><stop offset="0.595" stop-color="#cacaca"/><stop offset="0.619" stop-color="#c4c4c4"/><stop offset="0.643" stop-color="#b9b9b9"/><stop offset="0.667" stop-color="#b5b5b5"/><stop offset="0.690" stop-color="#b3b3b3"/><stop offset="0.714" stop-color="#b0b0b0"/><stop offset="0.738" stop-color="#ababab"/><stop offset="0.762" stop-color="#a6a6a6"/><stop offset="0.786" stop-color="#a0a0a0"/><stop offset="0.810" stop-color="#9a9a9a"/><stop offset="0.833" stop-color="#959595"/><stop offset="0.857" stop-color="#909090"/><stop offset="0.881" stop-color="#8a8a8a"/><stop offset="0.905" stop-color="#858585"/><stop offset="0.929" stop-color="#818181"/><stop offset="0.952" stop-color="#7e7e7e"/><stop offset="0.976" stop-color="#7c7c7c"/><stop offset="1.000" stop-color="#7a7a7a"/></linearGradient><linearGradient id="clipFr33" gradientUnits="userSpaceOnUse" x1="290.40" y1="0" x2="347.50" y2="0"><stop offset="0.000" stop-color="#767676"/><stop offset="0.024" stop-color="#6e6e6e"/><stop offset="0.048" stop-color="#646464"/><stop offset="0.071" stop-color="#5f5f5f"/><stop offset="0.095" stop-color="#5e5e5e"/><stop offset="0.119" stop-color="#5e5e5e"/><stop offset="0.143" stop-color="#5e5e5e"/><stop offset="0.167" stop-color="#5e5e5e"/><stop offset="0.190" stop-color="#5d5d5d"/><stop offset="0.214" stop-color="#5b5b5b"/><stop offset="0.238" stop-color="#5a5a5a"/><stop offset="0.262" stop-color="#545454"/><stop offset="0.286" stop-color="#464646"/><stop offset="0.310" stop-color="#373737"/><stop offset="0.333" stop-color="#313131"/><stop offset="0.357" stop-color="#303030"/><stop offset="0.381" stop-color="#303030"/><stop offset="0.405" stop-color="#303030"/><stop offset="0.429" stop-color="#303030"/><stop offset="0.452" stop-color="#393939"/><stop offset="0.476" stop-color="#525252"/><stop offset="0.500" stop-color="#727272"/><stop offset="0.524" stop-color="#8e8e8e"/><stop offset="0.548" stop-color="#9f9f9f"/><stop offset="0.571" stop-color="#a7a7a7"/><stop offset="0.595" stop-color="#aaaaaa"/><stop offset="0.619" stop-color="#ababab"/><stop offset="0.643" stop-color="#ababab"/><stop offset="0.667" stop-color="#ababab"/><stop offset="0.690" stop-color="#ababab"/><stop offset="0.714" stop-color="#a2a2a2"/><stop offset="0.738" stop-color="#808080"/><stop offset="0.762" stop-color="#7c7c7c"/><stop offset="0.786" stop-color="#7c7c7c"/><stop offset="0.810" stop-color="#7c7c7c"/><stop offset="0.833" stop-color="#7d7d7d"/><stop offset="0.857" stop-color="#7d7d7d"/><stop offset="0.881" stop-color="#7d7d7d"/><stop offset="0.905" stop-color="#7d7d7d"/><stop offset="0.929" stop-color="#7d7d7d"/><stop offset="0.952" stop-color="#7d7d7d"/><stop offset="0.976" stop-color="#7d7d7d"/><stop offset="1.000" stop-color="#7d7d7d"/></linearGradient><linearGradient id="clipFr34" gradientUnits="userSpaceOnUse" x1="290.40" y1="0" x2="347.50" y2="0"><stop offset="0.000" stop-color="#909090"/><stop offset="0.024" stop-color="#898989"/><stop offset="0.048" stop-color="#808080"/><stop offset="0.071" stop-color="#767676"/><stop offset="0.095" stop-color="#6e6e6e"/><stop offset="0.119" stop-color="#6a6a6a"/><stop offset="0.143" stop-color="#686868"/><stop offset="0.167" stop-color="#696969"/><stop offset="0.190" stop-color="#6d6d6d"/><stop offset="0.214" stop-color="#737373"/><stop offset="0.238" stop-color="#7b7b7b"/><stop offset="0.262" stop-color="#818181"/><stop offset="0.286" stop-color="#838383"/><stop offset="0.310" stop-color="#818181"/><stop offset="0.333" stop-color="#7c7c7c"/><stop offset="0.357" stop-color="#797979"/><stop offset="0.381" stop-color="#7e7e7e"/><stop offset="0.405" stop-color="#868686"/><stop offset="0.429" stop-color="#8c8c8c"/><stop offset="0.452" stop-color="#959595"/><stop offset="0.476" stop-color="#9d9d9d"/><stop offset="0.500" stop-color="#a4a4a4"/><stop offset="0.524" stop-color="#a9a9a9"/><stop offset="0.548" stop-color="#bfbfbf"/><stop offset="0.571" stop-color="#cfcfcf"/><stop offset="0.595" stop-color="#d4d4d4"/><stop offset="0.619" stop-color="#d3d3d3"/><stop offset="0.643" stop-color="#c8c8c8"/><stop offset="0.667" stop-color="#b2b2b2"/><stop offset="0.690" stop-color="#ababab"/><stop offset="0.714" stop-color="#959595"/><stop offset="0.738" stop-color="#858585"/><stop offset="0.762" stop-color="#818181"/><stop offset="0.786" stop-color="#808080"/><stop offset="0.810" stop-color="#808080"/><stop offset="0.833" stop-color="#818181"/><stop offset="0.857" stop-color="#838383"/><stop offset="0.881" stop-color="#868686"/><stop offset="0.905" stop-color="#8a8a8a"/><stop offset="0.929" stop-color="#8d8d8d"/><stop offset="0.952" stop-color="#909090"/><stop offset="0.976" stop-color="#939393"/><stop offset="1.000" stop-color="#959595"/></linearGradient><linearGradient id="clipFr35" gradientUnits="userSpaceOnUse" x1="290.40" y1="0" x2="347.50" y2="0"><stop offset="0.000" stop-color="#787878"/><stop offset="0.024" stop-color="#787878"/><stop offset="0.048" stop-color="#787878"/><stop offset="0.071" stop-color="#787878"/><stop offset="0.095" stop-color="#787878"/><stop offset="0.119" stop-color="#787878"/><stop offset="0.143" stop-color="#787878"/><stop offset="0.167" stop-color="#787878"/><stop offset="0.190" stop-color="#787878"/><stop offset="0.214" stop-color="#787878"/><stop offset="0.238" stop-color="#797979"/><stop offset="0.262" stop-color="#797979"/><stop offset="0.286" stop-color="#7a7a7a"/><stop offset="0.310" stop-color="#7b7b7b"/><stop offset="0.333" stop-color="#7c7c7c"/><stop offset="0.357" stop-color="#7e7e7e"/><stop offset="0.381" stop-color="#828282"/><stop offset="0.405" stop-color="#a3a3a3"/><stop offset="0.429" stop-color="#ababab"/><stop offset="0.452" stop-color="#ababab"/><stop offset="0.476" stop-color="#ababab"/><stop offset="0.500" stop-color="#ababab"/><stop offset="0.524" stop-color="#ababab"/><stop offset="0.548" stop-color="#bbbbbb"/><stop offset="0.571" stop-color="#d1d1d1"/><stop offset="0.595" stop-color="#d6d6d6"/><stop offset="0.619" stop-color="#d5d5d5"/><stop offset="0.643" stop-color="#c9c9c9"/><stop offset="0.667" stop-color="#acacac"/><stop offset="0.690" stop-color="#9a9a9a"/><stop offset="0.714" stop-color="#7b7b7b"/><stop offset="0.738" stop-color="#777777"/><stop offset="0.762" stop-color="#727272"/><stop offset="0.786" stop-color="#6f6f6f"/><stop offset="0.810" stop-color="#6d6d6d"/><stop offset="0.833" stop-color="#6e6e6e"/><stop offset="0.857" stop-color="#717171"/><stop offset="0.881" stop-color="#777777"/><stop offset="0.905" stop-color="#7c7c7c"/><stop offset="0.929" stop-color="#818181"/><stop offset="0.952" stop-color="#838383"/><stop offset="0.976" stop-color="#838383"/><stop offset="1.000" stop-color="#818181"/></linearGradient><linearGradient id="clipFr36" gradientUnits="userSpaceOnUse" x1="290.40" y1="0" x2="347.50" y2="0"><stop offset="0.000" stop-color="#999999"/><stop offset="0.024" stop-color="#9a9a9a"/><stop offset="0.048" stop-color="#9b9b9b"/><stop offset="0.071" stop-color="#9d9d9d"/><stop offset="0.095" stop-color="#a1a1a1"/><stop offset="0.119" stop-color="#a7a7a7"/><stop offset="0.143" stop-color="#b0b0b0"/><stop offset="0.167" stop-color="#bcbcbc"/><stop offset="0.190" stop-color="#c8c8c8"/><stop offset="0.214" stop-color="#d1d1d1"/><stop offset="0.238" stop-color="#d6d6d6"/><stop offset="0.262" stop-color="#d6d6d6"/><stop offset="0.286" stop-color="#d6d6d6"/><stop offset="0.310" stop-color="#dadada"/><stop offset="0.333" stop-color="#eaeaea"/><stop offset="0.357" stop-color="#f2f2f2"/><stop offset="0.381" stop-color="#f2f2f2"/><stop offset="0.405" stop-color="#f2f2f2"/><stop offset="0.429" stop-color="#f2f2f2"/><stop offset="0.452" stop-color="#f2f2f2"/><stop offset="0.476" stop-color="#f2f2f2"/><stop offset="0.500" stop-color="#f2f2f2"/><stop offset="0.524" stop-color="#f2f2f2"/><stop offset="0.548" stop-color="#f2f2f2"/><stop offset="0.571" stop-color="#f2f2f2"/><stop offset="0.595" stop-color="#f2f2f2"/><stop offset="0.619" stop-color="#f2f2f2"/><stop offset="0.643" stop-color="#f1f1f1"/><stop offset="0.667" stop-color="#e6e6e6"/><stop offset="0.690" stop-color="#d6d6d6"/><stop offset="0.714" stop-color="#d6d6d6"/><stop offset="0.738" stop-color="#d6d6d6"/><stop offset="0.762" stop-color="#d6d6d6"/><stop offset="0.786" stop-color="#d6d6d6"/><stop offset="0.810" stop-color="#d6d6d6"/><stop offset="0.833" stop-color="#d6d6d6"/><stop offset="0.857" stop-color="#d3d3d3"/><stop offset="0.881" stop-color="#cbcbcb"/><stop offset="0.905" stop-color="#bfbfbf"/><stop offset="0.929" stop-color="#b3b3b3"/><stop offset="0.952" stop-color="#a9a9a9"/><stop offset="0.976" stop-color="#a2a2a2"/><stop offset="1.000" stop-color="#9e9e9e"/></linearGradient><linearGradient id="clipFr37" gradientUnits="userSpaceOnUse" x1="290.40" y1="0" x2="347.50" y2="0"><stop offset="0.000" stop-color="#747474"/><stop offset="0.024" stop-color="#717171"/><stop offset="0.048" stop-color="#6c6c6c"/><stop offset="0.071" stop-color="#676767"/><stop offset="0.095" stop-color="#636363"/><stop offset="0.119" stop-color="#616161"/><stop offset="0.143" stop-color="#606060"/><stop offset="0.167" stop-color="#5f5f5f"/><stop offset="0.190" stop-color="#606060"/><stop offset="0.214" stop-color="#616161"/><stop offset="0.238" stop-color="#646464"/><stop offset="0.262" stop-color="#686868"/><stop offset="0.286" stop-color="#6d6d6d"/><stop offset="0.310" stop-color="#727272"/><stop offset="0.333" stop-color="#767676"/><stop offset="0.357" stop-color="#787878"/><stop offset="0.381" stop-color="#7a7a7a"/><stop offset="0.405" stop-color="#7e7e7e"/><stop offset="0.429" stop-color="#8e8e8e"/><stop offset="0.452" stop-color="#a6a6a6"/><stop offset="0.476" stop-color="#ababab"/><stop offset="0.500" stop-color="#ababab"/><stop offset="0.524" stop-color="#ababab"/><stop offset="0.548" stop-color="#ababab"/><stop offset="0.571" stop-color="#ababab"/><stop offset="0.595" stop-color="#ababab"/><stop offset="0.619" stop-color="#ababab"/><stop offset="0.643" stop-color="#a2a2a2"/><stop offset="0.667" stop-color="#a1a1a1"/><stop offset="0.690" stop-color="#a1a1a1"/><stop offset="0.714" stop-color="#9e9e9e"/><stop offset="0.738" stop-color="#969696"/><stop offset="0.762" stop-color="#8d8d8d"/><stop offset="0.786" stop-color="#868686"/><stop offset="0.810" stop-color="#848484"/><stop offset="0.833" stop-color="#848484"/><stop offset="0.857" stop-color="#868686"/><stop offset="0.881" stop-color="#878787"/><stop offset="0.905" stop-color="#888888"/><stop offset="0.929" stop-color="#878787"/><stop offset="0.952" stop-color="#858585"/><stop offset="0.976" stop-color="#838383"/><stop offset="1.000" stop-color="#808080"/></linearGradient><linearGradient id="clipFr38" gradientUnits="userSpaceOnUse" x1="290.40" y1="0" x2="347.50" y2="0"><stop offset="0.000" stop-color="#757575"/><stop offset="0.024" stop-color="#6a6a6a"/><stop offset="0.048" stop-color="#616161"/><stop offset="0.071" stop-color="#5e5e5e"/><stop offset="0.095" stop-color="#5e5e5e"/><stop offset="0.119" stop-color="#5e5e5e"/><stop offset="0.143" stop-color="#5e5e5e"/><stop offset="0.167" stop-color="#5e5e5e"/><stop offset="0.190" stop-color="#5e5e5e"/><stop offset="0.214" stop-color="#5e5e5e"/><stop offset="0.238" stop-color="#5e5e5e"/><stop offset="0.262" stop-color="#5e5e5e"/><stop offset="0.286" stop-color="#606060"/><stop offset="0.310" stop-color="#646464"/><stop offset="0.333" stop-color="#696969"/><stop offset="0.357" stop-color="#6f6f6f"/><stop offset="0.381" stop-color="#747474"/><stop offset="0.405" stop-color="#797979"/><stop offset="0.429" stop-color="#7f7f7f"/><stop offset="0.452" stop-color="#8b8b8b"/><stop offset="0.476" stop-color="#959595"/><stop offset="0.500" stop-color="#949494"/><stop offset="0.524" stop-color="#868686"/><stop offset="0.548" stop-color="#737373"/><stop offset="0.571" stop-color="#626262"/><stop offset="0.595" stop-color="#575757"/><stop offset="0.619" stop-color="#525252"/><stop offset="0.643" stop-color="#515151"/><stop offset="0.667" stop-color="#575757"/><stop offset="0.690" stop-color="#616161"/><stop offset="0.714" stop-color="#6e6e6e"/><stop offset="0.738" stop-color="#797979"/><stop offset="0.762" stop-color="#818181"/><stop offset="0.786" stop-color="#858585"/><stop offset="0.810" stop-color="#878787"/><stop offset="0.833" stop-color="#878787"/><stop offset="0.857" stop-color="#888888"/><stop offset="0.881" stop-color="#888888"/><stop offset="0.905" stop-color="#888888"/><stop offset="0.929" stop-color="#888888"/><stop offset="0.952" stop-color="#878787"/><stop offset="0.976" stop-color="#878787"/><stop offset="1.000" stop-color="#878787"/></linearGradient><linearGradient id="clipFr39" gradientUnits="userSpaceOnUse" x1="290.40" y1="0" x2="347.50" y2="0"><stop offset="0.000" stop-color="#898989"/><stop offset="0.024" stop-color="#808080"/><stop offset="0.048" stop-color="#737373"/><stop offset="0.071" stop-color="#666666"/><stop offset="0.095" stop-color="#5f5f5f"/><stop offset="0.119" stop-color="#5e5e5e"/><stop offset="0.143" stop-color="#5e5e5e"/><stop offset="0.167" stop-color="#5e5e5e"/><stop offset="0.190" stop-color="#5e5e5e"/><stop offset="0.214" stop-color="#5e5e5e"/><stop offset="0.238" stop-color="#5e5e5e"/><stop offset="0.262" stop-color="#5e5e5e"/><stop offset="0.286" stop-color="#5e5e5e"/><stop offset="0.310" stop-color="#5e5e5e"/><stop offset="0.333" stop-color="#5e5e5e"/><stop offset="0.357" stop-color="#5e5e5e"/><stop offset="0.381" stop-color="#5e5e5e"/><stop offset="0.405" stop-color="#5e5e5e"/><stop offset="0.429" stop-color="#5e5e5e"/><stop offset="0.452" stop-color="#5d5d5d"/><stop offset="0.476" stop-color="#5b5b5b"/><stop offset="0.500" stop-color="#5a5a5a"/><stop offset="0.524" stop-color="#595959"/><stop offset="0.548" stop-color="#525252"/><stop offset="0.571" stop-color="#494949"/><stop offset="0.595" stop-color="#454545"/><stop offset="0.619" stop-color="#454545"/><stop offset="0.643" stop-color="#454545"/><stop offset="0.667" stop-color="#474747"/><stop offset="0.690" stop-color="#4e4e4e"/><stop offset="0.714" stop-color="#5a5a5a"/><stop offset="0.738" stop-color="#686868"/><stop offset="0.762" stop-color="#747474"/><stop offset="0.786" stop-color="#7b7b7b"/><stop offset="0.810" stop-color="#818181"/><stop offset="0.833" stop-color="#858585"/><stop offset="0.857" stop-color="#888888"/><stop offset="0.881" stop-color="#8b8b8b"/><stop offset="0.905" stop-color="#8e8e8e"/><stop offset="0.929" stop-color="#8f8f8f"/><stop offset="0.952" stop-color="#909090"/><stop offset="0.976" stop-color="#919191"/><stop offset="1.000" stop-color="#919191"/></linearGradient><linearGradient id="clipFr40" gradientUnits="userSpaceOnUse" x1="290.40" y1="0" x2="347.50" y2="0"><stop offset="0.000" stop-color="#878787"/><stop offset="0.024" stop-color="#878787"/><stop offset="0.048" stop-color="#868686"/><stop offset="0.071" stop-color="#858585"/><stop offset="0.095" stop-color="#828282"/><stop offset="0.119" stop-color="#7f7f7f"/><stop offset="0.143" stop-color="#7b7b7b"/><stop offset="0.167" stop-color="#767676"/><stop offset="0.190" stop-color="#717171"/><stop offset="0.214" stop-color="#6d6d6d"/><stop offset="0.238" stop-color="#6a6a6a"/><stop offset="0.262" stop-color="#696969"/><stop offset="0.286" stop-color="#686868"/><stop offset="0.310" stop-color="#686868"/><stop offset="0.333" stop-color="#6a6a6a"/><stop offset="0.357" stop-color="#6f6f6f"/><stop offset="0.381" stop-color="#767676"/><stop offset="0.405" stop-color="#828282"/><stop offset="0.429" stop-color="#939393"/><stop offset="0.452" stop-color="#a2a2a2"/><stop offset="0.476" stop-color="#acacac"/><stop offset="0.500" stop-color="#b1b1b1"/><stop offset="0.524" stop-color="#b5b5b5"/><stop offset="0.548" stop-color="#b6b6b6"/><stop offset="0.571" stop-color="#b7b7b7"/><stop offset="0.595" stop-color="#b7b7b7"/><stop offset="0.619" stop-color="#b7b7b7"/><stop offset="0.643" stop-color="#b0b0b0"/><stop offset="0.667" stop-color="#a3a3a3"/><stop offset="0.690" stop-color="#979797"/><stop offset="0.714" stop-color="#8f8f8f"/><stop offset="0.738" stop-color="#8a8a8a"/><stop offset="0.762" stop-color="#878787"/><stop offset="0.786" stop-color="#838383"/><stop offset="0.810" stop-color="#7f7f7f"/><stop offset="0.833" stop-color="#7a7a7a"/><stop offset="0.857" stop-color="#757575"/><stop offset="0.881" stop-color="#727272"/><stop offset="0.905" stop-color="#747474"/><stop offset="0.929" stop-color="#797979"/><stop offset="0.952" stop-color="#7e7e7e"/><stop offset="0.976" stop-color="#828282"/><stop offset="1.000" stop-color="#858585"/></linearGradient>
</defs>
<rect x="0" y="0" width="520" height="619" fill="#fff"/>
<text x="13.00" y="8.80" font-size="12.3" font-weight="bold" text-anchor="start" fill="#000" stroke="#000" stroke-width="0.5">A</text>
<text x="134.80" y="12.50" font-size="7.8" font-weight="bold" text-anchor="start" fill="#000" stroke="#000" stroke-width="0.2">dHL-60</text>
<g transform="translate(10,15) scale(0.11154)">
<g clip-path="url(#cellclip0)"><g filter="url(#amap)">
<rect x="100" y="20" width="360" height="420" fill="#303030"/>
<ellipse cx="300" cy="170" rx="27.5" ry="38.5" fill="#171717"/><ellipse cx="205" cy="295" rx="49.5" ry="60.5" fill="#171717"/><ellipse cx="365" cy="200" rx="24.2" ry="49.5" fill="#303030"/>
<ellipse cx="283" cy="120" rx="63.2" ry="20.2" fill="#474747"/><ellipse cx="268" cy="150" rx="22.8" ry="31.6" fill="#474747"/><ellipse cx="287" cy="245" rx="17.7" ry="69.6" fill="#474747"/><ellipse cx="250" cy="200" rx="22.0" ry="44.0" fill="#474747"/>
<ellipse cx="283" cy="120" rx="55.0" ry="17.6" fill="#5e5e5e"/><ellipse cx="268" cy="150" rx="19.8" ry="27.5" fill="#5e5e5e"/><ellipse cx="287" cy="245" rx="15.4" ry="60.5" fill="#5e5e5e"/>
<ellipse cx="280" cy="100" rx="55.0" ry="24.8" fill="#808080"/><ellipse cx="296" cy="338" rx="12.4" ry="12.4" fill="#808080"/>
<ellipse cx="277" cy="80" rx="32.7" ry="16.3" fill="#9e9e9e"/><ellipse cx="280" cy="100" rx="44.0" ry="19.8" fill="#9e9e9e"/><ellipse cx="296" cy="338" rx="9.9" ry="9.9" fill="#9e9e9e"/>
<ellipse cx="277" cy="80" rx="27.8" ry="13.9" fill="#bdbdbd"/>
<ellipse cx="277" cy="80" rx="24.2" ry="12.1" fill="#dbdbdb"/>
</g>
<line x1="170" y1="236" x2="312" y2="350" stroke="#fff" stroke-width="14"/>
</g>
</g>
<g transform="translate(66,15) scale(0.11154)">
<g clip-path="url(#cellclip1)"><g filter="url(#amap)">
<rect x="100" y="20" width="360" height="420" fill="#303030"/>
<ellipse cx="275" cy="120" rx="38.5" ry="49.5" fill="#171717"/><ellipse cx="205" cy="245" rx="27.5" ry="27.5" fill="#171717"/><ellipse cx="340" cy="250" rx="22.0" ry="22.0" fill="#303030"/>
<ellipse cx="300" cy="220" rx="44.3" ry="37.9" fill="#474747"/><ellipse cx="170" cy="300" rx="19.0" ry="31.6" fill="#474747"/><ellipse cx="262" cy="280" rx="31.6" ry="22.8" fill="#474747"/>
<ellipse cx="300" cy="220" rx="38.5" ry="33.0" fill="#5e5e5e"/><ellipse cx="225" cy="322" rx="52.8" ry="29.0" fill="#5e5e5e"/><ellipse cx="170" cy="300" rx="16.5" ry="27.5" fill="#5e5e5e"/><ellipse cx="262" cy="280" rx="27.5" ry="19.8" fill="#5e5e5e"/>
<ellipse cx="355" cy="160" rx="38.5" ry="38.5" fill="#808080"/><ellipse cx="225" cy="322" rx="44.0" ry="24.2" fill="#808080"/>
<ellipse cx="355" cy="160" rx="30.8" ry="30.8" fill="#9e9e9e"/><ellipse cx="290" cy="340" rx="16.3" ry="20.8" fill="#9e9e9e"/>
<ellipse cx="290" cy="340" rx="13.9" ry="17.7" fill="#bdbdbd"/>
<ellipse cx="290" cy="340" rx="12.1" ry="15.4" fill="#dbdbdb"/>
</g>
</g>
</g>
<g transform="translate(121,15) scale(0.11154)">
<g clip-path="url(#cellclip2)"><g filter="url(#amap)">
<rect x="100" y="20" width="360" height="420" fill="#303030"/>
<ellipse cx="290" cy="135" rx="33.0" ry="49.5" fill="#171717"/><ellipse cx="205" cy="255" rx="22.0" ry="22.0" fill="#171717"/>
<ellipse cx="350" cy="175" rx="17.7" ry="56.9" fill="#474747" transform="rotate(20 350 175)"/><ellipse cx="262" cy="268" rx="35.4" ry="50.6" fill="#474747"/><ellipse cx="230" cy="372" rx="37.9" ry="15.2" fill="#474747"/>
<ellipse cx="350" cy="175" rx="15.4" ry="49.5" fill="#5e5e5e" transform="rotate(20 350 175)"/><ellipse cx="262" cy="268" rx="30.8" ry="44.0" fill="#5e5e5e"/><ellipse cx="240" cy="310" rx="23.8" ry="33.0" fill="#5e5e5e"/><ellipse cx="230" cy="372" rx="33.0" ry="13.2" fill="#5e5e5e"/>
<ellipse cx="208" cy="330" rx="30.2" ry="44.0" fill="#808080"/><ellipse cx="240" cy="310" rx="19.8" ry="27.5" fill="#808080"/>
<ellipse cx="208" cy="330" rx="24.2" ry="35.2" fill="#9e9e9e"/>
</g>
</g>
</g>
<g transform="translate(176,15) scale(0.11154)">
<g clip-path="url(#cellclip3)"><g filter="url(#amap)">
<rect x="100" y="20" width="360" height="420" fill="#303030"/>
<ellipse cx="290" cy="140" rx="38.5" ry="55.0" fill="#171717"/><ellipse cx="195" cy="282" rx="17.6" ry="30.8" fill="#171717"/><ellipse cx="365" cy="248" rx="15.4" ry="26.4" fill="#171717"/>
<ellipse cx="340" cy="205" rx="20.2" ry="88.5" fill="#474747" transform="rotate(35 340 205)"/><ellipse cx="262" cy="292" rx="17.7" ry="69.6" fill="#474747" transform="rotate(35 262 292)"/><ellipse cx="228" cy="322" rx="14.3" ry="30.8" fill="#474747"/>
<ellipse cx="340" cy="205" rx="17.6" ry="77.0" fill="#5e5e5e" transform="rotate(35 340 205)"/><ellipse cx="262" cy="292" rx="15.4" ry="60.5" fill="#5e5e5e" transform="rotate(35 262 292)"/><ellipse cx="385" cy="165" rx="29.0" ry="46.2" fill="#5e5e5e"/>
<ellipse cx="385" cy="165" rx="24.2" ry="38.5" fill="#808080"/>
<ellipse cx="402" cy="160" rx="11.4" ry="14.3" fill="#9e9e9e"/><ellipse cx="211" cy="357" rx="14.9" ry="20.8" fill="#9e9e9e"/><ellipse cx="300" cy="350" rx="14.9" ry="14.9" fill="#9e9e9e"/>
<ellipse cx="402" cy="160" rx="8.8" ry="11.0" fill="#bdbdbd"/><ellipse cx="211" cy="357" rx="12.6" ry="17.7" fill="#bdbdbd"/><ellipse cx="300" cy="350" rx="12.6" ry="12.6" fill="#bdbdbd"/>
<ellipse cx="211" cy="357" rx="11.0" ry="15.4" fill="#dbdbdb"/><ellipse cx="300" cy="350" rx="11.0" ry="11.0" fill="#dbdbdb"/>
</g>
</g>
</g>
<g transform="translate(231,15) scale(0.11154)">
<g clip-path="url(#cellclip4)"><g filter="url(#amap)">
<rect x="100" y="20" width="360" height="420" fill="#303030"/>
<ellipse cx="318" cy="163" rx="24.2" ry="52.8" fill="#171717"/><ellipse cx="400" cy="185" rx="19.8" ry="52.8" fill="#171717"/><ellipse cx="218" cy="336" rx="24.2" ry="39.6" fill="#171717"/>
<ellipse cx="352" cy="176" rx="15.2" ry="65.8" fill="#474747" transform="rotate(15 352 176)"/><ellipse cx="256" cy="340" rx="10.1" ry="35.4" fill="#474747" transform="rotate(30 256 340)"/>
<ellipse cx="265" cy="130" rx="26.4" ry="76.6" fill="#5e5e5e"/><ellipse cx="352" cy="176" rx="13.2" ry="57.2" fill="#5e5e5e" transform="rotate(15 352 176)"/><ellipse cx="215" cy="268" rx="46.2" ry="31.7" fill="#5e5e5e"/><ellipse cx="256" cy="340" rx="8.8" ry="30.8" fill="#5e5e5e" transform="rotate(30 256 340)"/>
<ellipse cx="265" cy="130" rx="22.0" ry="63.8" fill="#808080"/><ellipse cx="215" cy="268" rx="38.5" ry="26.4" fill="#808080"/><ellipse cx="248" cy="248" rx="63.2" ry="37.1" fill="#808080" transform="rotate(-35 248 248)"/><ellipse cx="298" cy="340" rx="22.0" ry="22.0" fill="#808080"/>
<ellipse cx="248" cy="248" rx="50.6" ry="29.7" fill="#9e9e9e" transform="rotate(-35 248 248)"/><ellipse cx="312" cy="290" rx="32.7" ry="56.4" fill="#9e9e9e" transform="rotate(-30 312 290)"/><ellipse cx="298" cy="340" rx="17.6" ry="17.6" fill="#9e9e9e"/>
<ellipse cx="312" cy="290" rx="27.8" ry="48.1" fill="#bdbdbd" transform="rotate(-30 312 290)"/>
<ellipse cx="312" cy="290" rx="24.2" ry="41.8" fill="#dbdbdb" transform="rotate(-30 312 290)"/>
</g>
</g>
</g>
<g transform="translate(10,73) scale(0.11154)">
<g clip-path="url(#cellclip5)"><g filter="url(#amap)">
<rect x="100" y="20" width="360" height="420" fill="#303030"/>
<ellipse cx="285" cy="200" rx="44.0" ry="55.0" fill="#171717"/><ellipse cx="380" cy="200" rx="24.2" ry="49.5" fill="#171717"/><ellipse cx="185" cy="335" rx="19.8" ry="30.8" fill="#171717"/>
<ellipse cx="280" cy="135" rx="50.6" ry="15.2" fill="#474747"/><ellipse cx="340" cy="200" rx="15.2" ry="75.9" fill="#474747"/><ellipse cx="230" cy="385" rx="38.5" ry="16.5" fill="#474747"/>
<ellipse cx="275" cy="120" rx="46.2" ry="19.8" fill="#5e5e5e"/><ellipse cx="280" cy="135" rx="44.0" ry="13.2" fill="#5e5e5e"/><ellipse cx="340" cy="200" rx="13.2" ry="66.0" fill="#5e5e5e"/>
<ellipse cx="275" cy="120" rx="38.5" ry="16.5" fill="#808080"/>
<ellipse cx="272" cy="96" rx="38.6" ry="19.3" fill="#9e9e9e"/><ellipse cx="258" cy="298" rx="59.4" ry="53.5" fill="#9e9e9e"/>
<ellipse cx="272" cy="96" rx="32.9" ry="16.4" fill="#bdbdbd"/><ellipse cx="258" cy="298" rx="50.6" ry="45.5" fill="#bdbdbd"/>
<ellipse cx="272" cy="96" rx="28.6" ry="14.3" fill="#dbdbdb"/><ellipse cx="258" cy="298" rx="44.0" ry="39.6" fill="#dbdbdb"/><ellipse cx="252" cy="305" rx="27.5" ry="27.5" fill="#dbdbdb"/>
<ellipse cx="252" cy="305" rx="22.0" ry="22.0" fill="#f7f7f7"/>
</g>
</g>
</g>
<g transform="translate(66,73) scale(0.11154)">
<g clip-path="url(#cellclip6)"><g filter="url(#amap)">
<rect x="100" y="20" width="360" height="420" fill="#474747"/>
<ellipse cx="265" cy="130" rx="44.0" ry="71.5" fill="#171717"/><ellipse cx="370" cy="185" rx="33.0" ry="49.5" fill="#171717"/><ellipse cx="188" cy="310" rx="30.8" ry="33.0" fill="#171717"/>
<ellipse cx="270" cy="270" rx="75.9" ry="69.6" fill="#474747"/><ellipse cx="230" cy="370" rx="44.3" ry="19.0" fill="#474747"/>
<ellipse cx="320" cy="120" rx="15.8" ry="33.0" fill="#5e5e5e"/><ellipse cx="270" cy="270" rx="66.0" ry="60.5" fill="#5e5e5e"/><ellipse cx="250" cy="285" rx="26.4" ry="26.4" fill="#5e5e5e"/><ellipse cx="230" cy="370" rx="38.5" ry="16.5" fill="#5e5e5e"/>
<ellipse cx="320" cy="120" rx="13.2" ry="27.5" fill="#808080"/><ellipse cx="250" cy="285" rx="22.0" ry="22.0" fill="#808080"/><ellipse cx="285" cy="350" rx="13.8" ry="11.0" fill="#808080"/>
<ellipse cx="318" cy="245" rx="19.3" ry="34.2" fill="#9e9e9e"/><ellipse cx="215" cy="235" rx="20.8" ry="17.8" fill="#9e9e9e"/><ellipse cx="285" cy="350" rx="11.0" ry="8.8" fill="#9e9e9e"/>
<ellipse cx="318" cy="245" rx="16.4" ry="29.1" fill="#bdbdbd"/><ellipse cx="215" cy="235" rx="17.7" ry="15.2" fill="#bdbdbd"/>
<ellipse cx="318" cy="245" rx="14.3" ry="25.3" fill="#dbdbdb"/><ellipse cx="215" cy="235" rx="15.4" ry="13.2" fill="#dbdbdb"/>
</g>
</g>
</g>
<g transform="translate(121,73) scale(0.11154)">
<g clip-path="url(#cellclip7)"><g filter="url(#amap)">
<rect x="100" y="20" width="360" height="420" fill="#303030"/>
<ellipse cx="195" cy="300" rx="38.5" ry="55.0" fill="#171717"/><ellipse cx="265" cy="110" rx="33.0" ry="44.0" fill="#171717"/>
<ellipse cx="330" cy="130" rx="15.2" ry="25.3" fill="#474747"/><ellipse cx="275" cy="235" rx="27.8" ry="63.2" fill="#474747" transform="rotate(20 275 235)"/><ellipse cx="255" cy="310" rx="22.8" ry="50.6" fill="#474747" transform="rotate(20 255 310)"/>
<ellipse cx="330" cy="130" rx="13.2" ry="22.0" fill="#5e5e5e"/><ellipse cx="275" cy="235" rx="24.2" ry="55.0" fill="#5e5e5e" transform="rotate(20 275 235)"/><ellipse cx="255" cy="310" rx="19.8" ry="44.0" fill="#5e5e5e" transform="rotate(20 255 310)"/><ellipse cx="265" cy="300" rx="13.2" ry="19.8" fill="#5e5e5e"/>
<ellipse cx="345" cy="185" rx="20.6" ry="27.5" fill="#808080"/><ellipse cx="265" cy="300" rx="11.0" ry="16.5" fill="#808080"/>
<ellipse cx="385" cy="160" rx="41.6" ry="41.6" fill="#9e9e9e"/><ellipse cx="345" cy="185" rx="16.5" ry="22.0" fill="#9e9e9e"/><ellipse cx="295" cy="342" rx="14.3" ry="14.3" fill="#9e9e9e"/>
<ellipse cx="385" cy="160" rx="35.4" ry="35.4" fill="#bdbdbd"/><ellipse cx="295" cy="342" rx="11.0" ry="11.0" fill="#bdbdbd"/>
<ellipse cx="385" cy="160" rx="30.8" ry="30.8" fill="#dbdbdb"/>
</g>
</g>
</g>
<g transform="translate(176,73) scale(0.11154)">
<g clip-path="url(#cellclip8)"><g filter="url(#amap)">
<rect x="100" y="20" width="360" height="420" fill="#303030"/>
<ellipse cx="292" cy="168" rx="33.0" ry="49.5" fill="#171717"/><ellipse cx="380" cy="228" rx="22.0" ry="35.2" fill="#171717"/><ellipse cx="185" cy="300" rx="24.2" ry="41.8" fill="#171717"/>
<ellipse cx="262" cy="100" rx="37.9" ry="22.8" fill="#474747"/><ellipse cx="225" cy="250" rx="31.6" ry="25.3" fill="#474747"/><ellipse cx="230" cy="375" rx="37.9" ry="15.2" fill="#474747"/>
<ellipse cx="262" cy="100" rx="33.0" ry="19.8" fill="#5e5e5e"/><ellipse cx="375" cy="158" rx="39.6" ry="39.6" fill="#5e5e5e"/><ellipse cx="225" cy="250" rx="27.5" ry="22.0" fill="#5e5e5e"/><ellipse cx="230" cy="375" rx="33.0" ry="13.2" fill="#5e5e5e"/>
<ellipse cx="375" cy="158" rx="33.0" ry="33.0" fill="#808080"/><ellipse cx="370" cy="150" rx="20.6" ry="20.6" fill="#808080"/><ellipse cx="305" cy="275" rx="27.5" ry="34.4" fill="#808080"/><ellipse cx="250" cy="340" rx="34.4" ry="34.4" fill="#808080"/>
<ellipse cx="280" cy="70" rx="17.8" ry="11.9" fill="#9e9e9e"/><ellipse cx="370" cy="150" rx="16.5" ry="16.5" fill="#9e9e9e"/><ellipse cx="320" cy="248" rx="16.3" ry="41.6" fill="#9e9e9e" transform="rotate(20 320 248)"/><ellipse cx="305" cy="275" rx="22.0" ry="27.5" fill="#9e9e9e"/><ellipse cx="250" cy="340" rx="27.5" ry="27.5" fill="#9e9e9e"/>
<ellipse cx="280" cy="70" rx="15.2" ry="10.1" fill="#bdbdbd"/><ellipse cx="320" cy="248" rx="13.9" ry="35.4" fill="#bdbdbd" transform="rotate(20 320 248)"/>
<ellipse cx="280" cy="70" rx="13.2" ry="8.8" fill="#dbdbdb"/><ellipse cx="320" cy="248" rx="12.1" ry="30.8" fill="#dbdbdb" transform="rotate(20 320 248)"/>
</g>
</g>
</g>
<g transform="translate(231,73) scale(0.11154)">
<g clip-path="url(#cellclip9)"><g filter="url(#amap)">
<rect x="100" y="20" width="360" height="420" fill="#5e5e5e"/>
<ellipse cx="352" cy="165" rx="24.2" ry="96.8" fill="#171717" transform="rotate(-30 352 165)"/><ellipse cx="262" cy="300" rx="15.4" ry="22.0" fill="#303030"/>
<ellipse cx="345" cy="130" rx="12.6" ry="25.3" fill="#474747"/><ellipse cx="225" cy="360" rx="37.9" ry="22.8" fill="#474747"/>
<ellipse cx="265" cy="85" rx="39.6" ry="26.4" fill="#5e5e5e"/><ellipse cx="345" cy="130" rx="11.0" ry="22.0" fill="#5e5e5e"/><ellipse cx="185" cy="315" rx="26.4" ry="26.4" fill="#5e5e5e"/><ellipse cx="225" cy="360" rx="33.0" ry="19.8" fill="#5e5e5e"/>
<ellipse cx="265" cy="85" rx="33.0" ry="22.0" fill="#808080"/><ellipse cx="335" cy="240" rx="24.8" ry="61.9" fill="#808080"/><ellipse cx="185" cy="315" rx="22.0" ry="22.0" fill="#808080"/><ellipse cx="300" cy="300" rx="27.5" ry="27.5" fill="#808080"/>
<ellipse cx="335" cy="240" rx="19.8" ry="49.5" fill="#9e9e9e"/><ellipse cx="245" cy="235" rx="106.9" ry="53.5" fill="#9e9e9e" transform="rotate(-40 245 235)"/><ellipse cx="290" cy="195" rx="37.1" ry="37.1" fill="#9e9e9e"/><ellipse cx="300" cy="300" rx="22.0" ry="22.0" fill="#9e9e9e"/>
<ellipse cx="245" cy="235" rx="91.1" ry="45.5" fill="#bdbdbd" transform="rotate(-40 245 235)"/><ellipse cx="290" cy="195" rx="31.6" ry="31.6" fill="#bdbdbd"/>
<ellipse cx="245" cy="235" rx="79.2" ry="39.6" fill="#dbdbdb" transform="rotate(-40 245 235)"/><ellipse cx="220" cy="250" rx="55.0" ry="24.8" fill="#dbdbdb" transform="rotate(-40 220 250)"/><ellipse cx="290" cy="195" rx="27.5" ry="27.5" fill="#dbdbdb"/>
<ellipse cx="220" cy="250" rx="44.0" ry="19.8" fill="#f7f7f7" transform="rotate(-40 220 250)"/>
</g>
</g>
</g>
<rect x="12.00" y="17.35" width="53.30" height="55.85" fill="none" stroke="#000" stroke-width="1.25"/>
<text x="15.50" y="70.60" font-size="5.3" font-weight="bold" text-anchor="start" fill="#000" stroke="#000" stroke-width="0.25">65.6 s</text>
<rect x="67.80" y="17.35" width="53.00" height="55.85" fill="none" stroke="#000" stroke-width="1.25"/>
<text x="71.30" y="70.60" font-size="5.3" font-weight="bold" text-anchor="start" fill="#000" stroke="#000" stroke-width="0.25">66.4 s</text>
<rect x="123.20" y="17.35" width="53.30" height="55.85" fill="none" stroke="#000" stroke-width="1.25"/>
<text x="126.70" y="70.60" font-size="5.3" font-weight="bold" text-anchor="start" fill="#000" stroke="#000" stroke-width="0.25">67.2 s</text>
<rect x="178.60" y="17.35" width="53.40" height="55.85" fill="none" stroke="#000" stroke-width="1.25"/>
<text x="182.10" y="70.60" font-size="5.3" font-weight="bold" text-anchor="start" fill="#000" stroke="#000" stroke-width="0.25">68.0 s</text>
<rect x="234.80" y="17.35" width="53.20" height="55.85" fill="none" stroke="#000" stroke-width="1.25"/>
<text x="238.30" y="70.60" font-size="5.3" font-weight="bold" text-anchor="start" fill="#000" stroke="#000" stroke-width="0.25">68.8 s</text>
<rect x="12.00" y="76.20" width="53.30" height="56.00" fill="none" stroke="#000" stroke-width="1.25"/>
<text x="15.50" y="128.70" font-size="5.3" font-weight="bold" text-anchor="start" fill="#000" stroke="#000" stroke-width="0.25">69.6 s</text>
<rect x="67.80" y="76.20" width="53.00" height="56.00" fill="none" stroke="#000" stroke-width="1.25"/>
<text x="71.30" y="128.70" font-size="5.3" font-weight="bold" text-anchor="start" fill="#000" stroke="#000" stroke-width="0.25">70.4 s</text>
<rect x="123.20" y="76.20" width="53.30" height="56.00" fill="none" stroke="#000" stroke-width="1.25"/>
<text x="126.70" y="128.70" font-size="5.3" font-weight="bold" text-anchor="start" fill="#000" stroke="#000" stroke-width="0.25">71.2 s</text>
<rect x="178.60" y="76.20" width="53.40" height="56.00" fill="none" stroke="#000" stroke-width="1.25"/>
<text x="182.10" y="128.70" font-size="5.3" font-weight="bold" text-anchor="start" fill="#000" stroke="#000" stroke-width="0.25">72.0 s</text>
<rect x="234.80" y="76.20" width="53.20" height="56.00" fill="none" stroke="#000" stroke-width="1.25"/>
<text x="238.30" y="128.70" font-size="5.3" font-weight="bold" text-anchor="start" fill="#000" stroke="#000" stroke-width="0.25">72.8 s</text>
<line x1="14.20" y1="53.50" x2="21.00" y2="53.50" stroke="#000" stroke-width="1.8" stroke-linecap="butt"/>
<path d="M20.0,51.2 L23.6,53.5 L20.0,55.8 Z" fill="#000"/>
<rect x="268.30" y="126.60" width="15.70" height="2.00" fill="#000"/>
<rect x="296.20" y="39.20" width="4.90" height="74.00" fill="url(#acb)"/>
<text x="303.60" y="33.20" font-size="6.3" font-weight="normal" text-anchor="start" fill="#333" stroke="#333" stroke-width="0.14">Pa</text>
<text x="303.60" y="42.70" font-size="5.5" font-weight="normal" text-anchor="start" fill="#555" stroke="#555" stroke-width="0.1">600</text>
<text x="303.60" y="54.63" font-size="5.5" font-weight="normal" text-anchor="start" fill="#555" stroke="#555" stroke-width="0.1">500</text>
<text x="303.60" y="66.56" font-size="5.5" font-weight="normal" text-anchor="start" fill="#555" stroke="#555" stroke-width="0.1">400</text>
<text x="303.60" y="78.49" font-size="5.5" font-weight="normal" text-anchor="start" fill="#555" stroke="#555" stroke-width="0.1">300</text>
<text x="303.60" y="90.42" font-size="5.5" font-weight="normal" text-anchor="start" fill="#555" stroke="#555" stroke-width="0.1">200</text>
<text x="303.60" y="102.35" font-size="5.5" font-weight="normal" text-anchor="start" fill="#555" stroke="#555" stroke-width="0.1">100</text>
<text x="306.90" y="114.28" font-size="5.5" font-weight="normal" text-anchor="start" fill="#555" stroke="#555" stroke-width="0.1">0</text>
<text x="328.60" y="10.70" font-size="12.5" font-weight="bold" text-anchor="start" fill="#000" stroke="#000" stroke-width="0.45">B</text>
<text x="423.80" y="24.00" font-size="7.8" font-weight="bold" text-anchor="start" fill="#000" stroke="#000" stroke-width="0.14">dHL-60</text>
<rect x="358.40" y="27.50" width="156.20" height="86.90" fill="none" stroke="#8a8a8a" stroke-width="0.9"/>
<line x1="358.40" y1="27.50" x2="358.40" y2="114.90" stroke="#555" stroke-width="1.1" stroke-linecap="butt"/>
<line x1="357.90" y1="114.40" x2="514.60" y2="114.40" stroke="#555" stroke-width="1.1" stroke-linecap="butt"/>
<line x1="356.40" y1="114.40" x2="358.40" y2="114.40" stroke="#555" stroke-width="0.8" stroke-linecap="butt"/>
<text x="355.60" y="116.50" font-size="5.9" font-weight="bold" text-anchor="end" fill="#222" stroke="#222" stroke-width="0.14">0</text>
<line x1="356.40" y1="104.75" x2="358.40" y2="104.75" stroke="#555" stroke-width="0.8" stroke-linecap="butt"/>
<text x="355.60" y="106.85" font-size="5.9" font-weight="bold" text-anchor="end" fill="#222" stroke="#222" stroke-width="0.14">50</text>
<line x1="356.40" y1="95.10" x2="358.40" y2="95.10" stroke="#555" stroke-width="0.8" stroke-linecap="butt"/>
<text x="355.60" y="97.20" font-size="5.9" font-weight="bold" text-anchor="end" fill="#222" stroke="#222" stroke-width="0.14">100</text>
<line x1="356.40" y1="85.45" x2="358.40" y2="85.45" stroke="#555" stroke-width="0.8" stroke-linecap="butt"/>
<text x="355.60" y="87.55" font-size="5.9" font-weight="bold" text-anchor="end" fill="#222" stroke="#222" stroke-width="0.14">150</text>
<line x1="356.40" y1="75.80" x2="358.40" y2="75.80" stroke="#555" stroke-width="0.8" stroke-linecap="butt"/>
<text x="355.60" y="77.90" font-size="5.9" font-weight="bold" text-anchor="end" fill="#222" stroke="#222" stroke-width="0.14">200</text>
<line x1="356.40" y1="66.15" x2="358.40" y2="66.15" stroke="#555" stroke-width="0.8" stroke-linecap="butt"/>
<text x="355.60" y="68.25" font-size="5.9" font-weight="bold" text-anchor="end" fill="#222" stroke="#222" stroke-width="0.14">250</text>
<line x1="356.40" y1="56.50" x2="358.40" y2="56.50" stroke="#555" stroke-width="0.8" stroke-linecap="butt"/>
<text x="355.60" y="58.60" font-size="5.9" font-weight="bold" text-anchor="end" fill="#222" stroke="#222" stroke-width="0.14">300</text>
<line x1="356.40" y1="46.85" x2="358.40" y2="46.85" stroke="#555" stroke-width="0.8" stroke-linecap="butt"/>
<text x="355.60" y="48.95" font-size="5.9" font-weight="bold" text-anchor="end" fill="#222" stroke="#222" stroke-width="0.14">350</text>
<line x1="356.40" y1="37.20" x2="358.40" y2="37.20" stroke="#555" stroke-width="0.8" stroke-linecap="butt"/>
<text x="355.60" y="39.30" font-size="5.9" font-weight="bold" text-anchor="end" fill="#222" stroke="#222" stroke-width="0.14">400</text>
<line x1="356.40" y1="27.55" x2="358.40" y2="27.55" stroke="#555" stroke-width="0.8" stroke-linecap="butt"/>
<text x="355.60" y="29.65" font-size="5.9" font-weight="bold" text-anchor="end" fill="#222" stroke="#222" stroke-width="0.14">450</text>
<line x1="358.40" y1="114.40" x2="358.40" y2="116.40" stroke="#555" stroke-width="0.8" stroke-linecap="butt"/>
<text x="359.10" y="125.60" font-size="6.0" font-weight="bold" text-anchor="middle" fill="#222" stroke="#222" stroke-width="0.14">64</text>
<line x1="384.40" y1="114.40" x2="384.40" y2="116.40" stroke="#555" stroke-width="0.8" stroke-linecap="butt"/>
<text x="385.10" y="125.60" font-size="6.0" font-weight="bold" text-anchor="middle" fill="#222" stroke="#222" stroke-width="0.14">66</text>
<line x1="410.40" y1="114.40" x2="410.40" y2="116.40" stroke="#555" stroke-width="0.8" stroke-linecap="butt"/>
<text x="411.10" y="125.60" font-size="6.0" font-weight="bold" text-anchor="middle" fill="#222" stroke="#222" stroke-width="0.14">68</text>
<line x1="436.40" y1="114.40" x2="436.40" y2="116.40" stroke="#555" stroke-width="0.8" stroke-linecap="butt"/>
<text x="437.10" y="125.60" font-size="6.0" font-weight="bold" text-anchor="middle" fill="#222" stroke="#222" stroke-width="0.14">70</text>
<line x1="462.40" y1="114.40" x2="462.40" y2="116.40" stroke="#555" stroke-width="0.8" stroke-linecap="butt"/>
<text x="463.10" y="125.60" font-size="6.0" font-weight="bold" text-anchor="middle" fill="#222" stroke="#222" stroke-width="0.14">72</text>
<line x1="488.40" y1="114.40" x2="488.40" y2="116.40" stroke="#555" stroke-width="0.8" stroke-linecap="butt"/>
<text x="489.10" y="125.60" font-size="6.0" font-weight="bold" text-anchor="middle" fill="#222" stroke="#222" stroke-width="0.14">74</text>
<line x1="514.40" y1="114.40" x2="514.40" y2="116.40" stroke="#555" stroke-width="0.8" stroke-linecap="butt"/>
<text x="515.10" y="125.60" font-size="6.0" font-weight="bold" text-anchor="middle" fill="#222" stroke="#222" stroke-width="0.14">76</text>
<text x="441.80" y="138.90" font-size="8.6" font-weight="bold" text-anchor="middle" fill="#111" stroke="#111" stroke-width="0.14">Time (s)</text>
<text x="338.20" y="74.50" font-size="8.75" font-weight="bold" text-anchor="middle" fill="#111" transform="rotate(-90 338.20 74.50)" stroke="#111" stroke-width="0.14">Traction (Pa)</text>
<path d="M378.80,72.40 C380.55,72.55 385.87,72.67 389.30,73.30 C392.73,73.93 395.97,76.30 399.40,76.20 C402.83,76.10 406.35,74.92 409.90,72.70 C413.45,70.48 417.15,63.63 420.70,62.90 C424.25,62.17 427.70,67.47 431.20,68.30 C434.70,69.13 438.27,67.53 441.70,67.90 C445.13,68.27 448.27,71.18 451.80,70.50 C455.33,69.82 459.30,66.23 462.90,63.80 C466.50,61.37 469.80,58.55 473.40,55.90 C477.00,53.25 480.95,44.88 484.50,47.90 C488.05,50.92 491.32,71.62 494.70,74.00 C498.08,76.38 503.12,64.17 504.80,62.20" fill="none" stroke="#e62ee6" stroke-width="1.5"/>
<rect x="377.60" y="71.20" width="2.40" height="2.40" fill="#e62ee6"/>
<rect x="388.10" y="72.10" width="2.40" height="2.40" fill="#e62ee6"/>
<rect x="398.20" y="75.00" width="2.40" height="2.40" fill="#e62ee6"/>
<rect x="408.70" y="71.50" width="2.40" height="2.40" fill="#e62ee6"/>
<rect x="419.50" y="61.70" width="2.40" height="2.40" fill="#e62ee6"/>
<rect x="430.00" y="67.10" width="2.40" height="2.40" fill="#e62ee6"/>
<rect x="440.50" y="66.70" width="2.40" height="2.40" fill="#e62ee6"/>
<rect x="450.60" y="69.30" width="2.40" height="2.40" fill="#e62ee6"/>
<rect x="461.70" y="62.60" width="2.40" height="2.40" fill="#e62ee6"/>
<rect x="472.20" y="54.70" width="2.40" height="2.40" fill="#e62ee6"/>
<rect x="483.30" y="46.70" width="2.40" height="2.40" fill="#e62ee6"/>
<rect x="493.50" y="72.80" width="2.40" height="2.40" fill="#e62ee6"/>
<rect x="503.60" y="61.00" width="2.40" height="2.40" fill="#e62ee6"/>
<path d="M378.80,87.60 C380.55,85.85 385.87,80.80 389.30,77.10 C392.73,73.40 395.97,67.72 399.40,65.40 C402.83,63.08 406.35,62.52 409.90,63.20 C413.45,63.88 417.15,68.60 420.70,69.50 C424.25,70.40 427.70,67.48 431.20,68.60 C434.70,69.72 438.27,73.30 441.70,76.20 C445.13,79.10 448.27,84.95 451.80,86.00 C455.33,87.05 459.30,90.22 462.90,82.50 C466.50,74.78 469.80,44.83 473.40,39.70 C477.00,34.57 480.95,45.88 484.50,51.70 C488.05,57.52 491.32,70.37 494.70,74.60 C498.08,78.83 503.12,76.68 504.80,77.10" fill="none" stroke="#1c1c74" stroke-width="1.5"/>
<circle cx="378.80" cy="87.60" r="1.3" fill="#1c1c74"/>
<circle cx="389.30" cy="77.10" r="1.3" fill="#1c1c74"/>
<circle cx="399.40" cy="65.40" r="1.3" fill="#1c1c74"/>
<circle cx="409.90" cy="63.20" r="1.3" fill="#1c1c74"/>
<circle cx="420.70" cy="69.50" r="1.3" fill="#1c1c74"/>
<circle cx="431.20" cy="68.60" r="1.3" fill="#1c1c74"/>
<circle cx="441.70" cy="76.20" r="1.3" fill="#1c1c74"/>
<circle cx="451.80" cy="86.00" r="1.3" fill="#1c1c74"/>
<circle cx="462.90" cy="82.50" r="1.3" fill="#1c1c74"/>
<circle cx="473.40" cy="39.70" r="1.3" fill="#1c1c74"/>
<circle cx="484.50" cy="51.70" r="1.3" fill="#1c1c74"/>
<circle cx="494.70" cy="74.60" r="1.3" fill="#1c1c74"/>
<circle cx="504.80" cy="77.10" r="1.3" fill="#1c1c74"/>
<circle cx="368.8" cy="33.0" r="1.4" fill="#1c1c74"/>
<line x1="372.50" y1="33.00" x2="384.30" y2="33.00" stroke="#1c1c74" stroke-width="1.3" stroke-linecap="butt"/>
<text x="385.00" y="35.30" font-size="6.2" font-weight="bold" text-anchor="start" fill="#111" stroke="#111" stroke-width="0.14">Front</text>
<rect x="367.60" y="42.10" width="2.40" height="2.40" fill="#e62ee6"/>
<line x1="372.50" y1="43.30" x2="384.30" y2="43.30" stroke="#e62ee6" stroke-width="1.3" stroke-linecap="butt"/>
<text x="385.00" y="45.60" font-size="6.2" font-weight="bold" text-anchor="start" fill="#111" stroke="#111" stroke-width="0.14">Back</text>
<text x="46.60" y="170.20" font-size="12.5" font-weight="bold" text-anchor="start" fill="#000" stroke="#000" stroke-width="0.45">C</text>
<text x="48.30" y="310.20" font-size="12.5" font-weight="bold" text-anchor="start" fill="#000" stroke="#000" stroke-width="0.45">D</text>
<line x1="98.30" y1="170.10" x2="98.30" y2="258.50" stroke="#000" stroke-width="1.6" stroke-linecap="butt"/>
<line x1="97.50" y1="257.70" x2="233.00" y2="257.70" stroke="#000" stroke-width="1.6" stroke-linecap="butt"/>
<line x1="96.30" y1="257.70" x2="98.30" y2="257.70" stroke="#000" stroke-width="0.9" stroke-linecap="butt"/>
<text x="96.50" y="259.70" font-size="5.9" font-weight="bold" text-anchor="end" fill="#111" stroke="#111" stroke-width="0.14">0</text>
<line x1="96.30" y1="240.18" x2="98.30" y2="240.18" stroke="#000" stroke-width="0.9" stroke-linecap="butt"/>
<text x="96.50" y="242.18" font-size="5.9" font-weight="bold" text-anchor="end" fill="#111" stroke="#111" stroke-width="0.14">0.2</text>
<line x1="96.30" y1="222.66" x2="98.30" y2="222.66" stroke="#000" stroke-width="0.9" stroke-linecap="butt"/>
<text x="96.50" y="224.66" font-size="5.9" font-weight="bold" text-anchor="end" fill="#111" stroke="#111" stroke-width="0.14">0.4</text>
<line x1="96.30" y1="205.14" x2="98.30" y2="205.14" stroke="#000" stroke-width="0.9" stroke-linecap="butt"/>
<text x="96.50" y="207.14" font-size="5.9" font-weight="bold" text-anchor="end" fill="#111" stroke="#111" stroke-width="0.14">0.6</text>
<line x1="96.30" y1="187.62" x2="98.30" y2="187.62" stroke="#000" stroke-width="0.9" stroke-linecap="butt"/>
<text x="96.50" y="189.62" font-size="5.9" font-weight="bold" text-anchor="end" fill="#111" stroke="#111" stroke-width="0.14">0.8</text>
<line x1="96.30" y1="170.10" x2="98.30" y2="170.10" stroke="#000" stroke-width="0.9" stroke-linecap="butt"/>
<text x="96.50" y="172.10" font-size="5.9" font-weight="bold" text-anchor="end" fill="#111" stroke="#111" stroke-width="0.14">1.0</text>
<line x1="98.30" y1="257.70" x2="98.30" y2="259.50" stroke="#000" stroke-width="0.9" stroke-linecap="butt"/>
<text x="98.30" y="267.60" font-size="5.9" font-weight="bold" text-anchor="middle" fill="#111" stroke="#111" stroke-width="0.14">0</text>
<line x1="120.75" y1="257.70" x2="120.75" y2="259.50" stroke="#000" stroke-width="0.9" stroke-linecap="butt"/>
<text x="120.75" y="267.60" font-size="5.9" font-weight="bold" text-anchor="middle" fill="#111" stroke="#111" stroke-width="0.14">0.1</text>
<line x1="143.20" y1="257.70" x2="143.20" y2="259.50" stroke="#000" stroke-width="0.9" stroke-linecap="butt"/>
<text x="143.20" y="267.60" font-size="5.9" font-weight="bold" text-anchor="middle" fill="#111" stroke="#111" stroke-width="0.14">0.2</text>
<line x1="165.65" y1="257.70" x2="165.65" y2="259.50" stroke="#000" stroke-width="0.9" stroke-linecap="butt"/>
<text x="165.65" y="267.60" font-size="5.9" font-weight="bold" text-anchor="middle" fill="#111" stroke="#111" stroke-width="0.14">0.3</text>
<line x1="188.10" y1="257.70" x2="188.10" y2="259.50" stroke="#000" stroke-width="0.9" stroke-linecap="butt"/>
<text x="188.10" y="267.60" font-size="5.9" font-weight="bold" text-anchor="middle" fill="#111" stroke="#111" stroke-width="0.14">0.4</text>
<line x1="210.55" y1="257.70" x2="210.55" y2="259.50" stroke="#000" stroke-width="0.9" stroke-linecap="butt"/>
<text x="210.55" y="267.60" font-size="5.9" font-weight="bold" text-anchor="middle" fill="#111" stroke="#111" stroke-width="0.14">0.5</text>
<line x1="233.00" y1="257.70" x2="233.00" y2="259.50" stroke="#000" stroke-width="0.9" stroke-linecap="butt"/>
<text x="233.00" y="267.60" font-size="5.9" font-weight="bold" text-anchor="middle" fill="#111" stroke="#111" stroke-width="0.14">0.6</text>
<text x="167.40" y="275.00" font-size="5.7" font-weight="bold" text-anchor="middle" fill="#111" stroke="#111" stroke-width="0.14">Frequency (Hz)</text>
<path d="M97.30,278.40 L99.10,279.50 L233.00,279.50" fill="none" stroke="#000" stroke-width="1.8"/>
<line x1="120.75" y1="279.50" x2="120.75" y2="281.00" stroke="#000" stroke-width="0.9" stroke-linecap="butt"/>
<text x="120.75" y="286.40" font-size="5.9" font-weight="bold" text-anchor="middle" fill="#111" stroke="#111" stroke-width="0.14">10</text>
<line x1="143.20" y1="279.50" x2="143.20" y2="281.00" stroke="#000" stroke-width="0.9" stroke-linecap="butt"/>
<text x="143.20" y="286.40" font-size="5.9" font-weight="bold" text-anchor="middle" fill="#111" stroke="#111" stroke-width="0.14">5</text>
<line x1="165.65" y1="279.50" x2="165.65" y2="281.00" stroke="#000" stroke-width="0.9" stroke-linecap="butt"/>
<text x="165.65" y="286.40" font-size="5.9" font-weight="bold" text-anchor="middle" fill="#111" stroke="#111" stroke-width="0.14">3.3</text>
<line x1="188.10" y1="279.50" x2="188.10" y2="281.00" stroke="#000" stroke-width="0.9" stroke-linecap="butt"/>
<text x="188.10" y="286.40" font-size="5.9" font-weight="bold" text-anchor="middle" fill="#111" stroke="#111" stroke-width="0.14">2.5</text>
<line x1="210.55" y1="279.50" x2="210.55" y2="281.00" stroke="#000" stroke-width="0.9" stroke-linecap="butt"/>
<text x="210.55" y="286.40" font-size="5.9" font-weight="bold" text-anchor="middle" fill="#111" stroke="#111" stroke-width="0.14">2</text>
<line x1="233.00" y1="279.50" x2="233.00" y2="281.00" stroke="#000" stroke-width="0.9" stroke-linecap="butt"/>
<text x="233.00" y="286.40" font-size="5.9" font-weight="bold" text-anchor="middle" fill="#111" stroke="#111" stroke-width="0.14">1.7</text>
<text x="167.30" y="293.00" font-size="6.0" font-weight="bold" text-anchor="middle" fill="#111" stroke="#111" stroke-width="0.14">Period (s)</text>
<polyline points="98.40,257.50 101.80,234.60 104.80,228.60 107.70,232.90 111.10,240.50 113.60,224.40 117.00,226.10 120.10,242.20 123.50,240.20 125.80,239.20 128.90,246.10 131.90,239.70 135.20,235.40 138.20,249.00 141.60,236.30 144.20,170.50 147.20,250.70 150.90,245.10 155.70,243.10 159.10,225.30 162.80,244.70 165.80,244.70 168.40,241.40 171.80,239.30 177.20,221.00 181.10,233.70 183.60,237.60 187.00,243.90 191.30,239.70 195.80,237.10 198.90,245.60 202.00,231.50 205.30,257.00 208.20,250.70 211.60,246.40 217.20,234.60 220.90,244.40 223.50,243.40 226.00,243.00 229.10,241.70 232.50,247.30" fill="none" stroke="#000" stroke-width="1.5" stroke-linejoin="miter" stroke-miterlimit="2.5"/>
<line x1="144.20" y1="171.10" x2="144.20" y2="257.70" stroke="#000" stroke-width="1.6" stroke-dasharray="3.2,1.8" stroke-linecap="butt"/>
<text x="177.20" y="181.00" font-size="7.05" font-weight="bold" text-anchor="start" fill="#111" stroke="#111" stroke-width="0.14">Front (dHL-60)</text>
<text x="0" y="0" font-size="6.9" font-weight="bold" text-anchor="middle" fill="#111" transform="translate(84.60 217.20) rotate(-90) scale(0.89 1)">Normalized Power Spectral Density</text>
<line x1="309.20" y1="171.00" x2="309.20" y2="259.20" stroke="#000" stroke-width="1.6" stroke-linecap="butt"/>
<line x1="308.40" y1="258.40" x2="443.60" y2="258.40" stroke="#000" stroke-width="1.6" stroke-linecap="butt"/>
<line x1="307.20" y1="258.40" x2="309.20" y2="258.40" stroke="#000" stroke-width="0.9" stroke-linecap="butt"/>
<text x="305.40" y="260.40" font-size="5.9" font-weight="bold" text-anchor="end" fill="#111" stroke="#111" stroke-width="0.14">0</text>
<line x1="307.20" y1="240.92" x2="309.20" y2="240.92" stroke="#000" stroke-width="0.9" stroke-linecap="butt"/>
<text x="307.40" y="242.92" font-size="5.9" font-weight="bold" text-anchor="end" fill="#111" stroke="#111" stroke-width="0.14">0.2</text>
<line x1="307.20" y1="223.44" x2="309.20" y2="223.44" stroke="#000" stroke-width="0.9" stroke-linecap="butt"/>
<text x="307.40" y="225.44" font-size="5.9" font-weight="bold" text-anchor="end" fill="#111" stroke="#111" stroke-width="0.14">0.4</text>
<line x1="307.20" y1="205.96" x2="309.20" y2="205.96" stroke="#000" stroke-width="0.9" stroke-linecap="butt"/>
<text x="307.40" y="207.96" font-size="5.9" font-weight="bold" text-anchor="end" fill="#111" stroke="#111" stroke-width="0.14">0.6</text>
<line x1="307.20" y1="188.48" x2="309.20" y2="188.48" stroke="#000" stroke-width="0.9" stroke-linecap="butt"/>
<text x="307.40" y="190.48" font-size="5.9" font-weight="bold" text-anchor="end" fill="#111" stroke="#111" stroke-width="0.14">0.8</text>
<line x1="307.20" y1="171.00" x2="309.20" y2="171.00" stroke="#000" stroke-width="0.9" stroke-linecap="butt"/>
<text x="307.40" y="173.00" font-size="5.9" font-weight="bold" text-anchor="end" fill="#111" stroke="#111" stroke-width="0.14">1.0</text>
<line x1="309.20" y1="258.40" x2="309.20" y2="260.20" stroke="#000" stroke-width="0.9" stroke-linecap="butt"/>
<text x="309.20" y="268.00" font-size="5.9" font-weight="bold" text-anchor="middle" fill="#111" stroke="#111" stroke-width="0.14">0</text>
<line x1="331.60" y1="258.40" x2="331.60" y2="260.20" stroke="#000" stroke-width="0.9" stroke-linecap="butt"/>
<text x="331.60" y="268.00" font-size="5.9" font-weight="bold" text-anchor="middle" fill="#111" stroke="#111" stroke-width="0.14">0.1</text>
<line x1="354.00" y1="258.40" x2="354.00" y2="260.20" stroke="#000" stroke-width="0.9" stroke-linecap="butt"/>
<text x="354.00" y="268.00" font-size="5.9" font-weight="bold" text-anchor="middle" fill="#111" stroke="#111" stroke-width="0.14">0.2</text>
<line x1="376.40" y1="258.40" x2="376.40" y2="260.20" stroke="#000" stroke-width="0.9" stroke-linecap="butt"/>
<text x="376.40" y="268.00" font-size="5.9" font-weight="bold" text-anchor="middle" fill="#111" stroke="#111" stroke-width="0.14">0.3</text>
<line x1="398.80" y1="258.40" x2="398.80" y2="260.20" stroke="#000" stroke-width="0.9" stroke-linecap="butt"/>
<text x="398.80" y="268.00" font-size="5.9" font-weight="bold" text-anchor="middle" fill="#111" stroke="#111" stroke-width="0.14">0.4</text>
<line x1="421.20" y1="258.40" x2="421.20" y2="260.20" stroke="#000" stroke-width="0.9" stroke-linecap="butt"/>
<text x="421.20" y="268.00" font-size="5.9" font-weight="bold" text-anchor="middle" fill="#111" stroke="#111" stroke-width="0.14">0.5</text>
<line x1="443.60" y1="258.40" x2="443.60" y2="260.20" stroke="#000" stroke-width="0.9" stroke-linecap="butt"/>
<text x="443.60" y="268.00" font-size="5.9" font-weight="bold" text-anchor="middle" fill="#111" stroke="#111" stroke-width="0.14">0.6</text>
<text x="379.40" y="276.30" font-size="5.7" font-weight="bold" text-anchor="middle" fill="#111" stroke="#111" stroke-width="0.14">Frequency (Hz)</text>
<path d="M308.20,280.10 L310.00,281.20 L443.60,281.20" fill="none" stroke="#000" stroke-width="1.8"/>
<line x1="331.60" y1="281.20" x2="331.60" y2="282.70" stroke="#000" stroke-width="0.9" stroke-linecap="butt"/>
<text x="331.60" y="288.80" font-size="5.9" font-weight="bold" text-anchor="middle" fill="#111" stroke="#111" stroke-width="0.14">10</text>
<line x1="354.00" y1="281.20" x2="354.00" y2="282.70" stroke="#000" stroke-width="0.9" stroke-linecap="butt"/>
<text x="354.00" y="288.80" font-size="5.9" font-weight="bold" text-anchor="middle" fill="#111" stroke="#111" stroke-width="0.14">5</text>
<line x1="376.40" y1="281.20" x2="376.40" y2="282.70" stroke="#000" stroke-width="0.9" stroke-linecap="butt"/>
<text x="376.40" y="288.80" font-size="5.9" font-weight="bold" text-anchor="middle" fill="#111" stroke="#111" stroke-width="0.14">3.3</text>
<line x1="398.80" y1="281.20" x2="398.80" y2="282.70" stroke="#000" stroke-width="0.9" stroke-linecap="butt"/>
<text x="398.80" y="288.80" font-size="5.9" font-weight="bold" text-anchor="middle" fill="#111" stroke="#111" stroke-width="0.14">2.5</text>
<line x1="421.20" y1="281.20" x2="421.20" y2="282.70" stroke="#000" stroke-width="0.9" stroke-linecap="butt"/>
<text x="421.20" y="288.80" font-size="5.9" font-weight="bold" text-anchor="middle" fill="#111" stroke="#111" stroke-width="0.14">2</text>
<line x1="443.60" y1="281.20" x2="443.60" y2="282.70" stroke="#000" stroke-width="0.9" stroke-linecap="butt"/>
<text x="443.60" y="288.80" font-size="5.9" font-weight="bold" text-anchor="middle" fill="#111" stroke="#111" stroke-width="0.14">1.7</text>
<text x="378.50" y="294.80" font-size="6.0" font-weight="bold" text-anchor="middle" fill="#111" stroke="#111" stroke-width="0.14">Period (s)</text>
<polyline points="309.30,258.30 312.20,207.10 315.30,237.10 318.30,221.00 321.70,242.20 325.10,241.90 328.00,230.30 331.00,240.50 333.90,230.80 339.80,234.20 342.70,223.60 345.80,243.00 349.20,251.90 352.20,238.80 355.10,171.00 358.50,186.30 361.90,230.80 364.40,225.30 367.50,204.40 370.30,237.60 373.70,211.20 377.10,233.70 380.00,237.10 383.10,240.00 386.00,219.70 388.90,255.30 392.00,252.40 395.00,231.20 397.90,251.50 401.30,233.70 404.70,252.40 407.20,252.40 413.60,235.40 416.50,247.80 419.90,243.00 425.00,234.60 431.80,222.70 434.70,257.50 437.70,257.00 441.10,221.90 441.90,231.00" fill="none" stroke="#000" stroke-width="1.5" stroke-linejoin="miter" stroke-miterlimit="2.5"/>
<line x1="355.60" y1="172.00" x2="355.60" y2="258.40" stroke="#000" stroke-width="1.6" stroke-dasharray="3.2,1.8" stroke-linecap="butt"/>
<text x="386.00" y="178.10" font-size="7.05" font-weight="bold" text-anchor="start" fill="#111" stroke="#111" stroke-width="0.14">Back (dHL-60)</text>
<text x="0" y="0" font-size="6.9" font-weight="bold" text-anchor="middle" fill="#111" transform="translate(293.90 217.50) rotate(-90) scale(0.89 1)">Normalized Power Spectral Density</text>
<line x1="100.00" y1="313.20" x2="100.00" y2="402.20" stroke="#000" stroke-width="1.0" stroke-linecap="butt"/>
<line x1="99.50" y1="401.70" x2="231.90" y2="401.70" stroke="#000" stroke-width="1.0" stroke-linecap="butt"/>
<line x1="98.00" y1="401.70" x2="100.00" y2="401.70" stroke="#000" stroke-width="0.9" stroke-linecap="butt"/>
<text x="95.70" y="403.70" font-size="5.9" font-weight="bold" text-anchor="end" fill="#111" stroke="#111" stroke-width="0.14">0</text>
<line x1="98.00" y1="384.00" x2="100.00" y2="384.00" stroke="#000" stroke-width="0.9" stroke-linecap="butt"/>
<text x="98.20" y="386.00" font-size="5.9" font-weight="bold" text-anchor="end" fill="#111" stroke="#111" stroke-width="0.14">0.2</text>
<line x1="98.00" y1="366.30" x2="100.00" y2="366.30" stroke="#000" stroke-width="0.9" stroke-linecap="butt"/>
<text x="98.20" y="368.30" font-size="5.9" font-weight="bold" text-anchor="end" fill="#111" stroke="#111" stroke-width="0.14">0.4</text>
<line x1="98.00" y1="348.60" x2="100.00" y2="348.60" stroke="#000" stroke-width="0.9" stroke-linecap="butt"/>
<text x="98.20" y="350.60" font-size="5.9" font-weight="bold" text-anchor="end" fill="#111" stroke="#111" stroke-width="0.14">0.6</text>
<line x1="98.00" y1="330.90" x2="100.00" y2="330.90" stroke="#000" stroke-width="0.9" stroke-linecap="butt"/>
<text x="98.20" y="332.90" font-size="5.9" font-weight="bold" text-anchor="end" fill="#111" stroke="#111" stroke-width="0.14">0.8</text>
<line x1="98.00" y1="313.20" x2="100.00" y2="313.20" stroke="#000" stroke-width="0.9" stroke-linecap="butt"/>
<text x="98.20" y="315.20" font-size="5.9" font-weight="bold" text-anchor="end" fill="#111" stroke="#111" stroke-width="0.14">1.0</text>
<line x1="100.00" y1="401.70" x2="100.00" y2="403.50" stroke="#000" stroke-width="0.9" stroke-linecap="butt"/>
<text x="100.00" y="410.00" font-size="5.9" font-weight="bold" text-anchor="middle" fill="#111" stroke="#111" stroke-width="0.14">0</text>
<line x1="121.98" y1="401.70" x2="121.98" y2="403.50" stroke="#000" stroke-width="0.9" stroke-linecap="butt"/>
<text x="121.98" y="410.00" font-size="5.9" font-weight="bold" text-anchor="middle" fill="#111" stroke="#111" stroke-width="0.14">0.1</text>
<line x1="143.97" y1="401.70" x2="143.97" y2="403.50" stroke="#000" stroke-width="0.9" stroke-linecap="butt"/>
<text x="143.97" y="410.00" font-size="5.9" font-weight="bold" text-anchor="middle" fill="#111" stroke="#111" stroke-width="0.14">0.2</text>
<line x1="165.95" y1="401.70" x2="165.95" y2="403.50" stroke="#000" stroke-width="0.9" stroke-linecap="butt"/>
<text x="165.95" y="410.00" font-size="5.9" font-weight="bold" text-anchor="middle" fill="#111" stroke="#111" stroke-width="0.14">0.3</text>
<line x1="187.93" y1="401.70" x2="187.93" y2="403.50" stroke="#000" stroke-width="0.9" stroke-linecap="butt"/>
<text x="187.93" y="410.00" font-size="5.9" font-weight="bold" text-anchor="middle" fill="#111" stroke="#111" stroke-width="0.14">0.4</text>
<line x1="209.92" y1="401.70" x2="209.92" y2="403.50" stroke="#000" stroke-width="0.9" stroke-linecap="butt"/>
<text x="209.92" y="410.00" font-size="5.9" font-weight="bold" text-anchor="middle" fill="#111" stroke="#111" stroke-width="0.14">0.5</text>
<line x1="231.90" y1="401.70" x2="231.90" y2="403.50" stroke="#000" stroke-width="0.9" stroke-linecap="butt"/>
<text x="231.90" y="410.00" font-size="5.9" font-weight="bold" text-anchor="middle" fill="#111" stroke="#111" stroke-width="0.14">0.6</text>
<text x="166.20" y="416.40" font-size="6.35" font-weight="bold" text-anchor="middle" fill="#111" stroke="#111" stroke-width="0.14">Frequency (Hz)</text>
<line x1="99.50" y1="421.50" x2="231.90" y2="421.50" stroke="#000" stroke-width="1.2" stroke-linecap="butt"/>
<rect x="121.28" y="420.10" width="1.40" height="2.80" fill="#000"/>
<text x="121.98" y="428.30" font-size="5.9" font-weight="bold" text-anchor="middle" fill="#111" stroke="#111" stroke-width="0.14">10</text>
<rect x="143.27" y="420.10" width="1.40" height="2.80" fill="#000"/>
<text x="143.97" y="428.30" font-size="5.9" font-weight="bold" text-anchor="middle" fill="#111" stroke="#111" stroke-width="0.14">5</text>
<rect x="165.25" y="420.10" width="1.40" height="2.80" fill="#000"/>
<text x="165.95" y="428.30" font-size="5.9" font-weight="bold" text-anchor="middle" fill="#111" stroke="#111" stroke-width="0.14">3.3</text>
<rect x="187.23" y="420.10" width="1.40" height="2.80" fill="#000"/>
<text x="187.93" y="428.30" font-size="5.9" font-weight="bold" text-anchor="middle" fill="#111" stroke="#111" stroke-width="0.14">2.5</text>
<rect x="209.22" y="420.10" width="1.40" height="2.80" fill="#000"/>
<text x="209.92" y="428.30" font-size="5.9" font-weight="bold" text-anchor="middle" fill="#111" stroke="#111" stroke-width="0.14">2</text>
<rect x="231.20" y="420.10" width="1.40" height="2.80" fill="#000"/>
<text x="231.90" y="428.30" font-size="5.9" font-weight="bold" text-anchor="middle" fill="#111" stroke="#111" stroke-width="0.14">1.7</text>
<rect x="99.30" y="420.10" width="1.40" height="2.80" fill="#000"/>
<text x="164.90" y="433.20" font-size="6.1" font-weight="bold" text-anchor="middle" fill="#111" stroke="#111" stroke-width="0.14">Period (s)</text>
<polyline points="100.00,398.80 102.00,398.40 106.80,373.60 109.70,370.70 111.70,361.60 114.20,391.10 116.50,377.50 121.40,389.10 124.30,377.50 128.10,372.10 131.00,393.00 134.00,383.30 136.90,395.00 138.80,395.90 141.70,358.10 145.60,313.60 148.50,382.40 151.40,382.40 155.30,388.20 158.20,383.70 160.10,395.00 163.00,383.30 166.90,388.20 167.30,389.10 170.80,385.30 174.70,383.30 178.60,390.10 182.00,399.80 185.90,387.20 188.30,389.10 191.20,395.00 194.50,382.90 198.90,394.00 202.80,388.80 205.70,386.20 207.20,391.10 209.60,384.30 211.90,391.10 213.80,364.50 217.30,372.10 221.20,373.30 224.10,391.10 226.60,395.90 229.00,395.00 231.90,399.80" fill="none" stroke="#000" stroke-width="1.0" stroke-linejoin="miter" stroke-miterlimit="2.5"/>
<line x1="145.60" y1="314.20" x2="145.60" y2="401.70" stroke="#000" stroke-width="1.5" stroke-dasharray="3.4,1.8" stroke-linecap="butt"/>
<text x="160.6" y="319.4" font-size="7.05" font-weight="bold" fill="#111">Front (1<tspan font-size="5.0" dy="-2.9">0</tspan><tspan dy="2.9"> neutrophils)</tspan></text>
<text x="0" y="0" font-size="6.5" font-weight="bold" text-anchor="middle" fill="#111" transform="translate(84.60 357.95) rotate(-90) scale(1.0 1)">Normalized Power Spectral Density</text>
<line x1="310.30" y1="313.60" x2="310.30" y2="404.90" stroke="#000" stroke-width="1.0" stroke-linecap="butt"/>
<line x1="309.80" y1="404.40" x2="441.60" y2="404.40" stroke="#000" stroke-width="1.0" stroke-linecap="butt"/>
<line x1="308.30" y1="404.40" x2="310.30" y2="404.40" stroke="#000" stroke-width="0.9" stroke-linecap="butt"/>
<text x="306.20" y="406.40" font-size="5.9" font-weight="bold" text-anchor="end" fill="#111" stroke="#111" stroke-width="0.14">0</text>
<line x1="308.30" y1="386.24" x2="310.30" y2="386.24" stroke="#000" stroke-width="0.9" stroke-linecap="butt"/>
<text x="308.50" y="388.24" font-size="5.9" font-weight="bold" text-anchor="end" fill="#111" stroke="#111" stroke-width="0.14">0.2</text>
<line x1="308.30" y1="368.08" x2="310.30" y2="368.08" stroke="#000" stroke-width="0.9" stroke-linecap="butt"/>
<text x="308.50" y="370.08" font-size="5.9" font-weight="bold" text-anchor="end" fill="#111" stroke="#111" stroke-width="0.14">0.4</text>
<line x1="308.30" y1="349.92" x2="310.30" y2="349.92" stroke="#000" stroke-width="0.9" stroke-linecap="butt"/>
<text x="308.50" y="351.92" font-size="5.9" font-weight="bold" text-anchor="end" fill="#111" stroke="#111" stroke-width="0.14">0.6</text>
<line x1="308.30" y1="331.76" x2="310.30" y2="331.76" stroke="#000" stroke-width="0.9" stroke-linecap="butt"/>
<text x="308.50" y="333.76" font-size="5.9" font-weight="bold" text-anchor="end" fill="#111" stroke="#111" stroke-width="0.14">0.8</text>
<line x1="308.30" y1="313.60" x2="310.30" y2="313.60" stroke="#000" stroke-width="0.9" stroke-linecap="butt"/>
<text x="308.50" y="315.60" font-size="5.9" font-weight="bold" text-anchor="end" fill="#111" stroke="#111" stroke-width="0.14">1.0</text>
<line x1="310.30" y1="404.40" x2="310.30" y2="406.20" stroke="#000" stroke-width="0.9" stroke-linecap="butt"/>
<text x="310.30" y="410.80" font-size="5.9" font-weight="bold" text-anchor="middle" fill="#111" stroke="#111" stroke-width="0.14">0</text>
<line x1="332.18" y1="404.40" x2="332.18" y2="406.20" stroke="#000" stroke-width="0.9" stroke-linecap="butt"/>
<text x="332.18" y="410.80" font-size="5.9" font-weight="bold" text-anchor="middle" fill="#111" stroke="#111" stroke-width="0.14">0.1</text>
<line x1="354.07" y1="404.40" x2="354.07" y2="406.20" stroke="#000" stroke-width="0.9" stroke-linecap="butt"/>
<text x="354.07" y="410.80" font-size="5.9" font-weight="bold" text-anchor="middle" fill="#111" stroke="#111" stroke-width="0.14">0.2</text>
<line x1="375.95" y1="404.40" x2="375.95" y2="406.20" stroke="#000" stroke-width="0.9" stroke-linecap="butt"/>
<text x="375.95" y="410.80" font-size="5.9" font-weight="bold" text-anchor="middle" fill="#111" stroke="#111" stroke-width="0.14">0.3</text>
<line x1="397.83" y1="404.40" x2="397.83" y2="406.20" stroke="#000" stroke-width="0.9" stroke-linecap="butt"/>
<text x="397.83" y="410.80" font-size="5.9" font-weight="bold" text-anchor="middle" fill="#111" stroke="#111" stroke-width="0.14">0.4</text>
<line x1="419.72" y1="404.40" x2="419.72" y2="406.20" stroke="#000" stroke-width="0.9" stroke-linecap="butt"/>
<text x="419.72" y="410.80" font-size="5.9" font-weight="bold" text-anchor="middle" fill="#111" stroke="#111" stroke-width="0.14">0.5</text>
<line x1="441.60" y1="404.40" x2="441.60" y2="406.20" stroke="#000" stroke-width="0.9" stroke-linecap="butt"/>
<text x="441.60" y="410.80" font-size="5.9" font-weight="bold" text-anchor="middle" fill="#111" stroke="#111" stroke-width="0.14">0.6</text>
<text x="377.70" y="419.40" font-size="6.2" font-weight="bold" text-anchor="middle" fill="#111" stroke="#111" stroke-width="0.14">Frequency (Hz)</text>
<line x1="309.80" y1="424.30" x2="441.60" y2="424.30" stroke="#000" stroke-width="1.2" stroke-linecap="butt"/>
<rect x="331.48" y="422.90" width="1.40" height="2.80" fill="#000"/>
<text x="332.18" y="430.80" font-size="5.9" font-weight="bold" text-anchor="middle" fill="#111" stroke="#111" stroke-width="0.14">10</text>
<rect x="353.37" y="422.90" width="1.40" height="2.80" fill="#000"/>
<text x="354.07" y="430.80" font-size="5.9" font-weight="bold" text-anchor="middle" fill="#111" stroke="#111" stroke-width="0.14">5</text>
<rect x="375.25" y="422.90" width="1.40" height="2.80" fill="#000"/>
<text x="375.95" y="430.80" font-size="5.9" font-weight="bold" text-anchor="middle" fill="#111" stroke="#111" stroke-width="0.14">3.3</text>
<rect x="397.13" y="422.90" width="1.40" height="2.80" fill="#000"/>
<text x="397.83" y="430.80" font-size="5.9" font-weight="bold" text-anchor="middle" fill="#111" stroke="#111" stroke-width="0.14">2.5</text>
<rect x="419.02" y="422.90" width="1.40" height="2.80" fill="#000"/>
<text x="419.72" y="430.80" font-size="5.9" font-weight="bold" text-anchor="middle" fill="#111" stroke="#111" stroke-width="0.14">2</text>
<rect x="440.90" y="422.90" width="1.40" height="2.80" fill="#000"/>
<text x="441.60" y="430.80" font-size="5.9" font-weight="bold" text-anchor="middle" fill="#111" stroke="#111" stroke-width="0.14">1.7</text>
<rect x="309.60" y="422.90" width="1.40" height="2.80" fill="#000"/>
<text x="376.50" y="436.70" font-size="6.1" font-weight="bold" text-anchor="middle" fill="#111" stroke="#111" stroke-width="0.14">Period (s)</text>
<polyline points="310.30,395.00 312.90,393.40 314.80,385.30 317.10,363.60 319.50,381.00 322.00,377.50 324.50,374.60 327.20,372.70 329.30,382.90 331.70,372.70 334.20,386.80 336.50,372.70 340.80,381.40 343.90,388.20 346.20,352.30 348.70,368.80 351.00,402.70 353.60,366.90 355.90,313.60 358.20,333.90 360.70,380.40 363.30,377.50 365.60,380.40 367.90,361.00 370.40,395.00 373.30,371.30 375.30,370.70 378.20,383.70 380.10,362.40 382.30,366.90 385.40,373.60 389.70,402.70 392.60,387.20 395.50,391.10 399.40,374.60 402.30,381.40 407.10,386.20 409.10,381.00 412.00,394.00 414.50,389.50 416.80,391.10 418.80,381.40 421.10,381.40 423.60,362.00 426.50,386.20 431.40,344.20 436.20,392.00 439.10,398.80 441.60,401.70" fill="none" stroke="#000" stroke-width="1.0" stroke-linejoin="miter" stroke-miterlimit="2.5"/>
<line x1="355.90" y1="314.60" x2="355.90" y2="404.40" stroke="#000" stroke-width="1.5" stroke-dasharray="3.4,1.8" stroke-linecap="butt"/>
<text x="373.4" y="321.8" font-size="7.05" font-weight="bold" fill="#111">Back (1<tspan font-size="5.0" dy="-2.9">0</tspan><tspan dy="2.9"> neutrophils)</tspan></text>
<text x="0" y="0" font-size="6.5" font-weight="bold" text-anchor="middle" fill="#111" transform="translate(294.50 357.70) rotate(-90) scale(1.0 1)">Normalized Power Spectral Density</text>
<text x="12.60" y="472.00" font-size="13" font-weight="bold" text-anchor="start" fill="#000" stroke="#000" stroke-width="0.45">E</text>
<text x="273.90" y="473.20" font-size="13" font-weight="bold" text-anchor="start" fill="#000" stroke="#000" stroke-width="0.45">F</text>
<g clip-path="url(#clipE)"><g filter="url(#jetmap)">
<rect x="20.10" y="487.40" width="67.60" height="6.00" fill="url(#clipEr0)"/>
<rect x="20.10" y="493.05" width="67.60" height="3.00" fill="url(#clipEr1)"/>
<rect x="20.10" y="495.70" width="67.60" height="3.00" fill="url(#clipEr2)"/>
<rect x="20.10" y="498.35" width="67.60" height="3.00" fill="url(#clipEr3)"/>
<rect x="20.10" y="501.00" width="67.60" height="3.00" fill="url(#clipEr4)"/>
<rect x="20.10" y="503.65" width="67.60" height="3.00" fill="url(#clipEr5)"/>
<rect x="20.10" y="506.30" width="67.60" height="3.00" fill="url(#clipEr6)"/>
<rect x="20.10" y="508.95" width="67.60" height="3.00" fill="url(#clipEr7)"/>
<rect x="20.10" y="511.60" width="67.60" height="3.00" fill="url(#clipEr8)"/>
<rect x="20.10" y="514.25" width="67.60" height="3.00" fill="url(#clipEr9)"/>
<rect x="20.10" y="516.90" width="67.60" height="3.00" fill="url(#clipEr10)"/>
<rect x="20.10" y="519.55" width="67.60" height="3.00" fill="url(#clipEr11)"/>
<rect x="20.10" y="522.20" width="67.60" height="3.00" fill="url(#clipEr12)"/>
<rect x="20.10" y="524.85" width="67.60" height="3.00" fill="url(#clipEr13)"/>
<rect x="20.10" y="527.50" width="67.60" height="3.00" fill="url(#clipEr14)"/>
<rect x="20.10" y="530.15" width="67.60" height="3.00" fill="url(#clipEr15)"/>
<rect x="20.10" y="532.80" width="67.60" height="3.00" fill="url(#clipEr16)"/>
<rect x="20.10" y="535.45" width="67.60" height="3.00" fill="url(#clipEr17)"/>
<rect x="20.10" y="538.10" width="67.60" height="3.00" fill="url(#clipEr18)"/>
<rect x="20.10" y="540.75" width="67.60" height="3.00" fill="url(#clipEr19)"/>
<rect x="20.10" y="543.40" width="67.60" height="3.00" fill="url(#clipEr20)"/>
<rect x="20.10" y="546.05" width="67.60" height="3.00" fill="url(#clipEr21)"/>
<rect x="20.10" y="548.70" width="67.60" height="3.00" fill="url(#clipEr22)"/>
<rect x="20.10" y="551.35" width="67.60" height="3.00" fill="url(#clipEr23)"/>
<rect x="20.10" y="554.00" width="67.60" height="3.00" fill="url(#clipEr24)"/>
<rect x="20.10" y="556.65" width="67.60" height="3.00" fill="url(#clipEr25)"/>
<rect x="20.10" y="559.30" width="67.60" height="3.00" fill="url(#clipEr26)"/>
<rect x="20.10" y="561.95" width="67.60" height="3.00" fill="url(#clipEr27)"/>
<rect x="20.10" y="564.60" width="67.60" height="3.00" fill="url(#clipEr28)"/>
<rect x="20.10" y="567.25" width="67.60" height="3.00" fill="url(#clipEr29)"/>
<rect x="20.10" y="569.90" width="67.60" height="3.00" fill="url(#clipEr30)"/>
<rect x="20.10" y="572.55" width="67.60" height="3.00" fill="url(#clipEr31)"/>
<rect x="20.10" y="575.20" width="67.60" height="3.00" fill="url(#clipEr32)"/>
<rect x="20.10" y="577.85" width="67.60" height="3.00" fill="url(#clipEr33)"/>
<rect x="20.10" y="580.50" width="67.60" height="3.00" fill="url(#clipEr34)"/>
<rect x="20.10" y="583.15" width="67.60" height="3.00" fill="url(#clipEr35)"/>
<rect x="20.10" y="585.80" width="67.60" height="3.00" fill="url(#clipEr36)"/>
<rect x="20.10" y="588.45" width="67.60" height="3.00" fill="url(#clipEr37)"/>
<rect x="20.10" y="591.10" width="67.60" height="3.00" fill="url(#clipEr38)"/>
<rect x="20.10" y="593.75" width="67.60" height="3.00" fill="url(#clipEr39)"/>
<rect x="20.10" y="596.40" width="67.60" height="3.00" fill="url(#clipEr40)"/>
<rect x="20.10" y="599.05" width="67.60" height="6.00" fill="url(#clipEr41)"/>
</g></g>
<rect x="23.10" y="490.40" width="61.60" height="110.60" fill="none" stroke="#777" stroke-width="0.6"/>
<g clip-path="url(#clipF)"><g filter="url(#jetmap)">
<rect x="287.40" y="490.70" width="63.10" height="6.00" fill="url(#clipFr0)"/>
<rect x="287.40" y="496.35" width="63.10" height="3.00" fill="url(#clipFr1)"/>
<rect x="287.40" y="499.00" width="63.10" height="3.00" fill="url(#clipFr2)"/>
<rect x="287.40" y="501.65" width="63.10" height="3.00" fill="url(#clipFr3)"/>
<rect x="287.40" y="504.30" width="63.10" height="3.00" fill="url(#clipFr4)"/>
<rect x="287.40" y="506.95" width="63.10" height="3.00" fill="url(#clipFr5)"/>
<rect x="287.40" y="509.60" width="63.10" height="3.00" fill="url(#clipFr6)"/>
<rect x="287.40" y="512.25" width="63.10" height="3.00" fill="url(#clipFr7)"/>
<rect x="287.40" y="514.90" width="63.10" height="3.00" fill="url(#clipFr8)"/>
<rect x="287.40" y="517.55" width="63.10" height="3.00" fill="url(#clipFr9)"/>
<rect x="287.40" y="520.20" width="63.10" height="3.00" fill="url(#clipFr10)"/>
<rect x="287.40" y="522.85" width="63.10" height="3.00" fill="url(#clipFr11)"/>
<rect x="287.40" y="525.50" width="63.10" height="3.00" fill="url(#clipFr12)"/>
<rect x="287.40" y="528.15" width="63.10" height="3.00" fill="url(#clipFr13)"/>
<rect x="287.40" y="530.80" width="63.10" height="3.00" fill="url(#clipFr14)"/>
<rect x="287.40" y="533.45" width="63.10" height="3.00" fill="url(#clipFr15)"/>
<rect x="287.40" y="536.10" width="63.10" height="3.00" fill="url(#clipFr16)"/>
<rect x="287.40" y="538.75" width="63.10" height="3.00" fill="url(#clipFr17)"/>
<rect x="287.40" y="541.40" width="63.10" height="3.00" fill="url(#clipFr18)"/>
<rect x="287.40" y="544.05" width="63.10" height="3.00" fill="url(#clipFr19)"/>
<rect x="287.40" y="546.70" width="63.10" height="3.00" fill="url(#clipFr20)"/>
<rect x="287.40" y="549.35" width="63.10" height="3.00" fill="url(#clipFr21)"/>
<rect x="287.40" y="552.00" width="63.10" height="3.00" fill="url(#clipFr22)"/>
<rect x="287.40" y="554.65" width="63.10" height="3.00" fill="url(#clipFr23)"/>
<rect x="287.40" y="557.30" width="63.10" height="3.00" fill="url(#clipFr24)"/>
<rect x="287.40" y="559.95" width="63.10" height="3.00" fill="url(#clipFr25)"/>
<rect x="287.40" y="562.60" width="63.10" height="3.00" fill="url(#clipFr26)"/>
<rect x="287.40" y="565.25" width="63.10" height="3.00" fill="url(#clipFr27)"/>
<rect x="287.40" y="567.90" width="63.10" height="3.00" fill="url(#clipFr28)"/>
<rect x="287.40" y="570.55" width="63.10" height="3.00" fill="url(#clipFr29)"/>
<rect x="287.40" y="573.20" width="63.10" height="3.00" fill="url(#clipFr30)"/>
<rect x="287.40" y="575.85" width="63.10" height="3.00" fill="url(#clipFr31)"/>
<rect x="287.40" y="578.50" width="63.10" height="3.00" fill="url(#clipFr32)"/>
<rect x="287.40" y="581.15" width="63.10" height="3.00" fill="url(#clipFr33)"/>
<rect x="287.40" y="583.80" width="63.10" height="3.00" fill="url(#clipFr34)"/>
<rect x="287.40" y="586.45" width="63.10" height="3.00" fill="url(#clipFr35)"/>
<rect x="287.40" y="589.10" width="63.10" height="3.00" fill="url(#clipFr36)"/>
<rect x="287.40" y="591.75" width="63.10" height="3.00" fill="url(#clipFr37)"/>
<rect x="287.40" y="594.40" width="63.10" height="3.00" fill="url(#clipFr38)"/>
<rect x="287.40" y="597.05" width="63.10" height="3.00" fill="url(#clipFr39)"/>
<rect x="287.40" y="599.70" width="63.10" height="6.00" fill="url(#clipFr40)"/>
</g></g>
<rect x="290.40" y="493.70" width="57.10" height="108.50" fill="none" stroke="#777" stroke-width="0.6"/>
<rect x="93.30" y="490.80" width="10.40" height="110.20" fill="url(#jetv)"/>
<rect x="93.30" y="490.80" width="10.40" height="110.20" fill="none" stroke="#333" stroke-width="0.5"/>
<text x="104.60" y="492.80" font-size="5.9" font-weight="bold" text-anchor="start" fill="#111" stroke="#111" stroke-width="0.14">1</text>
<text x="104.60" y="520.55" font-size="5.9" font-weight="bold" text-anchor="start" fill="#111" stroke="#111" stroke-width="0.14">0.5</text>
<text x="104.60" y="548.30" font-size="5.9" font-weight="bold" text-anchor="start" fill="#111" stroke="#111" stroke-width="0.14">0</text>
<text x="104.60" y="576.05" font-size="5.9" font-weight="bold" text-anchor="start" fill="#111" stroke="#111" stroke-width="0.14">-0.5</text>
<text x="104.60" y="603.80" font-size="5.9" font-weight="bold" text-anchor="start" fill="#111" stroke="#111" stroke-width="0.14">-1</text>
<rect x="355.50" y="493.70" width="8.20" height="108.50" fill="url(#jetv)"/>
<rect x="355.50" y="493.70" width="8.20" height="108.50" fill="none" stroke="#333" stroke-width="0.5"/>
<text x="365.00" y="495.70" font-size="5.9" font-weight="bold" text-anchor="start" fill="#111" stroke="#111" stroke-width="0.14">1</text>
<text x="365.00" y="523.03" font-size="5.9" font-weight="bold" text-anchor="start" fill="#111" stroke="#111" stroke-width="0.14">0.5</text>
<text x="365.00" y="550.35" font-size="5.9" font-weight="bold" text-anchor="start" fill="#111" stroke="#111" stroke-width="0.14">0</text>
<text x="365.00" y="577.68" font-size="5.9" font-weight="bold" text-anchor="start" fill="#111" stroke="#111" stroke-width="0.14">-0.5</text>
<text x="365.00" y="605.00" font-size="5.9" font-weight="bold" text-anchor="start" fill="#111" stroke="#111" stroke-width="0.14">-1</text>
<text x="18.30" y="486.40" font-size="6.1" font-weight="bold" text-anchor="start" fill="#111" letter-spacing="0.33" stroke="#111" stroke-width="0.14">Correlation coefficient</text>
<text x="286.70" y="490.20" font-size="6.48" font-weight="bold" text-anchor="start" fill="#111" stroke="#111" stroke-width="0.14">Correlation coefficient</text>
<rect x="18.30" y="490.20" width="2.70" height="39.00" fill="#000"/>
<rect x="18.30" y="530.90" width="2.70" height="39.30" fill="#000"/>
<rect x="18.30" y="572.00" width="2.70" height="29.00" fill="#000"/>
<rect x="5.30" y="490.50" width="3.90" height="12.10" fill="#000"/>
<text x="3.70" y="496.50" font-size="4.6" font-weight="bold" text-anchor="middle" fill="#000" transform="rotate(-90 3.70 496.50)" stroke="#000" stroke-width="0.14">24 s</text>
<text x="16.80" y="509.70" font-size="6.1" font-weight="bold" text-anchor="middle" fill="#000" transform="rotate(-90 16.80 509.70)" stroke="#000" stroke-width="0.14">Cell #1</text>
<text x="16.80" y="550.50" font-size="6.1" font-weight="bold" text-anchor="middle" fill="#000" transform="rotate(-90 16.80 550.50)" stroke="#000" stroke-width="0.14">Cell #2</text>
<text x="16.80" y="586.50" font-size="6.1" font-weight="bold" text-anchor="middle" fill="#000" transform="rotate(-90 16.80 586.50)" stroke="#000" stroke-width="0.14">Cell #3</text>
<rect x="286.30" y="494.10" width="3.60" height="52.80" fill="#000"/>
<rect x="286.30" y="548.80" width="3.60" height="53.50" fill="#000"/>
<rect x="273.30" y="494.10" width="4.20" height="18.10" fill="#000"/>
<text x="271.20" y="502.50" font-size="4.6" font-weight="bold" text-anchor="middle" fill="#000" transform="rotate(-90 271.20 502.50)" stroke="#000" stroke-width="0.14">24 s</text>
<text x="283.60" y="527.80" font-size="6.8" font-weight="bold" text-anchor="middle" fill="#000" transform="rotate(-90 283.60 527.80)" stroke="#000" stroke-width="0.14">Cell #1</text>
<text x="283.60" y="574.20" font-size="6.8" font-weight="bold" text-anchor="middle" fill="#000" transform="rotate(-90 283.60 574.20)" stroke="#000" stroke-width="0.14">Cell #2</text>
<text x="22.00" y="607.60" font-size="6.3" font-weight="bold" text-anchor="middle" fill="#111" stroke="#111" stroke-width="0.14">-4</text>
<text x="37.80" y="607.60" font-size="6.3" font-weight="bold" text-anchor="middle" fill="#111" stroke="#111" stroke-width="0.14">-2</text>
<text x="54.00" y="607.60" font-size="6.3" font-weight="bold" text-anchor="middle" fill="#111" stroke="#111" stroke-width="0.14">0</text>
<text x="68.00" y="607.60" font-size="6.3" font-weight="bold" text-anchor="middle" fill="#111" stroke="#111" stroke-width="0.14">2</text>
<text x="83.50" y="607.60" font-size="6.3" font-weight="bold" text-anchor="middle" fill="#111" stroke="#111" stroke-width="0.14">4</text>
<text x="53.80" y="614.50" font-size="6.5" font-weight="bold" text-anchor="middle" fill="#111" letter-spacing="0.15" stroke="#111" stroke-width="0.14">Time offset (s)</text>
<text x="291.40" y="610.00" font-size="6.3" font-weight="bold" text-anchor="middle" fill="#111" stroke="#111" stroke-width="0.14">-4</text>
<text x="305.90" y="610.00" font-size="6.3" font-weight="bold" text-anchor="middle" fill="#111" stroke="#111" stroke-width="0.14">-2</text>
<text x="320.00" y="610.00" font-size="6.3" font-weight="bold" text-anchor="middle" fill="#111" stroke="#111" stroke-width="0.14">0</text>
<text x="334.20" y="610.00" font-size="6.3" font-weight="bold" text-anchor="middle" fill="#111" stroke="#111" stroke-width="0.14">2</text>
<text x="347.30" y="610.00" font-size="6.3" font-weight="bold" text-anchor="middle" fill="#111" stroke="#111" stroke-width="0.14">4</text>
<text x="326.20" y="617.60" font-size="7.0" font-weight="bold" text-anchor="middle" fill="#111" stroke="#111" stroke-width="0.14">Time offset (s)</text>
<line x1="194.00" y1="496.10" x2="194.00" y2="582.50" stroke="#000" stroke-width="1.5" stroke-dasharray="3.8,2.2" stroke-linecap="butt"/>
<line x1="203.40" y1="496.10" x2="203.40" y2="582.50" stroke="#8c8c8c" stroke-width="2.2" stroke-linecap="butt"/>
<path d="M138.85,555.62 C139.52,555.08 141.32,553.33 142.89,552.39 C144.46,551.45 146.48,550.01 148.27,549.97 C150.07,549.92 151.64,549.97 153.66,552.12 C155.68,554.28 158.14,559.75 160.39,562.89 C162.63,566.03 164.43,569.17 167.12,570.97 C169.81,572.76 173.85,574.33 176.54,573.66 C179.24,572.99 181.25,570.74 183.27,566.93 C185.29,563.12 187.09,556.61 188.66,550.78 C190.23,544.94 191.35,538.21 192.70,531.93 C194.04,525.65 195.39,517.79 196.74,513.08 C198.08,508.37 199.65,505.45 200.78,503.66 C201.90,501.86 202.35,501.86 203.47,502.31 C204.59,502.76 206.16,502.76 207.51,506.35 C208.85,509.94 210.20,517.34 211.55,523.85 C212.89,530.36 214.24,539.56 215.58,545.39 C216.93,551.22 218.28,555.35 219.62,558.85 C220.97,562.35 222.32,564.96 223.66,566.39 C225.01,567.83 226.13,567.60 227.70,567.47 C229.27,567.33 231.29,566.57 233.09,565.58 C234.88,564.60 236.68,562.67 238.47,561.55 C240.27,560.42 242.06,559.21 243.86,558.85 C245.65,558.49 248.34,559.30 249.24,559.39" fill="none" stroke="#000" stroke-width="1.9"/>
<rect x="138.80" y="496.10" width="110.40" height="86.40" fill="none" stroke="#000" stroke-width="1.5"/>
<line x1="138.80" y1="496.10" x2="140.80" y2="496.10" stroke="#000" stroke-width="1" stroke-linecap="butt"/>
<text x="138.20" y="498.60" font-size="6.8" font-weight="bold" text-anchor="end" fill="#111" stroke="#111" stroke-width="0.14">0.6</text>
<line x1="138.80" y1="517.70" x2="140.80" y2="517.70" stroke="#000" stroke-width="1" stroke-linecap="butt"/>
<text x="138.20" y="520.20" font-size="6.8" font-weight="bold" text-anchor="end" fill="#111" stroke="#111" stroke-width="0.14">0.4</text>
<line x1="138.80" y1="539.30" x2="140.80" y2="539.30" stroke="#000" stroke-width="1" stroke-linecap="butt"/>
<text x="138.20" y="541.80" font-size="6.8" font-weight="bold" text-anchor="end" fill="#111" stroke="#111" stroke-width="0.14">0.2</text>
<line x1="138.80" y1="560.90" x2="140.80" y2="560.90" stroke="#000" stroke-width="1" stroke-linecap="butt"/>
<text x="138.20" y="563.40" font-size="6.8" font-weight="bold" text-anchor="end" fill="#111" stroke="#111" stroke-width="0.14">0.0</text>
<line x1="138.80" y1="582.50" x2="140.80" y2="582.50" stroke="#000" stroke-width="1" stroke-linecap="butt"/>
<text x="138.20" y="585.00" font-size="6.8" font-weight="bold" text-anchor="end" fill="#111" stroke="#111" stroke-width="0.14">-0.2</text>
<line x1="138.80" y1="582.50" x2="138.80" y2="580.50" stroke="#000" stroke-width="1" stroke-linecap="butt"/>
<text x="139.20" y="591.60" font-size="6.6" font-weight="bold" text-anchor="middle" fill="#111" stroke="#111" stroke-width="0.14">-4</text>
<line x1="166.40" y1="582.50" x2="166.40" y2="580.50" stroke="#000" stroke-width="1" stroke-linecap="butt"/>
<text x="166.80" y="591.60" font-size="6.6" font-weight="bold" text-anchor="middle" fill="#111" stroke="#111" stroke-width="0.14">-2</text>
<line x1="194.00" y1="582.50" x2="194.00" y2="580.50" stroke="#000" stroke-width="1" stroke-linecap="butt"/>
<text x="194.40" y="591.60" font-size="6.6" font-weight="bold" text-anchor="middle" fill="#111" stroke="#111" stroke-width="0.14">0</text>
<line x1="221.60" y1="582.50" x2="221.60" y2="580.50" stroke="#000" stroke-width="1" stroke-linecap="butt"/>
<text x="222.00" y="591.60" font-size="6.6" font-weight="bold" text-anchor="middle" fill="#111" stroke="#111" stroke-width="0.14">2</text>
<line x1="249.20" y1="582.50" x2="249.20" y2="580.50" stroke="#000" stroke-width="1" stroke-linecap="butt"/>
<text x="249.60" y="591.60" font-size="6.6" font-weight="bold" text-anchor="middle" fill="#111" stroke="#111" stroke-width="0.14">4</text>
<text x="196.00" y="601.00" font-size="6.55" font-weight="bold" text-anchor="middle" fill="#111" stroke="#111" stroke-width="0.14">Time offset (s)</text>
<text x="125.30" y="538.40" font-size="7.2" font-weight="bold" text-anchor="middle" fill="#111" transform="rotate(-90 125.30 538.40)" stroke="#111" stroke-width="0.14">Correlation coefficient</text>
<text x="204.80" y="493.60" font-size="7.28" font-weight="bold" text-anchor="middle" fill="#6a2c9a" stroke="#6a2c9a" stroke-width="0.14">0.8 s</text>
<line x1="461.15" y1="498.20" x2="461.15" y2="589.50" stroke="#000" stroke-width="1.6" stroke-dasharray="3.8,2.2" stroke-linecap="butt"/>
<line x1="467.50" y1="498.20" x2="467.50" y2="589.50" stroke="#aaa" stroke-width="2.3" stroke-linecap="butt"/>
<path d="M404.77,577.16 C405.58,577.03 407.91,576.94 409.62,576.35 C411.32,575.77 412.98,574.87 415.00,573.66 C417.02,572.45 419.49,570.43 421.73,569.08 C423.98,567.74 426.45,566.53 428.47,565.58 C430.48,564.64 431.83,564.10 433.85,563.43 C435.87,562.76 438.56,562.53 440.58,561.55 C442.60,560.56 444.17,559.97 445.97,557.51 C447.76,555.04 449.87,550.55 451.35,546.74 C452.83,542.92 453.60,539.11 454.85,534.62 C456.11,530.13 457.68,523.63 458.89,519.81 C460.10,516.00 461.00,513.30 462.12,511.73 C463.24,510.16 464.14,510.25 465.62,510.39 C467.10,510.52 469.03,511.06 471.01,512.54 C472.98,514.02 475.36,516.72 477.47,519.27 C479.58,521.83 481.96,524.88 483.66,527.89 C485.37,530.90 486.13,533.50 487.70,537.31 C489.27,541.13 491.51,547.72 493.09,550.78 C494.66,553.83 495.78,554.50 497.12,555.62 C498.47,556.74 499.82,556.74 501.16,557.51 C502.51,558.27 503.86,558.85 505.20,560.20 C506.55,561.55 507.67,563.56 509.24,565.58 C510.81,567.60 513.19,570.66 514.63,572.32 C516.06,573.98 517.32,575.01 517.86,575.55" fill="none" stroke="#000" stroke-width="1.9"/>
<rect x="404.40" y="498.20" width="113.50" height="91.30" fill="none" stroke="#000" stroke-width="1.5"/>
<line x1="404.40" y1="498.20" x2="406.40" y2="498.20" stroke="#000" stroke-width="1" stroke-linecap="butt"/>
<text x="402.00" y="500.50" font-size="6.6" font-weight="normal" text-anchor="end" fill="#111" stroke="#111" stroke-width="0.15">0.6</text>
<line x1="404.40" y1="511.24" x2="406.40" y2="511.24" stroke="#000" stroke-width="1" stroke-linecap="butt"/>
<text x="402.00" y="513.54" font-size="6.6" font-weight="normal" text-anchor="end" fill="#111" stroke="#111" stroke-width="0.15">0.5</text>
<line x1="404.40" y1="524.29" x2="406.40" y2="524.29" stroke="#000" stroke-width="1" stroke-linecap="butt"/>
<text x="402.00" y="526.59" font-size="6.6" font-weight="normal" text-anchor="end" fill="#111" stroke="#111" stroke-width="0.15">0.4</text>
<line x1="404.40" y1="537.33" x2="406.40" y2="537.33" stroke="#000" stroke-width="1" stroke-linecap="butt"/>
<text x="402.00" y="539.63" font-size="6.6" font-weight="normal" text-anchor="end" fill="#111" stroke="#111" stroke-width="0.15">0.3</text>
<line x1="404.40" y1="550.37" x2="406.40" y2="550.37" stroke="#000" stroke-width="1" stroke-linecap="butt"/>
<text x="402.00" y="552.67" font-size="6.6" font-weight="normal" text-anchor="end" fill="#111" stroke="#111" stroke-width="0.15">0.2</text>
<line x1="404.40" y1="563.41" x2="406.40" y2="563.41" stroke="#000" stroke-width="1" stroke-linecap="butt"/>
<text x="402.00" y="565.71" font-size="6.6" font-weight="normal" text-anchor="end" fill="#111" stroke="#111" stroke-width="0.15">0.1</text>
<line x1="404.40" y1="576.46" x2="406.40" y2="576.46" stroke="#000" stroke-width="1" stroke-linecap="butt"/>
<text x="400.60" y="578.76" font-size="6.6" font-weight="normal" text-anchor="end" fill="#111" stroke="#111" stroke-width="0.15">0</text>
<line x1="404.40" y1="589.50" x2="406.40" y2="589.50" stroke="#000" stroke-width="1" stroke-linecap="butt"/>
<text x="402.00" y="591.80" font-size="6.6" font-weight="normal" text-anchor="end" fill="#111" stroke="#111" stroke-width="0.15">-0.1</text>
<line x1="404.40" y1="589.50" x2="404.40" y2="587.50" stroke="#000" stroke-width="1" stroke-linecap="butt"/>
<text x="404.40" y="597.80" font-size="6.9" font-weight="normal" text-anchor="middle" fill="#111" stroke="#111" stroke-width="0.14">-4</text>
<line x1="432.77" y1="589.50" x2="432.77" y2="587.50" stroke="#000" stroke-width="1" stroke-linecap="butt"/>
<text x="432.77" y="597.80" font-size="6.9" font-weight="normal" text-anchor="middle" fill="#111" stroke="#111" stroke-width="0.14">-2</text>
<line x1="461.15" y1="589.50" x2="461.15" y2="587.50" stroke="#000" stroke-width="1" stroke-linecap="butt"/>
<text x="461.15" y="597.80" font-size="6.9" font-weight="normal" text-anchor="middle" fill="#111" stroke="#111" stroke-width="0.14">0</text>
<line x1="489.52" y1="589.50" x2="489.52" y2="587.50" stroke="#000" stroke-width="1" stroke-linecap="butt"/>
<text x="489.52" y="597.80" font-size="6.9" font-weight="normal" text-anchor="middle" fill="#111" stroke="#111" stroke-width="0.14">2</text>
<line x1="517.90" y1="589.50" x2="517.90" y2="587.50" stroke="#000" stroke-width="1" stroke-linecap="butt"/>
<text x="517.90" y="597.80" font-size="6.9" font-weight="normal" text-anchor="middle" fill="#111" stroke="#111" stroke-width="0.14">4</text>
<text x="462.20" y="605.80" font-size="6.5" font-weight="bold" text-anchor="middle" fill="#111" stroke="#111" stroke-width="0.14">Time offset (s)</text>
<text x="389.00" y="541.60" font-size="7.5" font-weight="bold" text-anchor="middle" fill="#111" transform="rotate(-90 389.00 541.60)" stroke="#111" stroke-width="0.14">Correlation coefficient</text>
<text x="469.40" y="495.60" font-size="7.4" font-weight="normal" text-anchor="middle" fill="#222" stroke="#222" stroke-width="0.15">0, 4 s</text>
</svg>
</body></html>
